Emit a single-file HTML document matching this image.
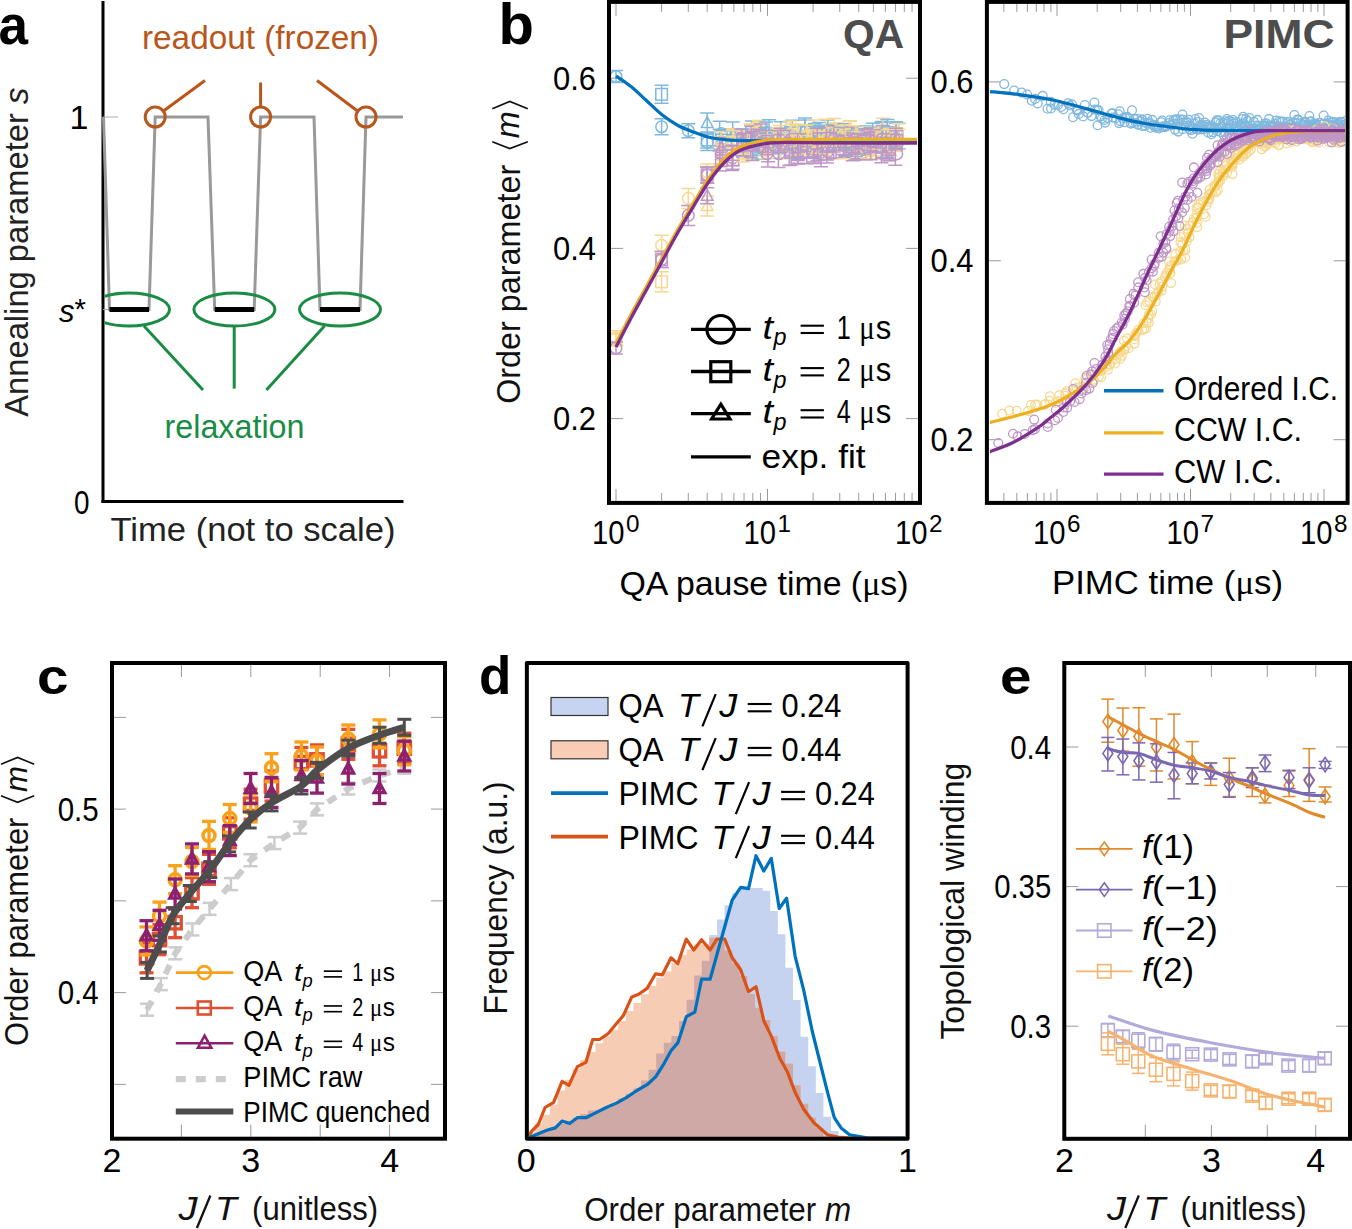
<!DOCTYPE html>
<html><head><meta charset="utf-8"><style>html,body{margin:0;padding:0;background:#fff;}svg{display:block;}</style></head>
<body><svg width="1352" height="1229" viewBox="0 0 1352 1229">
<rect width="1352" height="1229" fill="#fff"/>
<text x="-1.5" y="44.3" font-size="55" fill="#000" font-weight="bold" textLength="29.5" lengthAdjust="spacingAndGlyphs" font-family='"Liberation Sans", sans-serif' >a</text>
<line x1="103.00" y1="1.00" x2="103.00" y2="503.00" stroke="#000" stroke-width="3" />
<line x1="101.50" y1="501.60" x2="403.50" y2="501.60" stroke="#000" stroke-width="3" />
<line x1="103.00" y1="117.00" x2="118.00" y2="117.00" stroke="#aaa" stroke-width="1" />
<line x1="103.00" y1="309.50" x2="111.00" y2="309.50" stroke="#aaa" stroke-width="1" />
<path d="M103.5,117.0 L109.5,309.5 L149.0,309.5 L155.2,117.0 L208.0,117.0 L214.7,309.5 L254.2,309.5 L260.6,117.0 L314.0,117.0 L320.0,309.5 L360.0,309.5 L366.0,117.0 L403.0,117.0" stroke="#999" stroke-width="3" fill="none" stroke-linejoin="miter"/>
<line x1="109.50" y1="309.50" x2="149.00" y2="309.50" stroke="#000" stroke-width="5" />
<line x1="214.70" y1="309.50" x2="254.20" y2="309.50" stroke="#000" stroke-width="5" />
<line x1="320.00" y1="309.50" x2="360.00" y2="309.50" stroke="#000" stroke-width="5" />
<circle cx="155.2" cy="117" r="10" fill="none" stroke="#B8561B" stroke-width="3"/>
<circle cx="260.6" cy="117" r="10" fill="none" stroke="#B8561B" stroke-width="3"/>
<circle cx="366" cy="117" r="10" fill="none" stroke="#B8561B" stroke-width="3"/>
<line x1="163.50" y1="111.00" x2="205.00" y2="80.50" stroke="#B8561B" stroke-width="3" />
<line x1="260.60" y1="82.50" x2="260.60" y2="107.00" stroke="#B8561B" stroke-width="3" />
<line x1="317.00" y1="80.50" x2="357.50" y2="111.00" stroke="#B8561B" stroke-width="3" />
<clipPath id="clipA"><rect x="104.5" y="0" width="320" height="500"/></clipPath>
<ellipse cx="129" cy="309.5" rx="40.5" ry="16.5" fill="none" stroke="#1A8C44" stroke-width="3" clip-path="url(#clipA)"/>
<ellipse cx="234.4" cy="309.5" rx="40.5" ry="16.5" fill="none" stroke="#1A8C44" stroke-width="3" clip-path="url(#clipA)"/>
<ellipse cx="340" cy="309.5" rx="40.5" ry="16.5" fill="none" stroke="#1A8C44" stroke-width="3" clip-path="url(#clipA)"/>
<line x1="144.00" y1="326.00" x2="203.00" y2="390.00" stroke="#1A8C44" stroke-width="3" />
<line x1="234.20" y1="326.00" x2="234.20" y2="388.60" stroke="#1A8C44" stroke-width="3" />
<line x1="324.50" y1="326.00" x2="266.40" y2="390.00" stroke="#1A8C44" stroke-width="3" />
<text x="142.0" y="48.8" font-size="33" fill="#B8561B" textLength="237" lengthAdjust="spacingAndGlyphs" font-family='"Liberation Sans", sans-serif' >readout (frozen)</text>
<text x="164.5" y="437.9" font-size="33.5" fill="#1A8C44" textLength="140" lengthAdjust="spacingAndGlyphs" font-family='"Liberation Sans", sans-serif' >relaxation</text>
<text x="110.5" y="540.9" font-size="33.5" fill="#222" textLength="285" lengthAdjust="spacingAndGlyphs" font-family='"Liberation Sans", sans-serif' >Time (not to scale)</text>
<text x="88.5" y="128.6" font-size="34" fill="#000" text-anchor="end" font-family='"Liberation Sans", sans-serif' >1</text>
<text x="74.0" y="513.5" font-size="34" fill="#000" textLength="15.5" lengthAdjust="spacingAndGlyphs" font-family='"Liberation Sans", sans-serif' >0</text>
<text x="59.0" y="322.0" font-size="31" fill="#000" font-style="italic" font-family='"Liberation Sans", sans-serif' >s</text>
<text x="74.5" y="319.0" font-size="29" fill="#000" font-family='"Liberation Sans", sans-serif' >*</text>
<text transform="translate(27.7,416.7) rotate(-90)" x="0" y="0" font-size="33" fill="#222" font-family='"Liberation Sans", sans-serif' textLength="329" lengthAdjust="spacingAndGlyphs">Annealing parameter <tspan font-style="italic">s</tspan></text>
<text x="498.5" y="43.8" font-size="58" fill="#000" font-weight="bold" font-family='"Liberation Sans", sans-serif' >b</text>
<line x1="611.00" y1="78.20" x2="623.00" y2="78.20" stroke="#9a9a9a" stroke-width="1" />
<line x1="906.00" y1="78.20" x2="918.00" y2="78.20" stroke="#9a9a9a" stroke-width="1" />
<line x1="611.00" y1="248.40" x2="623.00" y2="248.40" stroke="#9a9a9a" stroke-width="1" />
<line x1="906.00" y1="248.40" x2="918.00" y2="248.40" stroke="#9a9a9a" stroke-width="1" />
<line x1="611.00" y1="418.60" x2="623.00" y2="418.60" stroke="#9a9a9a" stroke-width="1" />
<line x1="906.00" y1="418.60" x2="918.00" y2="418.60" stroke="#9a9a9a" stroke-width="1" />
<line x1="616.00" y1="3.90" x2="616.00" y2="15.90" stroke="#9a9a9a" stroke-width="1" />
<line x1="616.00" y1="488.90" x2="616.00" y2="500.90" stroke="#9a9a9a" stroke-width="1" />
<line x1="661.61" y1="3.90" x2="661.61" y2="11.90" stroke="#9a9a9a" stroke-width="1" />
<line x1="661.61" y1="492.90" x2="661.61" y2="500.90" stroke="#9a9a9a" stroke-width="1" />
<line x1="688.28" y1="3.90" x2="688.28" y2="11.90" stroke="#9a9a9a" stroke-width="1" />
<line x1="688.28" y1="492.90" x2="688.28" y2="500.90" stroke="#9a9a9a" stroke-width="1" />
<line x1="707.21" y1="3.90" x2="707.21" y2="11.90" stroke="#9a9a9a" stroke-width="1" />
<line x1="707.21" y1="492.90" x2="707.21" y2="500.90" stroke="#9a9a9a" stroke-width="1" />
<line x1="721.89" y1="3.90" x2="721.89" y2="11.90" stroke="#9a9a9a" stroke-width="1" />
<line x1="721.89" y1="492.90" x2="721.89" y2="500.90" stroke="#9a9a9a" stroke-width="1" />
<line x1="733.89" y1="3.90" x2="733.89" y2="11.90" stroke="#9a9a9a" stroke-width="1" />
<line x1="733.89" y1="492.90" x2="733.89" y2="500.90" stroke="#9a9a9a" stroke-width="1" />
<line x1="744.03" y1="3.90" x2="744.03" y2="11.90" stroke="#9a9a9a" stroke-width="1" />
<line x1="744.03" y1="492.90" x2="744.03" y2="500.90" stroke="#9a9a9a" stroke-width="1" />
<line x1="752.82" y1="3.90" x2="752.82" y2="11.90" stroke="#9a9a9a" stroke-width="1" />
<line x1="752.82" y1="492.90" x2="752.82" y2="500.90" stroke="#9a9a9a" stroke-width="1" />
<line x1="760.57" y1="3.90" x2="760.57" y2="11.90" stroke="#9a9a9a" stroke-width="1" />
<line x1="760.57" y1="492.90" x2="760.57" y2="500.90" stroke="#9a9a9a" stroke-width="1" />
<line x1="767.50" y1="3.90" x2="767.50" y2="15.90" stroke="#9a9a9a" stroke-width="1" />
<line x1="767.50" y1="488.90" x2="767.50" y2="500.90" stroke="#9a9a9a" stroke-width="1" />
<line x1="813.11" y1="3.90" x2="813.11" y2="11.90" stroke="#9a9a9a" stroke-width="1" />
<line x1="813.11" y1="492.90" x2="813.11" y2="500.90" stroke="#9a9a9a" stroke-width="1" />
<line x1="839.78" y1="3.90" x2="839.78" y2="11.90" stroke="#9a9a9a" stroke-width="1" />
<line x1="839.78" y1="492.90" x2="839.78" y2="500.90" stroke="#9a9a9a" stroke-width="1" />
<line x1="858.71" y1="3.90" x2="858.71" y2="11.90" stroke="#9a9a9a" stroke-width="1" />
<line x1="858.71" y1="492.90" x2="858.71" y2="500.90" stroke="#9a9a9a" stroke-width="1" />
<line x1="873.39" y1="3.90" x2="873.39" y2="11.90" stroke="#9a9a9a" stroke-width="1" />
<line x1="873.39" y1="492.90" x2="873.39" y2="500.90" stroke="#9a9a9a" stroke-width="1" />
<line x1="885.39" y1="3.90" x2="885.39" y2="11.90" stroke="#9a9a9a" stroke-width="1" />
<line x1="885.39" y1="492.90" x2="885.39" y2="500.90" stroke="#9a9a9a" stroke-width="1" />
<line x1="895.53" y1="3.90" x2="895.53" y2="11.90" stroke="#9a9a9a" stroke-width="1" />
<line x1="895.53" y1="492.90" x2="895.53" y2="500.90" stroke="#9a9a9a" stroke-width="1" />
<line x1="904.32" y1="3.90" x2="904.32" y2="11.90" stroke="#9a9a9a" stroke-width="1" />
<line x1="904.32" y1="492.90" x2="904.32" y2="500.90" stroke="#9a9a9a" stroke-width="1" />
<line x1="912.07" y1="3.90" x2="912.07" y2="11.90" stroke="#9a9a9a" stroke-width="1" />
<line x1="912.07" y1="492.90" x2="912.07" y2="500.90" stroke="#9a9a9a" stroke-width="1" />
<text x="596.0" y="89.7" font-size="34" fill="#000" text-anchor="end" textLength="43" lengthAdjust="spacingAndGlyphs" font-family='"Liberation Sans", sans-serif' >0.6</text>
<text x="596.0" y="259.9" font-size="34" fill="#000" text-anchor="end" textLength="43" lengthAdjust="spacingAndGlyphs" font-family='"Liberation Sans", sans-serif' >0.4</text>
<text x="596.0" y="430.1" font-size="34" fill="#000" text-anchor="end" textLength="43" lengthAdjust="spacingAndGlyphs" font-family='"Liberation Sans", sans-serif' >0.2</text>
<text x="592.0" y="543.6" font-size="34" fill="#000" textLength="32.5" lengthAdjust="spacingAndGlyphs" font-family='"Liberation Sans", sans-serif' >10</text>
<text x="626.0" y="532.3" font-size="24" fill="#000" textLength="13.5" lengthAdjust="spacingAndGlyphs" font-family='"Liberation Sans", sans-serif' >0</text>
<text x="743.5" y="543.6" font-size="34" fill="#000" textLength="32.5" lengthAdjust="spacingAndGlyphs" font-family='"Liberation Sans", sans-serif' >10</text>
<text x="777.5" y="532.3" font-size="24" fill="#000" textLength="13.5" lengthAdjust="spacingAndGlyphs" font-family='"Liberation Sans", sans-serif' >1</text>
<text x="895.0" y="543.6" font-size="34" fill="#000" textLength="32.5" lengthAdjust="spacingAndGlyphs" font-family='"Liberation Sans", sans-serif' >10</text>
<text x="929.0" y="532.3" font-size="24" fill="#000" textLength="13.5" lengthAdjust="spacingAndGlyphs" font-family='"Liberation Sans", sans-serif' >2</text>
<text x="619.5" y="594.5" font-size="33" fill="#000" textLength="289" lengthAdjust="spacingAndGlyphs" font-family='"Liberation Sans", sans-serif' >QA pause time (<tspan font-family='"Liberation Serif", serif'>μ</tspan>s)</text>
<text transform="translate(519.6,403.8) rotate(-90)" x="0" y="0" font-size="33" fill="#111" font-family='"Liberation Sans", sans-serif' textLength="239" lengthAdjust="spacingAndGlyphs">Order parameter</text>
<text transform="translate(518.8,138.3) rotate(-90)" x="0" y="0" font-size="33" fill="#111" font-style="italic" font-family='"Liberation Sans", sans-serif' textLength="27" lengthAdjust="spacingAndGlyphs">m</text>
<path d="M492.3,108.7 L509.8,101.4 L527.8,108.7" stroke="#111" stroke-width="1.7" fill="none" />
<path d="M492.3,141.7 L509.8,148.6 L527.8,141.7" stroke="#111" stroke-width="1.7" fill="none" />
<text x="843.0" y="48.3" font-size="40" fill="#4D4D4D" font-weight="bold" textLength="61" lengthAdjust="spacingAndGlyphs" font-family='"Liberation Sans", sans-serif' >QA</text>
<clipPath id="clipQA"><rect x="611" y="4.5" width="306" height="496"/></clipPath>
<g clip-path="url(#clipQA)">
<line x1="616.00" y1="70.50" x2="616.00" y2="82.50" stroke="#80B8DE" stroke-width="1.5" />
<line x1="609.00" y1="70.50" x2="623.00" y2="70.50" stroke="#80B8DE" stroke-width="1.5" />
<line x1="609.00" y1="82.50" x2="623.00" y2="82.50" stroke="#80B8DE" stroke-width="1.5" />
<circle cx="616.0" cy="76.5" r="5.8" fill="none" stroke="#80B8DE" stroke-width="1.5"/>
<line x1="661.61" y1="118.80" x2="661.61" y2="134.80" stroke="#80B8DE" stroke-width="1.5" />
<line x1="654.61" y1="118.80" x2="668.61" y2="118.80" stroke="#80B8DE" stroke-width="1.5" />
<line x1="654.61" y1="134.80" x2="668.61" y2="134.80" stroke="#80B8DE" stroke-width="1.5" />
<circle cx="661.6" cy="126.8" r="5.8" fill="none" stroke="#80B8DE" stroke-width="1.5"/>
<line x1="688.28" y1="123.70" x2="688.28" y2="137.70" stroke="#80B8DE" stroke-width="1.5" />
<line x1="681.28" y1="123.70" x2="695.28" y2="123.70" stroke="#80B8DE" stroke-width="1.5" />
<line x1="681.28" y1="137.70" x2="695.28" y2="137.70" stroke="#80B8DE" stroke-width="1.5" />
<circle cx="688.3" cy="130.7" r="5.8" fill="none" stroke="#80B8DE" stroke-width="1.5"/>
<line x1="707.21" y1="134.40" x2="707.21" y2="150.40" stroke="#80B8DE" stroke-width="1.5" />
<line x1="700.21" y1="134.40" x2="714.21" y2="134.40" stroke="#80B8DE" stroke-width="1.5" />
<line x1="700.21" y1="150.40" x2="714.21" y2="150.40" stroke="#80B8DE" stroke-width="1.5" />
<circle cx="707.2" cy="142.4" r="5.8" fill="none" stroke="#80B8DE" stroke-width="1.5"/>
<line x1="661.61" y1="85.30" x2="661.61" y2="103.30" stroke="#80B8DE" stroke-width="1.5" />
<line x1="654.61" y1="85.30" x2="668.61" y2="85.30" stroke="#80B8DE" stroke-width="1.5" />
<line x1="654.61" y1="103.30" x2="668.61" y2="103.30" stroke="#80B8DE" stroke-width="1.5" />
<rect x="655.8" y="88.5" width="11.6" height="11.6" fill="none" stroke="#80B8DE" stroke-width="1.5"/>
<line x1="707.21" y1="132.00" x2="707.21" y2="148.00" stroke="#80B8DE" stroke-width="1.5" />
<line x1="700.21" y1="132.00" x2="714.21" y2="132.00" stroke="#80B8DE" stroke-width="1.5" />
<line x1="700.21" y1="148.00" x2="714.21" y2="148.00" stroke="#80B8DE" stroke-width="1.5" />
<rect x="701.4" y="134.2" width="11.6" height="11.6" fill="none" stroke="#80B8DE" stroke-width="1.5"/>
<line x1="707.21" y1="113.00" x2="707.21" y2="133.00" stroke="#80B8DE" stroke-width="1.5" />
<line x1="700.21" y1="113.00" x2="714.21" y2="113.00" stroke="#80B8DE" stroke-width="1.5" />
<line x1="700.21" y1="133.00" x2="714.21" y2="133.00" stroke="#80B8DE" stroke-width="1.5" />
<path d="M707.2,116.6 L713.0,127.5 L701.4,127.5 Z" fill="none" stroke="#80B8DE" stroke-width="1.5"/>
<line x1="616.00" y1="330.80" x2="616.00" y2="344.80" stroke="#F6D890" stroke-width="1.5" />
<line x1="609.00" y1="330.80" x2="623.00" y2="330.80" stroke="#F6D890" stroke-width="1.5" />
<line x1="609.00" y1="344.80" x2="623.00" y2="344.80" stroke="#F6D890" stroke-width="1.5" />
<circle cx="616.0" cy="337.8" r="5.8" fill="none" stroke="#F6D890" stroke-width="1.5"/>
<line x1="661.61" y1="235.30" x2="661.61" y2="255.30" stroke="#F6D890" stroke-width="1.5" />
<line x1="654.61" y1="235.30" x2="668.61" y2="235.30" stroke="#F6D890" stroke-width="1.5" />
<line x1="654.61" y1="255.30" x2="668.61" y2="255.30" stroke="#F6D890" stroke-width="1.5" />
<circle cx="661.6" cy="245.3" r="5.8" fill="none" stroke="#F6D890" stroke-width="1.5"/>
<line x1="688.28" y1="188.40" x2="688.28" y2="208.40" stroke="#F6D890" stroke-width="1.5" />
<line x1="681.28" y1="188.40" x2="695.28" y2="188.40" stroke="#F6D890" stroke-width="1.5" />
<line x1="681.28" y1="208.40" x2="695.28" y2="208.40" stroke="#F6D890" stroke-width="1.5" />
<circle cx="688.3" cy="198.4" r="5.8" fill="none" stroke="#F6D890" stroke-width="1.5"/>
<line x1="707.21" y1="164.00" x2="707.21" y2="180.00" stroke="#F6D890" stroke-width="1.5" />
<line x1="700.21" y1="164.00" x2="714.21" y2="164.00" stroke="#F6D890" stroke-width="1.5" />
<line x1="700.21" y1="180.00" x2="714.21" y2="180.00" stroke="#F6D890" stroke-width="1.5" />
<circle cx="707.2" cy="172.0" r="5.8" fill="none" stroke="#F6D890" stroke-width="1.5"/>
<line x1="616.00" y1="334.00" x2="616.00" y2="346.00" stroke="#F6D890" stroke-width="1.5" />
<line x1="609.00" y1="334.00" x2="623.00" y2="334.00" stroke="#F6D890" stroke-width="1.5" />
<line x1="609.00" y1="346.00" x2="623.00" y2="346.00" stroke="#F6D890" stroke-width="1.5" />
<rect x="610.2" y="334.2" width="11.6" height="11.6" fill="none" stroke="#F6D890" stroke-width="1.5"/>
<line x1="661.61" y1="271.80" x2="661.61" y2="291.80" stroke="#F6D890" stroke-width="1.5" />
<line x1="654.61" y1="271.80" x2="668.61" y2="271.80" stroke="#F6D890" stroke-width="1.5" />
<line x1="654.61" y1="291.80" x2="668.61" y2="291.80" stroke="#F6D890" stroke-width="1.5" />
<rect x="655.8" y="276.0" width="11.6" height="11.6" fill="none" stroke="#F6D890" stroke-width="1.5"/>
<line x1="707.21" y1="167.00" x2="707.21" y2="183.00" stroke="#F6D890" stroke-width="1.5" />
<line x1="700.21" y1="167.00" x2="714.21" y2="167.00" stroke="#F6D890" stroke-width="1.5" />
<line x1="700.21" y1="183.00" x2="714.21" y2="183.00" stroke="#F6D890" stroke-width="1.5" />
<rect x="701.4" y="169.2" width="11.6" height="11.6" fill="none" stroke="#F6D890" stroke-width="1.5"/>
<line x1="707.21" y1="196.00" x2="707.21" y2="216.00" stroke="#F6D890" stroke-width="1.5" />
<line x1="700.21" y1="196.00" x2="714.21" y2="196.00" stroke="#F6D890" stroke-width="1.5" />
<line x1="700.21" y1="216.00" x2="714.21" y2="216.00" stroke="#F6D890" stroke-width="1.5" />
<path d="M707.2,199.6 L713.0,210.5 L701.4,210.5 Z" fill="none" stroke="#F6D890" stroke-width="1.5"/>
<line x1="616.00" y1="342.00" x2="616.00" y2="354.00" stroke="#BF97C7" stroke-width="1.5" />
<line x1="609.00" y1="342.00" x2="623.00" y2="342.00" stroke="#BF97C7" stroke-width="1.5" />
<line x1="609.00" y1="354.00" x2="623.00" y2="354.00" stroke="#BF97C7" stroke-width="1.5" />
<circle cx="616.0" cy="348.0" r="5.8" fill="none" stroke="#BF97C7" stroke-width="1.5"/>
<line x1="661.61" y1="251.60" x2="661.61" y2="267.60" stroke="#BF97C7" stroke-width="1.5" />
<line x1="654.61" y1="251.60" x2="668.61" y2="251.60" stroke="#BF97C7" stroke-width="1.5" />
<line x1="654.61" y1="267.60" x2="668.61" y2="267.60" stroke="#BF97C7" stroke-width="1.5" />
<circle cx="661.6" cy="259.6" r="5.8" fill="none" stroke="#BF97C7" stroke-width="1.5"/>
<line x1="688.28" y1="205.40" x2="688.28" y2="225.40" stroke="#BF97C7" stroke-width="1.5" />
<line x1="681.28" y1="205.40" x2="695.28" y2="205.40" stroke="#BF97C7" stroke-width="1.5" />
<line x1="681.28" y1="225.40" x2="695.28" y2="225.40" stroke="#BF97C7" stroke-width="1.5" />
<circle cx="688.3" cy="215.4" r="5.8" fill="none" stroke="#BF97C7" stroke-width="1.5"/>
<line x1="707.21" y1="167.00" x2="707.21" y2="183.00" stroke="#BF97C7" stroke-width="1.5" />
<line x1="700.21" y1="167.00" x2="714.21" y2="167.00" stroke="#BF97C7" stroke-width="1.5" />
<line x1="700.21" y1="183.00" x2="714.21" y2="183.00" stroke="#BF97C7" stroke-width="1.5" />
<circle cx="707.2" cy="175.0" r="5.8" fill="none" stroke="#BF97C7" stroke-width="1.5"/>
<line x1="661.61" y1="251.60" x2="661.61" y2="267.60" stroke="#BF97C7" stroke-width="1.5" />
<line x1="654.61" y1="251.60" x2="668.61" y2="251.60" stroke="#BF97C7" stroke-width="1.5" />
<line x1="654.61" y1="267.60" x2="668.61" y2="267.60" stroke="#BF97C7" stroke-width="1.5" />
<rect x="655.8" y="253.8" width="11.6" height="11.6" fill="none" stroke="#BF97C7" stroke-width="1.5"/>
<line x1="707.21" y1="167.00" x2="707.21" y2="183.00" stroke="#BF97C7" stroke-width="1.5" />
<line x1="700.21" y1="167.00" x2="714.21" y2="167.00" stroke="#BF97C7" stroke-width="1.5" />
<line x1="700.21" y1="183.00" x2="714.21" y2="183.00" stroke="#BF97C7" stroke-width="1.5" />
<rect x="701.4" y="169.2" width="11.6" height="11.6" fill="none" stroke="#BF97C7" stroke-width="1.5"/>
<line x1="707.21" y1="187.80" x2="707.21" y2="203.80" stroke="#BF97C7" stroke-width="1.5" />
<line x1="700.21" y1="187.80" x2="714.21" y2="187.80" stroke="#BF97C7" stroke-width="1.5" />
<line x1="700.21" y1="203.80" x2="714.21" y2="203.80" stroke="#BF97C7" stroke-width="1.5" />
<path d="M707.2,189.4 L713.0,200.3 L701.4,200.3 Z" fill="none" stroke="#BF97C7" stroke-width="1.5"/>
<line x1="719.66" y1="121.31" x2="719.66" y2="145.82" stroke="#80B8DE" stroke-width="1.5" />
<line x1="712.66" y1="121.31" x2="726.66" y2="121.31" stroke="#80B8DE" stroke-width="1.5" />
<line x1="712.66" y1="145.82" x2="726.66" y2="145.82" stroke="#80B8DE" stroke-width="1.5" />
<circle cx="721.4" cy="133.6" r="5.8" fill="none" stroke="#80B8DE" stroke-width="1.5"/>
<line x1="719.60" y1="129.28" x2="719.60" y2="150.94" stroke="#80B8DE" stroke-width="1.5" />
<line x1="712.60" y1="129.28" x2="726.60" y2="129.28" stroke="#80B8DE" stroke-width="1.5" />
<line x1="712.60" y1="150.94" x2="726.60" y2="150.94" stroke="#80B8DE" stroke-width="1.5" />
<rect x="715.6" y="134.3" width="11.6" height="11.6" fill="none" stroke="#80B8DE" stroke-width="1.5"/>
<line x1="721.10" y1="130.44" x2="721.10" y2="148.81" stroke="#80B8DE" stroke-width="1.5" />
<line x1="714.10" y1="130.44" x2="728.10" y2="130.44" stroke="#80B8DE" stroke-width="1.5" />
<line x1="714.10" y1="148.81" x2="728.10" y2="148.81" stroke="#80B8DE" stroke-width="1.5" />
<path d="M721.4,133.2 L727.2,144.1 L715.6,144.1 Z" fill="none" stroke="#80B8DE" stroke-width="1.5"/>
<line x1="721.06" y1="131.73" x2="721.06" y2="150.64" stroke="#F6D890" stroke-width="1.5" />
<line x1="714.06" y1="131.73" x2="728.06" y2="131.73" stroke="#F6D890" stroke-width="1.5" />
<line x1="714.06" y1="150.64" x2="728.06" y2="150.64" stroke="#F6D890" stroke-width="1.5" />
<circle cx="721.4" cy="141.2" r="5.8" fill="none" stroke="#F6D890" stroke-width="1.5"/>
<line x1="720.26" y1="144.44" x2="720.26" y2="163.68" stroke="#F6D890" stroke-width="1.5" />
<line x1="713.26" y1="144.44" x2="727.26" y2="144.44" stroke="#F6D890" stroke-width="1.5" />
<line x1="713.26" y1="163.68" x2="727.26" y2="163.68" stroke="#F6D890" stroke-width="1.5" />
<rect x="715.6" y="148.3" width="11.6" height="11.6" fill="none" stroke="#F6D890" stroke-width="1.5"/>
<line x1="721.67" y1="136.93" x2="721.67" y2="164.40" stroke="#F6D890" stroke-width="1.5" />
<line x1="714.67" y1="136.93" x2="728.67" y2="136.93" stroke="#F6D890" stroke-width="1.5" />
<line x1="714.67" y1="164.40" x2="728.67" y2="164.40" stroke="#F6D890" stroke-width="1.5" />
<path d="M721.4,144.3 L727.2,155.1 L715.6,155.1 Z" fill="none" stroke="#F6D890" stroke-width="1.5"/>
<line x1="719.55" y1="138.86" x2="719.55" y2="166.62" stroke="#BF97C7" stroke-width="1.5" />
<line x1="712.55" y1="138.86" x2="726.55" y2="138.86" stroke="#BF97C7" stroke-width="1.5" />
<line x1="712.55" y1="166.62" x2="726.55" y2="166.62" stroke="#BF97C7" stroke-width="1.5" />
<circle cx="721.4" cy="152.7" r="5.8" fill="none" stroke="#BF97C7" stroke-width="1.5"/>
<line x1="719.94" y1="150.15" x2="719.94" y2="171.04" stroke="#BF97C7" stroke-width="1.5" />
<line x1="712.94" y1="150.15" x2="726.94" y2="150.15" stroke="#BF97C7" stroke-width="1.5" />
<line x1="712.94" y1="171.04" x2="726.94" y2="171.04" stroke="#BF97C7" stroke-width="1.5" />
<rect x="715.6" y="154.8" width="11.6" height="11.6" fill="none" stroke="#BF97C7" stroke-width="1.5"/>
<line x1="722.63" y1="137.46" x2="722.63" y2="158.54" stroke="#BF97C7" stroke-width="1.5" />
<line x1="715.63" y1="137.46" x2="729.63" y2="137.46" stroke="#BF97C7" stroke-width="1.5" />
<line x1="715.63" y1="158.54" x2="729.63" y2="158.54" stroke="#BF97C7" stroke-width="1.5" />
<path d="M721.4,141.6 L727.2,152.5 L715.6,152.5 Z" fill="none" stroke="#BF97C7" stroke-width="1.5"/>
<line x1="732.42" y1="128.69" x2="732.42" y2="153.08" stroke="#80B8DE" stroke-width="1.5" />
<line x1="725.42" y1="128.69" x2="739.42" y2="128.69" stroke="#80B8DE" stroke-width="1.5" />
<line x1="725.42" y1="153.08" x2="739.42" y2="153.08" stroke="#80B8DE" stroke-width="1.5" />
<circle cx="732.9" cy="140.9" r="5.8" fill="none" stroke="#80B8DE" stroke-width="1.5"/>
<line x1="731.17" y1="131.00" x2="731.17" y2="149.63" stroke="#80B8DE" stroke-width="1.5" />
<line x1="724.17" y1="131.00" x2="738.17" y2="131.00" stroke="#80B8DE" stroke-width="1.5" />
<line x1="724.17" y1="149.63" x2="738.17" y2="149.63" stroke="#80B8DE" stroke-width="1.5" />
<rect x="727.1" y="134.5" width="11.6" height="11.6" fill="none" stroke="#80B8DE" stroke-width="1.5"/>
<line x1="732.64" y1="122.10" x2="732.64" y2="146.90" stroke="#80B8DE" stroke-width="1.5" />
<line x1="725.64" y1="122.10" x2="739.64" y2="122.10" stroke="#80B8DE" stroke-width="1.5" />
<line x1="725.64" y1="146.90" x2="739.64" y2="146.90" stroke="#80B8DE" stroke-width="1.5" />
<path d="M732.9,128.1 L738.7,139.0 L727.1,139.0 Z" fill="none" stroke="#80B8DE" stroke-width="1.5"/>
<line x1="732.74" y1="130.41" x2="732.74" y2="154.27" stroke="#F6D890" stroke-width="1.5" />
<line x1="725.74" y1="130.41" x2="739.74" y2="130.41" stroke="#F6D890" stroke-width="1.5" />
<line x1="725.74" y1="154.27" x2="739.74" y2="154.27" stroke="#F6D890" stroke-width="1.5" />
<circle cx="732.9" cy="142.3" r="5.8" fill="none" stroke="#F6D890" stroke-width="1.5"/>
<line x1="733.73" y1="129.12" x2="733.73" y2="155.07" stroke="#F6D890" stroke-width="1.5" />
<line x1="726.73" y1="129.12" x2="740.73" y2="129.12" stroke="#F6D890" stroke-width="1.5" />
<line x1="726.73" y1="155.07" x2="740.73" y2="155.07" stroke="#F6D890" stroke-width="1.5" />
<rect x="727.1" y="136.3" width="11.6" height="11.6" fill="none" stroke="#F6D890" stroke-width="1.5"/>
<line x1="733.03" y1="129.28" x2="733.03" y2="153.02" stroke="#F6D890" stroke-width="1.5" />
<line x1="726.03" y1="129.28" x2="740.03" y2="129.28" stroke="#F6D890" stroke-width="1.5" />
<line x1="726.03" y1="153.02" x2="740.03" y2="153.02" stroke="#F6D890" stroke-width="1.5" />
<path d="M732.9,134.8 L738.7,145.6 L727.1,145.6 Z" fill="none" stroke="#F6D890" stroke-width="1.5"/>
<line x1="732.08" y1="145.23" x2="732.08" y2="170.52" stroke="#BF97C7" stroke-width="1.5" />
<line x1="725.08" y1="145.23" x2="739.08" y2="145.23" stroke="#BF97C7" stroke-width="1.5" />
<line x1="725.08" y1="170.52" x2="739.08" y2="170.52" stroke="#BF97C7" stroke-width="1.5" />
<circle cx="732.9" cy="157.9" r="5.8" fill="none" stroke="#BF97C7" stroke-width="1.5"/>
<line x1="732.60" y1="150.07" x2="732.60" y2="169.25" stroke="#BF97C7" stroke-width="1.5" />
<line x1="725.60" y1="150.07" x2="739.60" y2="150.07" stroke="#BF97C7" stroke-width="1.5" />
<line x1="725.60" y1="169.25" x2="739.60" y2="169.25" stroke="#BF97C7" stroke-width="1.5" />
<rect x="727.1" y="153.9" width="11.6" height="11.6" fill="none" stroke="#BF97C7" stroke-width="1.5"/>
<line x1="732.89" y1="146.11" x2="732.89" y2="165.63" stroke="#BF97C7" stroke-width="1.5" />
<line x1="725.89" y1="146.11" x2="739.89" y2="146.11" stroke="#BF97C7" stroke-width="1.5" />
<line x1="725.89" y1="165.63" x2="739.89" y2="165.63" stroke="#BF97C7" stroke-width="1.5" />
<path d="M732.9,149.5 L738.7,160.3 L727.1,160.3 Z" fill="none" stroke="#BF97C7" stroke-width="1.5"/>
<line x1="742.94" y1="129.54" x2="742.94" y2="155.18" stroke="#80B8DE" stroke-width="1.5" />
<line x1="735.94" y1="129.54" x2="749.94" y2="129.54" stroke="#80B8DE" stroke-width="1.5" />
<line x1="735.94" y1="155.18" x2="749.94" y2="155.18" stroke="#80B8DE" stroke-width="1.5" />
<circle cx="742.6" cy="142.4" r="5.8" fill="none" stroke="#80B8DE" stroke-width="1.5"/>
<line x1="743.43" y1="135.31" x2="743.43" y2="156.45" stroke="#80B8DE" stroke-width="1.5" />
<line x1="736.43" y1="135.31" x2="750.43" y2="135.31" stroke="#80B8DE" stroke-width="1.5" />
<line x1="736.43" y1="156.45" x2="750.43" y2="156.45" stroke="#80B8DE" stroke-width="1.5" />
<rect x="736.8" y="140.1" width="11.6" height="11.6" fill="none" stroke="#80B8DE" stroke-width="1.5"/>
<line x1="742.47" y1="129.20" x2="742.47" y2="153.00" stroke="#80B8DE" stroke-width="1.5" />
<line x1="735.47" y1="129.20" x2="749.47" y2="129.20" stroke="#80B8DE" stroke-width="1.5" />
<line x1="735.47" y1="153.00" x2="749.47" y2="153.00" stroke="#80B8DE" stroke-width="1.5" />
<path d="M742.6,134.7 L748.4,145.6 L736.8,145.6 Z" fill="none" stroke="#80B8DE" stroke-width="1.5"/>
<line x1="742.55" y1="134.56" x2="742.55" y2="162.00" stroke="#F6D890" stroke-width="1.5" />
<line x1="735.55" y1="134.56" x2="749.55" y2="134.56" stroke="#F6D890" stroke-width="1.5" />
<line x1="735.55" y1="162.00" x2="749.55" y2="162.00" stroke="#F6D890" stroke-width="1.5" />
<circle cx="742.6" cy="148.3" r="5.8" fill="none" stroke="#F6D890" stroke-width="1.5"/>
<line x1="743.46" y1="135.99" x2="743.46" y2="154.59" stroke="#F6D890" stroke-width="1.5" />
<line x1="736.46" y1="135.99" x2="750.46" y2="135.99" stroke="#F6D890" stroke-width="1.5" />
<line x1="736.46" y1="154.59" x2="750.46" y2="154.59" stroke="#F6D890" stroke-width="1.5" />
<rect x="736.8" y="139.5" width="11.6" height="11.6" fill="none" stroke="#F6D890" stroke-width="1.5"/>
<line x1="743.94" y1="131.04" x2="743.94" y2="158.97" stroke="#F6D890" stroke-width="1.5" />
<line x1="736.94" y1="131.04" x2="750.94" y2="131.04" stroke="#F6D890" stroke-width="1.5" />
<line x1="736.94" y1="158.97" x2="750.94" y2="158.97" stroke="#F6D890" stroke-width="1.5" />
<path d="M742.6,138.6 L748.4,149.5 L736.8,149.5 Z" fill="none" stroke="#F6D890" stroke-width="1.5"/>
<line x1="743.32" y1="133.91" x2="743.32" y2="155.77" stroke="#BF97C7" stroke-width="1.5" />
<line x1="736.32" y1="133.91" x2="750.32" y2="133.91" stroke="#BF97C7" stroke-width="1.5" />
<line x1="736.32" y1="155.77" x2="750.32" y2="155.77" stroke="#BF97C7" stroke-width="1.5" />
<circle cx="742.6" cy="144.8" r="5.8" fill="none" stroke="#BF97C7" stroke-width="1.5"/>
<line x1="741.32" y1="129.08" x2="741.32" y2="151.69" stroke="#BF97C7" stroke-width="1.5" />
<line x1="734.32" y1="129.08" x2="748.32" y2="129.08" stroke="#BF97C7" stroke-width="1.5" />
<line x1="734.32" y1="151.69" x2="748.32" y2="151.69" stroke="#BF97C7" stroke-width="1.5" />
<rect x="736.8" y="134.6" width="11.6" height="11.6" fill="none" stroke="#BF97C7" stroke-width="1.5"/>
<line x1="743.72" y1="132.70" x2="743.72" y2="151.29" stroke="#BF97C7" stroke-width="1.5" />
<line x1="736.72" y1="132.70" x2="750.72" y2="132.70" stroke="#BF97C7" stroke-width="1.5" />
<line x1="736.72" y1="151.29" x2="750.72" y2="151.29" stroke="#BF97C7" stroke-width="1.5" />
<path d="M742.6,135.6 L748.4,146.5 L736.8,146.5 Z" fill="none" stroke="#BF97C7" stroke-width="1.5"/>
<line x1="753.19" y1="124.25" x2="753.19" y2="146.16" stroke="#80B8DE" stroke-width="1.5" />
<line x1="746.19" y1="124.25" x2="760.19" y2="124.25" stroke="#80B8DE" stroke-width="1.5" />
<line x1="746.19" y1="146.16" x2="760.19" y2="146.16" stroke="#80B8DE" stroke-width="1.5" />
<circle cx="751.7" cy="135.2" r="5.8" fill="none" stroke="#80B8DE" stroke-width="1.5"/>
<line x1="751.90" y1="121.12" x2="751.90" y2="143.62" stroke="#80B8DE" stroke-width="1.5" />
<line x1="744.90" y1="121.12" x2="758.90" y2="121.12" stroke="#80B8DE" stroke-width="1.5" />
<line x1="744.90" y1="143.62" x2="758.90" y2="143.62" stroke="#80B8DE" stroke-width="1.5" />
<rect x="745.9" y="126.6" width="11.6" height="11.6" fill="none" stroke="#80B8DE" stroke-width="1.5"/>
<line x1="753.16" y1="132.92" x2="753.16" y2="159.11" stroke="#80B8DE" stroke-width="1.5" />
<line x1="746.16" y1="132.92" x2="760.16" y2="132.92" stroke="#80B8DE" stroke-width="1.5" />
<line x1="746.16" y1="159.11" x2="760.16" y2="159.11" stroke="#80B8DE" stroke-width="1.5" />
<path d="M751.7,139.6 L757.5,150.5 L745.9,150.5 Z" fill="none" stroke="#80B8DE" stroke-width="1.5"/>
<line x1="751.14" y1="124.66" x2="751.14" y2="146.81" stroke="#F6D890" stroke-width="1.5" />
<line x1="744.14" y1="124.66" x2="758.14" y2="124.66" stroke="#F6D890" stroke-width="1.5" />
<line x1="744.14" y1="146.81" x2="758.14" y2="146.81" stroke="#F6D890" stroke-width="1.5" />
<circle cx="751.7" cy="135.7" r="5.8" fill="none" stroke="#F6D890" stroke-width="1.5"/>
<line x1="750.31" y1="132.24" x2="750.31" y2="159.82" stroke="#F6D890" stroke-width="1.5" />
<line x1="743.31" y1="132.24" x2="757.31" y2="132.24" stroke="#F6D890" stroke-width="1.5" />
<line x1="743.31" y1="159.82" x2="757.31" y2="159.82" stroke="#F6D890" stroke-width="1.5" />
<rect x="745.9" y="140.2" width="11.6" height="11.6" fill="none" stroke="#F6D890" stroke-width="1.5"/>
<line x1="750.64" y1="123.84" x2="750.64" y2="144.16" stroke="#F6D890" stroke-width="1.5" />
<line x1="743.64" y1="123.84" x2="757.64" y2="123.84" stroke="#F6D890" stroke-width="1.5" />
<line x1="743.64" y1="144.16" x2="757.64" y2="144.16" stroke="#F6D890" stroke-width="1.5" />
<path d="M751.7,127.6 L757.5,138.5 L745.9,138.5 Z" fill="none" stroke="#F6D890" stroke-width="1.5"/>
<line x1="750.76" y1="133.30" x2="750.76" y2="157.19" stroke="#BF97C7" stroke-width="1.5" />
<line x1="743.76" y1="133.30" x2="757.76" y2="133.30" stroke="#BF97C7" stroke-width="1.5" />
<line x1="743.76" y1="157.19" x2="757.76" y2="157.19" stroke="#BF97C7" stroke-width="1.5" />
<circle cx="751.7" cy="145.2" r="5.8" fill="none" stroke="#BF97C7" stroke-width="1.5"/>
<line x1="751.18" y1="125.97" x2="751.18" y2="148.16" stroke="#BF97C7" stroke-width="1.5" />
<line x1="744.18" y1="125.97" x2="758.18" y2="125.97" stroke="#BF97C7" stroke-width="1.5" />
<line x1="744.18" y1="148.16" x2="758.18" y2="148.16" stroke="#BF97C7" stroke-width="1.5" />
<rect x="745.9" y="131.3" width="11.6" height="11.6" fill="none" stroke="#BF97C7" stroke-width="1.5"/>
<line x1="752.47" y1="132.86" x2="752.47" y2="160.39" stroke="#BF97C7" stroke-width="1.5" />
<line x1="745.47" y1="132.86" x2="759.47" y2="132.86" stroke="#BF97C7" stroke-width="1.5" />
<line x1="745.47" y1="160.39" x2="759.47" y2="160.39" stroke="#BF97C7" stroke-width="1.5" />
<path d="M751.7,140.2 L757.5,151.1 L745.9,151.1 Z" fill="none" stroke="#BF97C7" stroke-width="1.5"/>
<line x1="758.83" y1="129.12" x2="758.83" y2="153.88" stroke="#80B8DE" stroke-width="1.5" />
<line x1="751.83" y1="129.12" x2="765.83" y2="129.12" stroke="#80B8DE" stroke-width="1.5" />
<line x1="751.83" y1="153.88" x2="765.83" y2="153.88" stroke="#80B8DE" stroke-width="1.5" />
<circle cx="760.6" cy="141.5" r="5.8" fill="none" stroke="#80B8DE" stroke-width="1.5"/>
<line x1="762.11" y1="133.39" x2="762.11" y2="159.19" stroke="#80B8DE" stroke-width="1.5" />
<line x1="755.11" y1="133.39" x2="769.11" y2="133.39" stroke="#80B8DE" stroke-width="1.5" />
<line x1="755.11" y1="159.19" x2="769.11" y2="159.19" stroke="#80B8DE" stroke-width="1.5" />
<rect x="754.8" y="140.5" width="11.6" height="11.6" fill="none" stroke="#80B8DE" stroke-width="1.5"/>
<line x1="760.21" y1="133.60" x2="760.21" y2="155.53" stroke="#80B8DE" stroke-width="1.5" />
<line x1="753.21" y1="133.60" x2="767.21" y2="133.60" stroke="#80B8DE" stroke-width="1.5" />
<line x1="753.21" y1="155.53" x2="767.21" y2="155.53" stroke="#80B8DE" stroke-width="1.5" />
<path d="M760.6,138.2 L766.4,149.0 L754.8,149.0 Z" fill="none" stroke="#80B8DE" stroke-width="1.5"/>
<line x1="758.86" y1="120.59" x2="758.86" y2="144.93" stroke="#F6D890" stroke-width="1.5" />
<line x1="751.86" y1="120.59" x2="765.86" y2="120.59" stroke="#F6D890" stroke-width="1.5" />
<line x1="751.86" y1="144.93" x2="765.86" y2="144.93" stroke="#F6D890" stroke-width="1.5" />
<circle cx="760.6" cy="132.8" r="5.8" fill="none" stroke="#F6D890" stroke-width="1.5"/>
<line x1="759.26" y1="122.10" x2="759.26" y2="142.19" stroke="#F6D890" stroke-width="1.5" />
<line x1="752.26" y1="122.10" x2="766.26" y2="122.10" stroke="#F6D890" stroke-width="1.5" />
<line x1="752.26" y1="142.19" x2="766.26" y2="142.19" stroke="#F6D890" stroke-width="1.5" />
<rect x="754.8" y="126.3" width="11.6" height="11.6" fill="none" stroke="#F6D890" stroke-width="1.5"/>
<line x1="758.62" y1="127.52" x2="758.62" y2="146.04" stroke="#F6D890" stroke-width="1.5" />
<line x1="751.62" y1="127.52" x2="765.62" y2="127.52" stroke="#F6D890" stroke-width="1.5" />
<line x1="751.62" y1="146.04" x2="765.62" y2="146.04" stroke="#F6D890" stroke-width="1.5" />
<path d="M760.6,130.4 L766.4,141.2 L754.8,141.2 Z" fill="none" stroke="#F6D890" stroke-width="1.5"/>
<line x1="760.07" y1="130.06" x2="760.07" y2="149.08" stroke="#BF97C7" stroke-width="1.5" />
<line x1="753.07" y1="130.06" x2="767.07" y2="130.06" stroke="#BF97C7" stroke-width="1.5" />
<line x1="753.07" y1="149.08" x2="767.07" y2="149.08" stroke="#BF97C7" stroke-width="1.5" />
<circle cx="760.6" cy="139.6" r="5.8" fill="none" stroke="#BF97C7" stroke-width="1.5"/>
<line x1="761.07" y1="124.06" x2="761.07" y2="150.81" stroke="#BF97C7" stroke-width="1.5" />
<line x1="754.07" y1="124.06" x2="768.07" y2="124.06" stroke="#BF97C7" stroke-width="1.5" />
<line x1="754.07" y1="150.81" x2="768.07" y2="150.81" stroke="#BF97C7" stroke-width="1.5" />
<rect x="754.8" y="131.6" width="11.6" height="11.6" fill="none" stroke="#BF97C7" stroke-width="1.5"/>
<line x1="760.00" y1="129.26" x2="760.00" y2="149.79" stroke="#BF97C7" stroke-width="1.5" />
<line x1="753.00" y1="129.26" x2="767.00" y2="129.26" stroke="#BF97C7" stroke-width="1.5" />
<line x1="753.00" y1="149.79" x2="767.00" y2="149.79" stroke="#BF97C7" stroke-width="1.5" />
<path d="M760.6,133.1 L766.4,144.0 L754.8,144.0 Z" fill="none" stroke="#BF97C7" stroke-width="1.5"/>
<line x1="769.06" y1="119.84" x2="769.06" y2="146.33" stroke="#80B8DE" stroke-width="1.5" />
<line x1="762.06" y1="119.84" x2="776.06" y2="119.84" stroke="#80B8DE" stroke-width="1.5" />
<line x1="762.06" y1="146.33" x2="776.06" y2="146.33" stroke="#80B8DE" stroke-width="1.5" />
<circle cx="767.1" cy="133.1" r="5.8" fill="none" stroke="#80B8DE" stroke-width="1.5"/>
<line x1="765.44" y1="127.50" x2="765.44" y2="150.34" stroke="#80B8DE" stroke-width="1.5" />
<line x1="758.44" y1="127.50" x2="772.44" y2="127.50" stroke="#80B8DE" stroke-width="1.5" />
<line x1="758.44" y1="150.34" x2="772.44" y2="150.34" stroke="#80B8DE" stroke-width="1.5" />
<rect x="761.3" y="133.1" width="11.6" height="11.6" fill="none" stroke="#80B8DE" stroke-width="1.5"/>
<line x1="766.15" y1="122.02" x2="766.15" y2="143.45" stroke="#80B8DE" stroke-width="1.5" />
<line x1="759.15" y1="122.02" x2="773.15" y2="122.02" stroke="#80B8DE" stroke-width="1.5" />
<line x1="759.15" y1="143.45" x2="773.15" y2="143.45" stroke="#80B8DE" stroke-width="1.5" />
<path d="M767.1,126.4 L772.9,137.2 L761.3,137.2 Z" fill="none" stroke="#80B8DE" stroke-width="1.5"/>
<line x1="765.18" y1="135.28" x2="765.18" y2="154.90" stroke="#F6D890" stroke-width="1.5" />
<line x1="758.18" y1="135.28" x2="772.18" y2="135.28" stroke="#F6D890" stroke-width="1.5" />
<line x1="758.18" y1="154.90" x2="772.18" y2="154.90" stroke="#F6D890" stroke-width="1.5" />
<circle cx="767.1" cy="145.1" r="5.8" fill="none" stroke="#F6D890" stroke-width="1.5"/>
<line x1="765.68" y1="135.53" x2="765.68" y2="158.81" stroke="#F6D890" stroke-width="1.5" />
<line x1="758.68" y1="135.53" x2="772.68" y2="135.53" stroke="#F6D890" stroke-width="1.5" />
<line x1="758.68" y1="158.81" x2="772.68" y2="158.81" stroke="#F6D890" stroke-width="1.5" />
<rect x="761.3" y="141.4" width="11.6" height="11.6" fill="none" stroke="#F6D890" stroke-width="1.5"/>
<line x1="767.20" y1="131.10" x2="767.20" y2="149.37" stroke="#F6D890" stroke-width="1.5" />
<line x1="760.20" y1="131.10" x2="774.20" y2="131.10" stroke="#F6D890" stroke-width="1.5" />
<line x1="760.20" y1="149.37" x2="774.20" y2="149.37" stroke="#F6D890" stroke-width="1.5" />
<path d="M767.1,133.9 L772.9,144.7 L761.3,144.7 Z" fill="none" stroke="#F6D890" stroke-width="1.5"/>
<line x1="767.88" y1="140.32" x2="767.88" y2="166.95" stroke="#BF97C7" stroke-width="1.5" />
<line x1="760.88" y1="140.32" x2="774.88" y2="140.32" stroke="#BF97C7" stroke-width="1.5" />
<line x1="760.88" y1="166.95" x2="774.88" y2="166.95" stroke="#BF97C7" stroke-width="1.5" />
<circle cx="767.1" cy="153.6" r="5.8" fill="none" stroke="#BF97C7" stroke-width="1.5"/>
<line x1="765.76" y1="130.61" x2="765.76" y2="152.27" stroke="#BF97C7" stroke-width="1.5" />
<line x1="758.76" y1="130.61" x2="772.76" y2="130.61" stroke="#BF97C7" stroke-width="1.5" />
<line x1="758.76" y1="152.27" x2="772.76" y2="152.27" stroke="#BF97C7" stroke-width="1.5" />
<rect x="761.3" y="135.6" width="11.6" height="11.6" fill="none" stroke="#BF97C7" stroke-width="1.5"/>
<line x1="768.21" y1="138.46" x2="768.21" y2="161.79" stroke="#BF97C7" stroke-width="1.5" />
<line x1="761.21" y1="138.46" x2="775.21" y2="138.46" stroke="#BF97C7" stroke-width="1.5" />
<line x1="761.21" y1="161.79" x2="775.21" y2="161.79" stroke="#BF97C7" stroke-width="1.5" />
<path d="M767.1,143.7 L772.9,154.6 L761.3,154.6 Z" fill="none" stroke="#BF97C7" stroke-width="1.5"/>
<line x1="780.92" y1="121.73" x2="780.92" y2="147.85" stroke="#80B8DE" stroke-width="1.5" />
<line x1="773.92" y1="121.73" x2="787.92" y2="121.73" stroke="#80B8DE" stroke-width="1.5" />
<line x1="773.92" y1="147.85" x2="787.92" y2="147.85" stroke="#80B8DE" stroke-width="1.5" />
<circle cx="779.0" cy="134.8" r="5.8" fill="none" stroke="#80B8DE" stroke-width="1.5"/>
<line x1="780.26" y1="132.46" x2="780.26" y2="158.53" stroke="#80B8DE" stroke-width="1.5" />
<line x1="773.26" y1="132.46" x2="787.26" y2="132.46" stroke="#80B8DE" stroke-width="1.5" />
<line x1="773.26" y1="158.53" x2="787.26" y2="158.53" stroke="#80B8DE" stroke-width="1.5" />
<rect x="773.2" y="139.7" width="11.6" height="11.6" fill="none" stroke="#80B8DE" stroke-width="1.5"/>
<line x1="779.06" y1="133.44" x2="779.06" y2="153.71" stroke="#80B8DE" stroke-width="1.5" />
<line x1="772.06" y1="133.44" x2="786.06" y2="133.44" stroke="#80B8DE" stroke-width="1.5" />
<line x1="772.06" y1="153.71" x2="786.06" y2="153.71" stroke="#80B8DE" stroke-width="1.5" />
<path d="M779.0,137.2 L784.8,148.0 L773.2,148.0 Z" fill="none" stroke="#80B8DE" stroke-width="1.5"/>
<line x1="777.10" y1="127.90" x2="777.10" y2="146.19" stroke="#F6D890" stroke-width="1.5" />
<line x1="770.10" y1="127.90" x2="784.10" y2="127.90" stroke="#F6D890" stroke-width="1.5" />
<line x1="770.10" y1="146.19" x2="784.10" y2="146.19" stroke="#F6D890" stroke-width="1.5" />
<circle cx="779.0" cy="137.0" r="5.8" fill="none" stroke="#F6D890" stroke-width="1.5"/>
<line x1="779.76" y1="125.45" x2="779.76" y2="146.05" stroke="#F6D890" stroke-width="1.5" />
<line x1="772.76" y1="125.45" x2="786.76" y2="125.45" stroke="#F6D890" stroke-width="1.5" />
<line x1="772.76" y1="146.05" x2="786.76" y2="146.05" stroke="#F6D890" stroke-width="1.5" />
<rect x="773.2" y="130.0" width="11.6" height="11.6" fill="none" stroke="#F6D890" stroke-width="1.5"/>
<line x1="780.73" y1="136.02" x2="780.73" y2="158.50" stroke="#F6D890" stroke-width="1.5" />
<line x1="773.73" y1="136.02" x2="787.73" y2="136.02" stroke="#F6D890" stroke-width="1.5" />
<line x1="773.73" y1="158.50" x2="787.73" y2="158.50" stroke="#F6D890" stroke-width="1.5" />
<path d="M779.0,140.9 L784.8,151.7 L773.2,151.7 Z" fill="none" stroke="#F6D890" stroke-width="1.5"/>
<line x1="778.44" y1="140.02" x2="778.44" y2="167.57" stroke="#BF97C7" stroke-width="1.5" />
<line x1="771.44" y1="140.02" x2="785.44" y2="140.02" stroke="#BF97C7" stroke-width="1.5" />
<line x1="771.44" y1="167.57" x2="785.44" y2="167.57" stroke="#BF97C7" stroke-width="1.5" />
<circle cx="779.0" cy="153.8" r="5.8" fill="none" stroke="#BF97C7" stroke-width="1.5"/>
<line x1="777.77" y1="130.61" x2="777.77" y2="150.88" stroke="#BF97C7" stroke-width="1.5" />
<line x1="770.77" y1="130.61" x2="784.77" y2="130.61" stroke="#BF97C7" stroke-width="1.5" />
<line x1="770.77" y1="150.88" x2="784.77" y2="150.88" stroke="#BF97C7" stroke-width="1.5" />
<rect x="773.2" y="134.9" width="11.6" height="11.6" fill="none" stroke="#BF97C7" stroke-width="1.5"/>
<line x1="780.59" y1="128.35" x2="780.59" y2="152.59" stroke="#BF97C7" stroke-width="1.5" />
<line x1="773.59" y1="128.35" x2="787.59" y2="128.35" stroke="#BF97C7" stroke-width="1.5" />
<line x1="773.59" y1="152.59" x2="787.59" y2="152.59" stroke="#BF97C7" stroke-width="1.5" />
<path d="M779.0,134.1 L784.8,144.9 L773.2,144.9 Z" fill="none" stroke="#BF97C7" stroke-width="1.5"/>
<line x1="791.86" y1="126.89" x2="791.86" y2="151.42" stroke="#80B8DE" stroke-width="1.5" />
<line x1="784.86" y1="126.89" x2="798.86" y2="126.89" stroke="#80B8DE" stroke-width="1.5" />
<line x1="784.86" y1="151.42" x2="798.86" y2="151.42" stroke="#80B8DE" stroke-width="1.5" />
<circle cx="790.7" cy="139.2" r="5.8" fill="none" stroke="#80B8DE" stroke-width="1.5"/>
<line x1="792.30" y1="120.14" x2="792.30" y2="144.74" stroke="#80B8DE" stroke-width="1.5" />
<line x1="785.30" y1="120.14" x2="799.30" y2="120.14" stroke="#80B8DE" stroke-width="1.5" />
<line x1="785.30" y1="144.74" x2="799.30" y2="144.74" stroke="#80B8DE" stroke-width="1.5" />
<rect x="784.9" y="126.6" width="11.6" height="11.6" fill="none" stroke="#80B8DE" stroke-width="1.5"/>
<line x1="790.57" y1="131.55" x2="790.57" y2="157.05" stroke="#80B8DE" stroke-width="1.5" />
<line x1="783.57" y1="131.55" x2="797.57" y2="131.55" stroke="#80B8DE" stroke-width="1.5" />
<line x1="783.57" y1="157.05" x2="797.57" y2="157.05" stroke="#80B8DE" stroke-width="1.5" />
<path d="M790.7,137.9 L796.5,148.8 L784.9,148.8 Z" fill="none" stroke="#80B8DE" stroke-width="1.5"/>
<line x1="789.99" y1="121.09" x2="789.99" y2="146.98" stroke="#F6D890" stroke-width="1.5" />
<line x1="782.99" y1="121.09" x2="796.99" y2="121.09" stroke="#F6D890" stroke-width="1.5" />
<line x1="782.99" y1="146.98" x2="796.99" y2="146.98" stroke="#F6D890" stroke-width="1.5" />
<circle cx="790.7" cy="134.0" r="5.8" fill="none" stroke="#F6D890" stroke-width="1.5"/>
<line x1="790.24" y1="130.76" x2="790.24" y2="158.47" stroke="#F6D890" stroke-width="1.5" />
<line x1="783.24" y1="130.76" x2="797.24" y2="130.76" stroke="#F6D890" stroke-width="1.5" />
<line x1="783.24" y1="158.47" x2="797.24" y2="158.47" stroke="#F6D890" stroke-width="1.5" />
<rect x="784.9" y="138.8" width="11.6" height="11.6" fill="none" stroke="#F6D890" stroke-width="1.5"/>
<line x1="791.56" y1="124.09" x2="791.56" y2="151.56" stroke="#F6D890" stroke-width="1.5" />
<line x1="784.56" y1="124.09" x2="798.56" y2="124.09" stroke="#F6D890" stroke-width="1.5" />
<line x1="784.56" y1="151.56" x2="798.56" y2="151.56" stroke="#F6D890" stroke-width="1.5" />
<path d="M790.7,131.4 L796.5,142.3 L784.9,142.3 Z" fill="none" stroke="#F6D890" stroke-width="1.5"/>
<line x1="789.26" y1="130.25" x2="789.26" y2="149.53" stroke="#BF97C7" stroke-width="1.5" />
<line x1="782.26" y1="130.25" x2="796.26" y2="130.25" stroke="#BF97C7" stroke-width="1.5" />
<line x1="782.26" y1="149.53" x2="796.26" y2="149.53" stroke="#BF97C7" stroke-width="1.5" />
<circle cx="790.7" cy="139.9" r="5.8" fill="none" stroke="#BF97C7" stroke-width="1.5"/>
<line x1="789.24" y1="139.35" x2="789.24" y2="165.41" stroke="#BF97C7" stroke-width="1.5" />
<line x1="782.24" y1="139.35" x2="796.24" y2="139.35" stroke="#BF97C7" stroke-width="1.5" />
<line x1="782.24" y1="165.41" x2="796.24" y2="165.41" stroke="#BF97C7" stroke-width="1.5" />
<rect x="784.9" y="146.6" width="11.6" height="11.6" fill="none" stroke="#BF97C7" stroke-width="1.5"/>
<line x1="791.29" y1="137.15" x2="791.29" y2="164.95" stroke="#BF97C7" stroke-width="1.5" />
<line x1="784.29" y1="137.15" x2="798.29" y2="137.15" stroke="#BF97C7" stroke-width="1.5" />
<line x1="784.29" y1="164.95" x2="798.29" y2="164.95" stroke="#BF97C7" stroke-width="1.5" />
<path d="M790.7,144.7 L796.5,155.5 L784.9,155.5 Z" fill="none" stroke="#BF97C7" stroke-width="1.5"/>
<line x1="796.03" y1="130.67" x2="796.03" y2="149.98" stroke="#80B8DE" stroke-width="1.5" />
<line x1="789.03" y1="130.67" x2="803.03" y2="130.67" stroke="#80B8DE" stroke-width="1.5" />
<line x1="789.03" y1="149.98" x2="803.03" y2="149.98" stroke="#80B8DE" stroke-width="1.5" />
<circle cx="798.0" cy="140.3" r="5.8" fill="none" stroke="#80B8DE" stroke-width="1.5"/>
<line x1="798.08" y1="135.26" x2="798.08" y2="159.75" stroke="#80B8DE" stroke-width="1.5" />
<line x1="791.08" y1="135.26" x2="805.08" y2="135.26" stroke="#80B8DE" stroke-width="1.5" />
<line x1="791.08" y1="159.75" x2="805.08" y2="159.75" stroke="#80B8DE" stroke-width="1.5" />
<rect x="792.2" y="141.7" width="11.6" height="11.6" fill="none" stroke="#80B8DE" stroke-width="1.5"/>
<line x1="799.46" y1="135.70" x2="799.46" y2="158.04" stroke="#80B8DE" stroke-width="1.5" />
<line x1="792.46" y1="135.70" x2="806.46" y2="135.70" stroke="#80B8DE" stroke-width="1.5" />
<line x1="792.46" y1="158.04" x2="806.46" y2="158.04" stroke="#80B8DE" stroke-width="1.5" />
<path d="M798.0,140.5 L803.8,151.3 L792.2,151.3 Z" fill="none" stroke="#80B8DE" stroke-width="1.5"/>
<line x1="796.98" y1="134.99" x2="796.98" y2="155.10" stroke="#F6D890" stroke-width="1.5" />
<line x1="789.98" y1="134.99" x2="803.98" y2="134.99" stroke="#F6D890" stroke-width="1.5" />
<line x1="789.98" y1="155.10" x2="803.98" y2="155.10" stroke="#F6D890" stroke-width="1.5" />
<circle cx="798.0" cy="145.0" r="5.8" fill="none" stroke="#F6D890" stroke-width="1.5"/>
<line x1="798.32" y1="125.78" x2="798.32" y2="146.18" stroke="#F6D890" stroke-width="1.5" />
<line x1="791.32" y1="125.78" x2="805.32" y2="125.78" stroke="#F6D890" stroke-width="1.5" />
<line x1="791.32" y1="146.18" x2="805.32" y2="146.18" stroke="#F6D890" stroke-width="1.5" />
<rect x="792.2" y="130.2" width="11.6" height="11.6" fill="none" stroke="#F6D890" stroke-width="1.5"/>
<line x1="796.50" y1="124.31" x2="796.50" y2="146.50" stroke="#F6D890" stroke-width="1.5" />
<line x1="789.50" y1="124.31" x2="803.50" y2="124.31" stroke="#F6D890" stroke-width="1.5" />
<line x1="789.50" y1="146.50" x2="803.50" y2="146.50" stroke="#F6D890" stroke-width="1.5" />
<path d="M798.0,129.0 L803.8,139.9 L792.2,139.9 Z" fill="none" stroke="#F6D890" stroke-width="1.5"/>
<line x1="797.81" y1="141.70" x2="797.81" y2="163.24" stroke="#BF97C7" stroke-width="1.5" />
<line x1="790.81" y1="141.70" x2="804.81" y2="141.70" stroke="#BF97C7" stroke-width="1.5" />
<line x1="790.81" y1="163.24" x2="804.81" y2="163.24" stroke="#BF97C7" stroke-width="1.5" />
<circle cx="798.0" cy="152.5" r="5.8" fill="none" stroke="#BF97C7" stroke-width="1.5"/>
<line x1="797.66" y1="133.40" x2="797.66" y2="160.44" stroke="#BF97C7" stroke-width="1.5" />
<line x1="790.66" y1="133.40" x2="804.66" y2="133.40" stroke="#BF97C7" stroke-width="1.5" />
<line x1="790.66" y1="160.44" x2="804.66" y2="160.44" stroke="#BF97C7" stroke-width="1.5" />
<rect x="792.2" y="141.1" width="11.6" height="11.6" fill="none" stroke="#BF97C7" stroke-width="1.5"/>
<line x1="798.10" y1="141.09" x2="798.10" y2="164.11" stroke="#BF97C7" stroke-width="1.5" />
<line x1="791.10" y1="141.09" x2="805.10" y2="141.09" stroke="#BF97C7" stroke-width="1.5" />
<line x1="791.10" y1="164.11" x2="805.10" y2="164.11" stroke="#BF97C7" stroke-width="1.5" />
<path d="M798.0,146.2 L803.8,157.1 L792.2,157.1 Z" fill="none" stroke="#BF97C7" stroke-width="1.5"/>
<line x1="804.98" y1="120.12" x2="804.98" y2="142.52" stroke="#80B8DE" stroke-width="1.5" />
<line x1="797.98" y1="120.12" x2="811.98" y2="120.12" stroke="#80B8DE" stroke-width="1.5" />
<line x1="797.98" y1="142.52" x2="811.98" y2="142.52" stroke="#80B8DE" stroke-width="1.5" />
<circle cx="806.2" cy="131.3" r="5.8" fill="none" stroke="#80B8DE" stroke-width="1.5"/>
<line x1="804.93" y1="118.07" x2="804.93" y2="144.06" stroke="#80B8DE" stroke-width="1.5" />
<line x1="797.93" y1="118.07" x2="811.93" y2="118.07" stroke="#80B8DE" stroke-width="1.5" />
<line x1="797.93" y1="144.06" x2="811.93" y2="144.06" stroke="#80B8DE" stroke-width="1.5" />
<rect x="800.4" y="125.3" width="11.6" height="11.6" fill="none" stroke="#80B8DE" stroke-width="1.5"/>
<line x1="806.47" y1="126.42" x2="806.47" y2="151.68" stroke="#80B8DE" stroke-width="1.5" />
<line x1="799.47" y1="126.42" x2="813.47" y2="126.42" stroke="#80B8DE" stroke-width="1.5" />
<line x1="799.47" y1="151.68" x2="813.47" y2="151.68" stroke="#80B8DE" stroke-width="1.5" />
<path d="M806.2,132.7 L812.0,143.5 L800.4,143.5 Z" fill="none" stroke="#80B8DE" stroke-width="1.5"/>
<line x1="806.47" y1="124.95" x2="806.47" y2="148.13" stroke="#F6D890" stroke-width="1.5" />
<line x1="799.47" y1="124.95" x2="813.47" y2="124.95" stroke="#F6D890" stroke-width="1.5" />
<line x1="799.47" y1="148.13" x2="813.47" y2="148.13" stroke="#F6D890" stroke-width="1.5" />
<circle cx="806.2" cy="136.5" r="5.8" fill="none" stroke="#F6D890" stroke-width="1.5"/>
<line x1="806.49" y1="134.80" x2="806.49" y2="153.86" stroke="#F6D890" stroke-width="1.5" />
<line x1="799.49" y1="134.80" x2="813.49" y2="134.80" stroke="#F6D890" stroke-width="1.5" />
<line x1="799.49" y1="153.86" x2="813.49" y2="153.86" stroke="#F6D890" stroke-width="1.5" />
<rect x="800.4" y="138.5" width="11.6" height="11.6" fill="none" stroke="#F6D890" stroke-width="1.5"/>
<line x1="807.33" y1="124.84" x2="807.33" y2="145.61" stroke="#F6D890" stroke-width="1.5" />
<line x1="800.33" y1="124.84" x2="814.33" y2="124.84" stroke="#F6D890" stroke-width="1.5" />
<line x1="800.33" y1="145.61" x2="814.33" y2="145.61" stroke="#F6D890" stroke-width="1.5" />
<path d="M806.2,128.8 L812.0,139.7 L800.4,139.7 Z" fill="none" stroke="#F6D890" stroke-width="1.5"/>
<line x1="807.28" y1="133.82" x2="807.28" y2="157.44" stroke="#BF97C7" stroke-width="1.5" />
<line x1="800.28" y1="133.82" x2="814.28" y2="133.82" stroke="#BF97C7" stroke-width="1.5" />
<line x1="800.28" y1="157.44" x2="814.28" y2="157.44" stroke="#BF97C7" stroke-width="1.5" />
<circle cx="806.2" cy="145.6" r="5.8" fill="none" stroke="#BF97C7" stroke-width="1.5"/>
<line x1="806.69" y1="141.30" x2="806.69" y2="163.73" stroke="#BF97C7" stroke-width="1.5" />
<line x1="799.69" y1="141.30" x2="813.69" y2="141.30" stroke="#BF97C7" stroke-width="1.5" />
<line x1="799.69" y1="163.73" x2="813.69" y2="163.73" stroke="#BF97C7" stroke-width="1.5" />
<rect x="800.4" y="146.7" width="11.6" height="11.6" fill="none" stroke="#BF97C7" stroke-width="1.5"/>
<line x1="807.02" y1="134.03" x2="807.02" y2="157.16" stroke="#BF97C7" stroke-width="1.5" />
<line x1="800.02" y1="134.03" x2="814.02" y2="134.03" stroke="#BF97C7" stroke-width="1.5" />
<line x1="800.02" y1="157.16" x2="814.02" y2="157.16" stroke="#BF97C7" stroke-width="1.5" />
<path d="M806.2,139.2 L812.0,150.1 L800.4,150.1 Z" fill="none" stroke="#BF97C7" stroke-width="1.5"/>
<line x1="814.73" y1="128.68" x2="814.73" y2="151.46" stroke="#80B8DE" stroke-width="1.5" />
<line x1="807.73" y1="128.68" x2="821.73" y2="128.68" stroke="#80B8DE" stroke-width="1.5" />
<line x1="807.73" y1="151.46" x2="821.73" y2="151.46" stroke="#80B8DE" stroke-width="1.5" />
<circle cx="813.0" cy="140.1" r="5.8" fill="none" stroke="#80B8DE" stroke-width="1.5"/>
<line x1="814.73" y1="129.50" x2="814.73" y2="156.27" stroke="#80B8DE" stroke-width="1.5" />
<line x1="807.73" y1="129.50" x2="821.73" y2="129.50" stroke="#80B8DE" stroke-width="1.5" />
<line x1="807.73" y1="156.27" x2="821.73" y2="156.27" stroke="#80B8DE" stroke-width="1.5" />
<rect x="807.2" y="137.1" width="11.6" height="11.6" fill="none" stroke="#80B8DE" stroke-width="1.5"/>
<line x1="814.74" y1="123.62" x2="814.74" y2="147.21" stroke="#80B8DE" stroke-width="1.5" />
<line x1="807.74" y1="123.62" x2="821.74" y2="123.62" stroke="#80B8DE" stroke-width="1.5" />
<line x1="807.74" y1="147.21" x2="821.74" y2="147.21" stroke="#80B8DE" stroke-width="1.5" />
<path d="M813.0,129.0 L818.8,139.9 L807.2,139.9 Z" fill="none" stroke="#80B8DE" stroke-width="1.5"/>
<line x1="811.45" y1="135.59" x2="811.45" y2="154.97" stroke="#F6D890" stroke-width="1.5" />
<line x1="804.45" y1="135.59" x2="818.45" y2="135.59" stroke="#F6D890" stroke-width="1.5" />
<line x1="804.45" y1="154.97" x2="818.45" y2="154.97" stroke="#F6D890" stroke-width="1.5" />
<circle cx="813.0" cy="145.3" r="5.8" fill="none" stroke="#F6D890" stroke-width="1.5"/>
<line x1="811.93" y1="129.15" x2="811.93" y2="147.88" stroke="#F6D890" stroke-width="1.5" />
<line x1="804.93" y1="129.15" x2="818.93" y2="129.15" stroke="#F6D890" stroke-width="1.5" />
<line x1="804.93" y1="147.88" x2="818.93" y2="147.88" stroke="#F6D890" stroke-width="1.5" />
<rect x="807.2" y="132.7" width="11.6" height="11.6" fill="none" stroke="#F6D890" stroke-width="1.5"/>
<line x1="814.10" y1="119.90" x2="814.10" y2="144.59" stroke="#F6D890" stroke-width="1.5" />
<line x1="807.10" y1="119.90" x2="821.10" y2="119.90" stroke="#F6D890" stroke-width="1.5" />
<line x1="807.10" y1="144.59" x2="821.10" y2="144.59" stroke="#F6D890" stroke-width="1.5" />
<path d="M813.0,125.9 L818.8,136.7 L807.2,136.7 Z" fill="none" stroke="#F6D890" stroke-width="1.5"/>
<line x1="813.83" y1="142.48" x2="813.83" y2="162.02" stroke="#BF97C7" stroke-width="1.5" />
<line x1="806.83" y1="142.48" x2="820.83" y2="142.48" stroke="#BF97C7" stroke-width="1.5" />
<line x1="806.83" y1="162.02" x2="820.83" y2="162.02" stroke="#BF97C7" stroke-width="1.5" />
<circle cx="813.0" cy="152.2" r="5.8" fill="none" stroke="#BF97C7" stroke-width="1.5"/>
<line x1="814.49" y1="138.51" x2="814.49" y2="157.94" stroke="#BF97C7" stroke-width="1.5" />
<line x1="807.49" y1="138.51" x2="821.49" y2="138.51" stroke="#BF97C7" stroke-width="1.5" />
<line x1="807.49" y1="157.94" x2="821.49" y2="157.94" stroke="#BF97C7" stroke-width="1.5" />
<rect x="807.2" y="142.4" width="11.6" height="11.6" fill="none" stroke="#BF97C7" stroke-width="1.5"/>
<line x1="814.77" y1="143.35" x2="814.77" y2="163.55" stroke="#BF97C7" stroke-width="1.5" />
<line x1="807.77" y1="143.35" x2="821.77" y2="143.35" stroke="#BF97C7" stroke-width="1.5" />
<line x1="807.77" y1="163.55" x2="821.77" y2="163.55" stroke="#BF97C7" stroke-width="1.5" />
<path d="M813.0,147.1 L818.8,157.9 L807.2,157.9 Z" fill="none" stroke="#BF97C7" stroke-width="1.5"/>
<line x1="820.40" y1="125.33" x2="820.40" y2="153.23" stroke="#80B8DE" stroke-width="1.5" />
<line x1="813.40" y1="125.33" x2="827.40" y2="125.33" stroke="#80B8DE" stroke-width="1.5" />
<line x1="813.40" y1="153.23" x2="827.40" y2="153.23" stroke="#80B8DE" stroke-width="1.5" />
<circle cx="819.1" cy="139.3" r="5.8" fill="none" stroke="#80B8DE" stroke-width="1.5"/>
<line x1="819.13" y1="122.59" x2="819.13" y2="144.90" stroke="#80B8DE" stroke-width="1.5" />
<line x1="812.13" y1="122.59" x2="826.13" y2="122.59" stroke="#80B8DE" stroke-width="1.5" />
<line x1="812.13" y1="144.90" x2="826.13" y2="144.90" stroke="#80B8DE" stroke-width="1.5" />
<rect x="813.3" y="127.9" width="11.6" height="11.6" fill="none" stroke="#80B8DE" stroke-width="1.5"/>
<line x1="818.35" y1="126.79" x2="818.35" y2="146.74" stroke="#80B8DE" stroke-width="1.5" />
<line x1="811.35" y1="126.79" x2="825.35" y2="126.79" stroke="#80B8DE" stroke-width="1.5" />
<line x1="811.35" y1="146.74" x2="825.35" y2="146.74" stroke="#80B8DE" stroke-width="1.5" />
<path d="M819.1,130.4 L824.9,141.2 L813.3,141.2 Z" fill="none" stroke="#80B8DE" stroke-width="1.5"/>
<line x1="819.29" y1="134.18" x2="819.29" y2="152.37" stroke="#F6D890" stroke-width="1.5" />
<line x1="812.29" y1="134.18" x2="826.29" y2="134.18" stroke="#F6D890" stroke-width="1.5" />
<line x1="812.29" y1="152.37" x2="826.29" y2="152.37" stroke="#F6D890" stroke-width="1.5" />
<circle cx="819.1" cy="143.3" r="5.8" fill="none" stroke="#F6D890" stroke-width="1.5"/>
<line x1="818.40" y1="129.40" x2="818.40" y2="147.58" stroke="#F6D890" stroke-width="1.5" />
<line x1="811.40" y1="129.40" x2="825.40" y2="129.40" stroke="#F6D890" stroke-width="1.5" />
<line x1="811.40" y1="147.58" x2="825.40" y2="147.58" stroke="#F6D890" stroke-width="1.5" />
<rect x="813.3" y="132.7" width="11.6" height="11.6" fill="none" stroke="#F6D890" stroke-width="1.5"/>
<line x1="817.33" y1="130.05" x2="817.33" y2="153.17" stroke="#F6D890" stroke-width="1.5" />
<line x1="810.33" y1="130.05" x2="824.33" y2="130.05" stroke="#F6D890" stroke-width="1.5" />
<line x1="810.33" y1="153.17" x2="824.33" y2="153.17" stroke="#F6D890" stroke-width="1.5" />
<path d="M819.1,135.2 L824.9,146.1 L813.3,146.1 Z" fill="none" stroke="#F6D890" stroke-width="1.5"/>
<line x1="820.96" y1="140.80" x2="820.96" y2="166.69" stroke="#BF97C7" stroke-width="1.5" />
<line x1="813.96" y1="140.80" x2="827.96" y2="140.80" stroke="#BF97C7" stroke-width="1.5" />
<line x1="813.96" y1="166.69" x2="827.96" y2="166.69" stroke="#BF97C7" stroke-width="1.5" />
<circle cx="819.1" cy="153.7" r="5.8" fill="none" stroke="#BF97C7" stroke-width="1.5"/>
<line x1="817.23" y1="128.45" x2="817.23" y2="149.11" stroke="#BF97C7" stroke-width="1.5" />
<line x1="810.23" y1="128.45" x2="824.23" y2="128.45" stroke="#BF97C7" stroke-width="1.5" />
<line x1="810.23" y1="149.11" x2="824.23" y2="149.11" stroke="#BF97C7" stroke-width="1.5" />
<rect x="813.3" y="133.0" width="11.6" height="11.6" fill="none" stroke="#BF97C7" stroke-width="1.5"/>
<line x1="817.59" y1="139.89" x2="817.59" y2="160.60" stroke="#BF97C7" stroke-width="1.5" />
<line x1="810.59" y1="139.89" x2="824.59" y2="139.89" stroke="#BF97C7" stroke-width="1.5" />
<line x1="810.59" y1="160.60" x2="824.59" y2="160.60" stroke="#BF97C7" stroke-width="1.5" />
<path d="M819.1,143.9 L824.9,154.7 L813.3,154.7 Z" fill="none" stroke="#BF97C7" stroke-width="1.5"/>
<line x1="826.59" y1="133.40" x2="826.59" y2="159.59" stroke="#80B8DE" stroke-width="1.5" />
<line x1="819.59" y1="133.40" x2="833.59" y2="133.40" stroke="#80B8DE" stroke-width="1.5" />
<line x1="819.59" y1="159.59" x2="833.59" y2="159.59" stroke="#80B8DE" stroke-width="1.5" />
<circle cx="827.6" cy="146.5" r="5.8" fill="none" stroke="#80B8DE" stroke-width="1.5"/>
<line x1="827.84" y1="119.94" x2="827.84" y2="147.14" stroke="#80B8DE" stroke-width="1.5" />
<line x1="820.84" y1="119.94" x2="834.84" y2="119.94" stroke="#80B8DE" stroke-width="1.5" />
<line x1="820.84" y1="147.14" x2="834.84" y2="147.14" stroke="#80B8DE" stroke-width="1.5" />
<rect x="821.8" y="127.7" width="11.6" height="11.6" fill="none" stroke="#80B8DE" stroke-width="1.5"/>
<line x1="825.78" y1="133.46" x2="825.78" y2="152.35" stroke="#80B8DE" stroke-width="1.5" />
<line x1="818.78" y1="133.46" x2="832.78" y2="133.46" stroke="#80B8DE" stroke-width="1.5" />
<line x1="818.78" y1="152.35" x2="832.78" y2="152.35" stroke="#80B8DE" stroke-width="1.5" />
<path d="M827.6,136.5 L833.4,147.4 L821.8,147.4 Z" fill="none" stroke="#80B8DE" stroke-width="1.5"/>
<line x1="825.84" y1="131.57" x2="825.84" y2="153.83" stroke="#F6D890" stroke-width="1.5" />
<line x1="818.84" y1="131.57" x2="832.84" y2="131.57" stroke="#F6D890" stroke-width="1.5" />
<line x1="818.84" y1="153.83" x2="832.84" y2="153.83" stroke="#F6D890" stroke-width="1.5" />
<circle cx="827.6" cy="142.7" r="5.8" fill="none" stroke="#F6D890" stroke-width="1.5"/>
<line x1="828.76" y1="134.78" x2="828.76" y2="159.12" stroke="#F6D890" stroke-width="1.5" />
<line x1="821.76" y1="134.78" x2="835.76" y2="134.78" stroke="#F6D890" stroke-width="1.5" />
<line x1="821.76" y1="159.12" x2="835.76" y2="159.12" stroke="#F6D890" stroke-width="1.5" />
<rect x="821.8" y="141.2" width="11.6" height="11.6" fill="none" stroke="#F6D890" stroke-width="1.5"/>
<line x1="825.82" y1="119.14" x2="825.82" y2="145.70" stroke="#F6D890" stroke-width="1.5" />
<line x1="818.82" y1="119.14" x2="832.82" y2="119.14" stroke="#F6D890" stroke-width="1.5" />
<line x1="818.82" y1="145.70" x2="832.82" y2="145.70" stroke="#F6D890" stroke-width="1.5" />
<path d="M827.6,126.0 L833.4,136.9 L821.8,136.9 Z" fill="none" stroke="#F6D890" stroke-width="1.5"/>
<line x1="826.91" y1="140.40" x2="826.91" y2="162.94" stroke="#BF97C7" stroke-width="1.5" />
<line x1="819.91" y1="140.40" x2="833.91" y2="140.40" stroke="#BF97C7" stroke-width="1.5" />
<line x1="819.91" y1="162.94" x2="833.91" y2="162.94" stroke="#BF97C7" stroke-width="1.5" />
<circle cx="827.6" cy="151.7" r="5.8" fill="none" stroke="#BF97C7" stroke-width="1.5"/>
<line x1="826.63" y1="132.77" x2="826.63" y2="160.04" stroke="#BF97C7" stroke-width="1.5" />
<line x1="819.63" y1="132.77" x2="833.63" y2="132.77" stroke="#BF97C7" stroke-width="1.5" />
<line x1="819.63" y1="160.04" x2="833.63" y2="160.04" stroke="#BF97C7" stroke-width="1.5" />
<rect x="821.8" y="140.6" width="11.6" height="11.6" fill="none" stroke="#BF97C7" stroke-width="1.5"/>
<line x1="826.51" y1="127.56" x2="826.51" y2="150.83" stroke="#BF97C7" stroke-width="1.5" />
<line x1="819.51" y1="127.56" x2="833.51" y2="127.56" stroke="#BF97C7" stroke-width="1.5" />
<line x1="819.51" y1="150.83" x2="833.51" y2="150.83" stroke="#BF97C7" stroke-width="1.5" />
<path d="M827.6,132.8 L833.4,143.7 L821.8,143.7 Z" fill="none" stroke="#BF97C7" stroke-width="1.5"/>
<line x1="832.88" y1="124.49" x2="832.88" y2="143.00" stroke="#80B8DE" stroke-width="1.5" />
<line x1="825.88" y1="124.49" x2="839.88" y2="124.49" stroke="#80B8DE" stroke-width="1.5" />
<line x1="825.88" y1="143.00" x2="839.88" y2="143.00" stroke="#80B8DE" stroke-width="1.5" />
<circle cx="834.1" cy="133.7" r="5.8" fill="none" stroke="#80B8DE" stroke-width="1.5"/>
<line x1="835.11" y1="125.78" x2="835.11" y2="146.83" stroke="#80B8DE" stroke-width="1.5" />
<line x1="828.11" y1="125.78" x2="842.11" y2="125.78" stroke="#80B8DE" stroke-width="1.5" />
<line x1="828.11" y1="146.83" x2="842.11" y2="146.83" stroke="#80B8DE" stroke-width="1.5" />
<rect x="828.3" y="130.5" width="11.6" height="11.6" fill="none" stroke="#80B8DE" stroke-width="1.5"/>
<line x1="832.78" y1="124.43" x2="832.78" y2="147.43" stroke="#80B8DE" stroke-width="1.5" />
<line x1="825.78" y1="124.43" x2="839.78" y2="124.43" stroke="#80B8DE" stroke-width="1.5" />
<line x1="825.78" y1="147.43" x2="839.78" y2="147.43" stroke="#80B8DE" stroke-width="1.5" />
<path d="M834.1,129.5 L839.9,140.4 L828.3,140.4 Z" fill="none" stroke="#80B8DE" stroke-width="1.5"/>
<line x1="833.07" y1="127.81" x2="833.07" y2="145.99" stroke="#F6D890" stroke-width="1.5" />
<line x1="826.07" y1="127.81" x2="840.07" y2="127.81" stroke="#F6D890" stroke-width="1.5" />
<line x1="826.07" y1="145.99" x2="840.07" y2="145.99" stroke="#F6D890" stroke-width="1.5" />
<circle cx="834.1" cy="136.9" r="5.8" fill="none" stroke="#F6D890" stroke-width="1.5"/>
<line x1="834.28" y1="118.60" x2="834.28" y2="143.93" stroke="#F6D890" stroke-width="1.5" />
<line x1="827.28" y1="118.60" x2="841.28" y2="118.60" stroke="#F6D890" stroke-width="1.5" />
<line x1="827.28" y1="143.93" x2="841.28" y2="143.93" stroke="#F6D890" stroke-width="1.5" />
<rect x="828.3" y="125.5" width="11.6" height="11.6" fill="none" stroke="#F6D890" stroke-width="1.5"/>
<line x1="835.81" y1="122.85" x2="835.81" y2="145.59" stroke="#F6D890" stroke-width="1.5" />
<line x1="828.81" y1="122.85" x2="842.81" y2="122.85" stroke="#F6D890" stroke-width="1.5" />
<line x1="828.81" y1="145.59" x2="842.81" y2="145.59" stroke="#F6D890" stroke-width="1.5" />
<path d="M834.1,127.8 L839.9,138.7 L828.3,138.7 Z" fill="none" stroke="#F6D890" stroke-width="1.5"/>
<line x1="833.80" y1="125.71" x2="833.80" y2="151.90" stroke="#BF97C7" stroke-width="1.5" />
<line x1="826.80" y1="125.71" x2="840.80" y2="125.71" stroke="#BF97C7" stroke-width="1.5" />
<line x1="826.80" y1="151.90" x2="840.80" y2="151.90" stroke="#BF97C7" stroke-width="1.5" />
<circle cx="834.1" cy="138.8" r="5.8" fill="none" stroke="#BF97C7" stroke-width="1.5"/>
<line x1="833.65" y1="132.24" x2="833.65" y2="158.59" stroke="#BF97C7" stroke-width="1.5" />
<line x1="826.65" y1="132.24" x2="840.65" y2="132.24" stroke="#BF97C7" stroke-width="1.5" />
<line x1="826.65" y1="158.59" x2="840.65" y2="158.59" stroke="#BF97C7" stroke-width="1.5" />
<rect x="828.3" y="139.6" width="11.6" height="11.6" fill="none" stroke="#BF97C7" stroke-width="1.5"/>
<line x1="836.00" y1="133.17" x2="836.00" y2="158.05" stroke="#BF97C7" stroke-width="1.5" />
<line x1="829.00" y1="133.17" x2="843.00" y2="133.17" stroke="#BF97C7" stroke-width="1.5" />
<line x1="829.00" y1="158.05" x2="843.00" y2="158.05" stroke="#BF97C7" stroke-width="1.5" />
<path d="M834.1,139.2 L839.9,150.1 L828.3,150.1 Z" fill="none" stroke="#BF97C7" stroke-width="1.5"/>
<line x1="844.10" y1="132.62" x2="844.10" y2="157.68" stroke="#80B8DE" stroke-width="1.5" />
<line x1="837.10" y1="132.62" x2="851.10" y2="132.62" stroke="#80B8DE" stroke-width="1.5" />
<line x1="837.10" y1="157.68" x2="851.10" y2="157.68" stroke="#80B8DE" stroke-width="1.5" />
<circle cx="843.6" cy="145.1" r="5.8" fill="none" stroke="#80B8DE" stroke-width="1.5"/>
<line x1="841.78" y1="127.14" x2="841.78" y2="148.62" stroke="#80B8DE" stroke-width="1.5" />
<line x1="834.78" y1="127.14" x2="848.78" y2="127.14" stroke="#80B8DE" stroke-width="1.5" />
<line x1="834.78" y1="148.62" x2="848.78" y2="148.62" stroke="#80B8DE" stroke-width="1.5" />
<rect x="837.8" y="132.1" width="11.6" height="11.6" fill="none" stroke="#80B8DE" stroke-width="1.5"/>
<line x1="844.52" y1="123.85" x2="844.52" y2="142.56" stroke="#80B8DE" stroke-width="1.5" />
<line x1="837.52" y1="123.85" x2="851.52" y2="123.85" stroke="#80B8DE" stroke-width="1.5" />
<line x1="837.52" y1="142.56" x2="851.52" y2="142.56" stroke="#80B8DE" stroke-width="1.5" />
<path d="M843.6,126.8 L849.4,137.7 L837.8,137.7 Z" fill="none" stroke="#80B8DE" stroke-width="1.5"/>
<line x1="841.90" y1="125.53" x2="841.90" y2="145.16" stroke="#F6D890" stroke-width="1.5" />
<line x1="834.90" y1="125.53" x2="848.90" y2="125.53" stroke="#F6D890" stroke-width="1.5" />
<line x1="834.90" y1="145.16" x2="848.90" y2="145.16" stroke="#F6D890" stroke-width="1.5" />
<circle cx="843.6" cy="135.3" r="5.8" fill="none" stroke="#F6D890" stroke-width="1.5"/>
<line x1="844.24" y1="131.95" x2="844.24" y2="158.65" stroke="#F6D890" stroke-width="1.5" />
<line x1="837.24" y1="131.95" x2="851.24" y2="131.95" stroke="#F6D890" stroke-width="1.5" />
<line x1="837.24" y1="158.65" x2="851.24" y2="158.65" stroke="#F6D890" stroke-width="1.5" />
<rect x="837.8" y="139.5" width="11.6" height="11.6" fill="none" stroke="#F6D890" stroke-width="1.5"/>
<line x1="842.73" y1="125.58" x2="842.73" y2="146.00" stroke="#F6D890" stroke-width="1.5" />
<line x1="835.73" y1="125.58" x2="849.73" y2="125.58" stroke="#F6D890" stroke-width="1.5" />
<line x1="835.73" y1="146.00" x2="849.73" y2="146.00" stroke="#F6D890" stroke-width="1.5" />
<path d="M843.6,129.4 L849.4,140.3 L837.8,140.3 Z" fill="none" stroke="#F6D890" stroke-width="1.5"/>
<line x1="843.34" y1="135.02" x2="843.34" y2="154.60" stroke="#BF97C7" stroke-width="1.5" />
<line x1="836.34" y1="135.02" x2="850.34" y2="135.02" stroke="#BF97C7" stroke-width="1.5" />
<line x1="836.34" y1="154.60" x2="850.34" y2="154.60" stroke="#BF97C7" stroke-width="1.5" />
<circle cx="843.6" cy="144.8" r="5.8" fill="none" stroke="#BF97C7" stroke-width="1.5"/>
<line x1="845.45" y1="127.67" x2="845.45" y2="155.28" stroke="#BF97C7" stroke-width="1.5" />
<line x1="838.45" y1="127.67" x2="852.45" y2="127.67" stroke="#BF97C7" stroke-width="1.5" />
<line x1="838.45" y1="155.28" x2="852.45" y2="155.28" stroke="#BF97C7" stroke-width="1.5" />
<rect x="837.8" y="135.7" width="11.6" height="11.6" fill="none" stroke="#BF97C7" stroke-width="1.5"/>
<line x1="845.42" y1="136.08" x2="845.42" y2="156.52" stroke="#BF97C7" stroke-width="1.5" />
<line x1="838.42" y1="136.08" x2="852.42" y2="136.08" stroke="#BF97C7" stroke-width="1.5" />
<line x1="838.42" y1="156.52" x2="852.42" y2="156.52" stroke="#BF97C7" stroke-width="1.5" />
<path d="M843.6,139.9 L849.4,150.8 L837.8,150.8 Z" fill="none" stroke="#BF97C7" stroke-width="1.5"/>
<line x1="850.73" y1="128.06" x2="850.73" y2="146.07" stroke="#80B8DE" stroke-width="1.5" />
<line x1="843.73" y1="128.06" x2="857.73" y2="128.06" stroke="#80B8DE" stroke-width="1.5" />
<line x1="843.73" y1="146.07" x2="857.73" y2="146.07" stroke="#80B8DE" stroke-width="1.5" />
<circle cx="851.2" cy="137.1" r="5.8" fill="none" stroke="#80B8DE" stroke-width="1.5"/>
<line x1="850.01" y1="127.56" x2="850.01" y2="150.58" stroke="#80B8DE" stroke-width="1.5" />
<line x1="843.01" y1="127.56" x2="857.01" y2="127.56" stroke="#80B8DE" stroke-width="1.5" />
<line x1="843.01" y1="150.58" x2="857.01" y2="150.58" stroke="#80B8DE" stroke-width="1.5" />
<rect x="845.4" y="133.3" width="11.6" height="11.6" fill="none" stroke="#80B8DE" stroke-width="1.5"/>
<line x1="850.27" y1="130.56" x2="850.27" y2="148.61" stroke="#80B8DE" stroke-width="1.5" />
<line x1="843.27" y1="130.56" x2="857.27" y2="130.56" stroke="#80B8DE" stroke-width="1.5" />
<line x1="843.27" y1="148.61" x2="857.27" y2="148.61" stroke="#80B8DE" stroke-width="1.5" />
<path d="M851.2,133.2 L857.0,144.0 L845.4,144.0 Z" fill="none" stroke="#80B8DE" stroke-width="1.5"/>
<line x1="849.38" y1="121.53" x2="849.38" y2="143.52" stroke="#F6D890" stroke-width="1.5" />
<line x1="842.38" y1="121.53" x2="856.38" y2="121.53" stroke="#F6D890" stroke-width="1.5" />
<line x1="842.38" y1="143.52" x2="856.38" y2="143.52" stroke="#F6D890" stroke-width="1.5" />
<circle cx="851.2" cy="132.5" r="5.8" fill="none" stroke="#F6D890" stroke-width="1.5"/>
<line x1="850.14" y1="120.86" x2="850.14" y2="141.90" stroke="#F6D890" stroke-width="1.5" />
<line x1="843.14" y1="120.86" x2="857.14" y2="120.86" stroke="#F6D890" stroke-width="1.5" />
<line x1="843.14" y1="141.90" x2="857.14" y2="141.90" stroke="#F6D890" stroke-width="1.5" />
<rect x="845.4" y="125.6" width="11.6" height="11.6" fill="none" stroke="#F6D890" stroke-width="1.5"/>
<line x1="852.21" y1="129.31" x2="852.21" y2="152.60" stroke="#F6D890" stroke-width="1.5" />
<line x1="845.21" y1="129.31" x2="859.21" y2="129.31" stroke="#F6D890" stroke-width="1.5" />
<line x1="845.21" y1="152.60" x2="859.21" y2="152.60" stroke="#F6D890" stroke-width="1.5" />
<path d="M851.2,134.6 L857.0,145.4 L845.4,145.4 Z" fill="none" stroke="#F6D890" stroke-width="1.5"/>
<line x1="852.72" y1="135.60" x2="852.72" y2="160.76" stroke="#BF97C7" stroke-width="1.5" />
<line x1="845.72" y1="135.60" x2="859.72" y2="135.60" stroke="#BF97C7" stroke-width="1.5" />
<line x1="845.72" y1="160.76" x2="859.72" y2="160.76" stroke="#BF97C7" stroke-width="1.5" />
<circle cx="851.2" cy="148.2" r="5.8" fill="none" stroke="#BF97C7" stroke-width="1.5"/>
<line x1="853.15" y1="132.99" x2="853.15" y2="154.25" stroke="#BF97C7" stroke-width="1.5" />
<line x1="846.15" y1="132.99" x2="860.15" y2="132.99" stroke="#BF97C7" stroke-width="1.5" />
<line x1="846.15" y1="154.25" x2="860.15" y2="154.25" stroke="#BF97C7" stroke-width="1.5" />
<rect x="845.4" y="137.8" width="11.6" height="11.6" fill="none" stroke="#BF97C7" stroke-width="1.5"/>
<line x1="851.78" y1="126.92" x2="851.78" y2="152.16" stroke="#BF97C7" stroke-width="1.5" />
<line x1="844.78" y1="126.92" x2="858.78" y2="126.92" stroke="#BF97C7" stroke-width="1.5" />
<line x1="844.78" y1="152.16" x2="858.78" y2="152.16" stroke="#BF97C7" stroke-width="1.5" />
<path d="M851.2,133.2 L857.0,144.0 L845.4,144.0 Z" fill="none" stroke="#BF97C7" stroke-width="1.5"/>
<line x1="857.85" y1="131.74" x2="857.85" y2="158.66" stroke="#80B8DE" stroke-width="1.5" />
<line x1="850.85" y1="131.74" x2="864.85" y2="131.74" stroke="#80B8DE" stroke-width="1.5" />
<line x1="850.85" y1="158.66" x2="864.85" y2="158.66" stroke="#80B8DE" stroke-width="1.5" />
<circle cx="857.3" cy="145.2" r="5.8" fill="none" stroke="#80B8DE" stroke-width="1.5"/>
<line x1="855.90" y1="130.41" x2="855.90" y2="156.54" stroke="#80B8DE" stroke-width="1.5" />
<line x1="848.90" y1="130.41" x2="862.90" y2="130.41" stroke="#80B8DE" stroke-width="1.5" />
<line x1="848.90" y1="156.54" x2="862.90" y2="156.54" stroke="#80B8DE" stroke-width="1.5" />
<rect x="851.5" y="137.7" width="11.6" height="11.6" fill="none" stroke="#80B8DE" stroke-width="1.5"/>
<line x1="858.68" y1="128.38" x2="858.68" y2="151.43" stroke="#80B8DE" stroke-width="1.5" />
<line x1="851.68" y1="128.38" x2="865.68" y2="128.38" stroke="#80B8DE" stroke-width="1.5" />
<line x1="851.68" y1="151.43" x2="865.68" y2="151.43" stroke="#80B8DE" stroke-width="1.5" />
<path d="M857.3,133.5 L863.1,144.4 L851.5,144.4 Z" fill="none" stroke="#80B8DE" stroke-width="1.5"/>
<line x1="857.68" y1="131.55" x2="857.68" y2="157.81" stroke="#F6D890" stroke-width="1.5" />
<line x1="850.68" y1="131.55" x2="864.68" y2="131.55" stroke="#F6D890" stroke-width="1.5" />
<line x1="850.68" y1="157.81" x2="864.68" y2="157.81" stroke="#F6D890" stroke-width="1.5" />
<circle cx="857.3" cy="144.7" r="5.8" fill="none" stroke="#F6D890" stroke-width="1.5"/>
<line x1="858.12" y1="133.76" x2="858.12" y2="158.59" stroke="#F6D890" stroke-width="1.5" />
<line x1="851.12" y1="133.76" x2="865.12" y2="133.76" stroke="#F6D890" stroke-width="1.5" />
<line x1="851.12" y1="158.59" x2="865.12" y2="158.59" stroke="#F6D890" stroke-width="1.5" />
<rect x="851.5" y="140.4" width="11.6" height="11.6" fill="none" stroke="#F6D890" stroke-width="1.5"/>
<line x1="855.88" y1="125.75" x2="855.88" y2="144.06" stroke="#F6D890" stroke-width="1.5" />
<line x1="848.88" y1="125.75" x2="862.88" y2="125.75" stroke="#F6D890" stroke-width="1.5" />
<line x1="848.88" y1="144.06" x2="862.88" y2="144.06" stroke="#F6D890" stroke-width="1.5" />
<path d="M857.3,128.5 L863.1,139.4 L851.5,139.4 Z" fill="none" stroke="#F6D890" stroke-width="1.5"/>
<line x1="858.69" y1="133.61" x2="858.69" y2="152.66" stroke="#BF97C7" stroke-width="1.5" />
<line x1="851.69" y1="133.61" x2="865.69" y2="133.61" stroke="#BF97C7" stroke-width="1.5" />
<line x1="851.69" y1="152.66" x2="865.69" y2="152.66" stroke="#BF97C7" stroke-width="1.5" />
<circle cx="857.3" cy="143.1" r="5.8" fill="none" stroke="#BF97C7" stroke-width="1.5"/>
<line x1="857.85" y1="134.36" x2="857.85" y2="158.63" stroke="#BF97C7" stroke-width="1.5" />
<line x1="850.85" y1="134.36" x2="864.85" y2="134.36" stroke="#BF97C7" stroke-width="1.5" />
<line x1="850.85" y1="158.63" x2="864.85" y2="158.63" stroke="#BF97C7" stroke-width="1.5" />
<rect x="851.5" y="140.7" width="11.6" height="11.6" fill="none" stroke="#BF97C7" stroke-width="1.5"/>
<line x1="855.36" y1="137.12" x2="855.36" y2="160.02" stroke="#BF97C7" stroke-width="1.5" />
<line x1="848.36" y1="137.12" x2="862.36" y2="137.12" stroke="#BF97C7" stroke-width="1.5" />
<line x1="848.36" y1="160.02" x2="862.36" y2="160.02" stroke="#BF97C7" stroke-width="1.5" />
<path d="M857.3,142.2 L863.1,153.0 L851.5,153.0 Z" fill="none" stroke="#BF97C7" stroke-width="1.5"/>
<line x1="867.50" y1="132.21" x2="867.50" y2="155.24" stroke="#80B8DE" stroke-width="1.5" />
<line x1="860.50" y1="132.21" x2="874.50" y2="132.21" stroke="#80B8DE" stroke-width="1.5" />
<line x1="860.50" y1="155.24" x2="874.50" y2="155.24" stroke="#80B8DE" stroke-width="1.5" />
<circle cx="867.4" cy="143.7" r="5.8" fill="none" stroke="#80B8DE" stroke-width="1.5"/>
<line x1="868.30" y1="132.88" x2="868.30" y2="151.54" stroke="#80B8DE" stroke-width="1.5" />
<line x1="861.30" y1="132.88" x2="875.30" y2="132.88" stroke="#80B8DE" stroke-width="1.5" />
<line x1="861.30" y1="151.54" x2="875.30" y2="151.54" stroke="#80B8DE" stroke-width="1.5" />
<rect x="861.6" y="136.4" width="11.6" height="11.6" fill="none" stroke="#80B8DE" stroke-width="1.5"/>
<line x1="866.42" y1="125.92" x2="866.42" y2="144.66" stroke="#80B8DE" stroke-width="1.5" />
<line x1="859.42" y1="125.92" x2="873.42" y2="125.92" stroke="#80B8DE" stroke-width="1.5" />
<line x1="859.42" y1="144.66" x2="873.42" y2="144.66" stroke="#80B8DE" stroke-width="1.5" />
<path d="M867.4,128.9 L873.2,139.8 L861.6,139.8 Z" fill="none" stroke="#80B8DE" stroke-width="1.5"/>
<line x1="868.31" y1="133.37" x2="868.31" y2="153.42" stroke="#F6D890" stroke-width="1.5" />
<line x1="861.31" y1="133.37" x2="875.31" y2="133.37" stroke="#F6D890" stroke-width="1.5" />
<line x1="861.31" y1="153.42" x2="875.31" y2="153.42" stroke="#F6D890" stroke-width="1.5" />
<circle cx="867.4" cy="143.4" r="5.8" fill="none" stroke="#F6D890" stroke-width="1.5"/>
<line x1="866.89" y1="136.12" x2="866.89" y2="159.06" stroke="#F6D890" stroke-width="1.5" />
<line x1="859.89" y1="136.12" x2="873.89" y2="136.12" stroke="#F6D890" stroke-width="1.5" />
<line x1="859.89" y1="159.06" x2="873.89" y2="159.06" stroke="#F6D890" stroke-width="1.5" />
<rect x="861.6" y="141.8" width="11.6" height="11.6" fill="none" stroke="#F6D890" stroke-width="1.5"/>
<line x1="868.42" y1="126.72" x2="868.42" y2="151.56" stroke="#F6D890" stroke-width="1.5" />
<line x1="861.42" y1="126.72" x2="875.42" y2="126.72" stroke="#F6D890" stroke-width="1.5" />
<line x1="861.42" y1="151.56" x2="875.42" y2="151.56" stroke="#F6D890" stroke-width="1.5" />
<path d="M867.4,132.8 L873.2,143.6 L861.6,143.6 Z" fill="none" stroke="#F6D890" stroke-width="1.5"/>
<line x1="865.66" y1="135.27" x2="865.66" y2="159.70" stroke="#BF97C7" stroke-width="1.5" />
<line x1="858.66" y1="135.27" x2="872.66" y2="135.27" stroke="#BF97C7" stroke-width="1.5" />
<line x1="858.66" y1="159.70" x2="872.66" y2="159.70" stroke="#BF97C7" stroke-width="1.5" />
<circle cx="867.4" cy="147.5" r="5.8" fill="none" stroke="#BF97C7" stroke-width="1.5"/>
<line x1="868.33" y1="129.24" x2="868.33" y2="149.78" stroke="#BF97C7" stroke-width="1.5" />
<line x1="861.33" y1="129.24" x2="875.33" y2="129.24" stroke="#BF97C7" stroke-width="1.5" />
<line x1="861.33" y1="149.78" x2="875.33" y2="149.78" stroke="#BF97C7" stroke-width="1.5" />
<rect x="861.6" y="133.7" width="11.6" height="11.6" fill="none" stroke="#BF97C7" stroke-width="1.5"/>
<line x1="865.40" y1="130.34" x2="865.40" y2="154.01" stroke="#BF97C7" stroke-width="1.5" />
<line x1="858.40" y1="130.34" x2="872.40" y2="130.34" stroke="#BF97C7" stroke-width="1.5" />
<line x1="858.40" y1="154.01" x2="872.40" y2="154.01" stroke="#BF97C7" stroke-width="1.5" />
<path d="M867.4,135.8 L873.2,146.6 L861.6,146.6 Z" fill="none" stroke="#BF97C7" stroke-width="1.5"/>
<line x1="872.84" y1="123.21" x2="872.84" y2="147.93" stroke="#80B8DE" stroke-width="1.5" />
<line x1="865.84" y1="123.21" x2="879.84" y2="123.21" stroke="#80B8DE" stroke-width="1.5" />
<line x1="865.84" y1="147.93" x2="879.84" y2="147.93" stroke="#80B8DE" stroke-width="1.5" />
<circle cx="872.1" cy="135.6" r="5.8" fill="none" stroke="#80B8DE" stroke-width="1.5"/>
<line x1="872.14" y1="132.03" x2="872.14" y2="152.94" stroke="#80B8DE" stroke-width="1.5" />
<line x1="865.14" y1="132.03" x2="879.14" y2="132.03" stroke="#80B8DE" stroke-width="1.5" />
<line x1="865.14" y1="152.94" x2="879.14" y2="152.94" stroke="#80B8DE" stroke-width="1.5" />
<rect x="866.3" y="136.7" width="11.6" height="11.6" fill="none" stroke="#80B8DE" stroke-width="1.5"/>
<line x1="870.55" y1="127.57" x2="870.55" y2="150.23" stroke="#80B8DE" stroke-width="1.5" />
<line x1="863.55" y1="127.57" x2="877.55" y2="127.57" stroke="#80B8DE" stroke-width="1.5" />
<line x1="863.55" y1="150.23" x2="877.55" y2="150.23" stroke="#80B8DE" stroke-width="1.5" />
<path d="M872.1,132.5 L877.9,143.4 L866.3,143.4 Z" fill="none" stroke="#80B8DE" stroke-width="1.5"/>
<line x1="873.99" y1="136.20" x2="873.99" y2="156.19" stroke="#F6D890" stroke-width="1.5" />
<line x1="866.99" y1="136.20" x2="880.99" y2="136.20" stroke="#F6D890" stroke-width="1.5" />
<line x1="866.99" y1="156.19" x2="880.99" y2="156.19" stroke="#F6D890" stroke-width="1.5" />
<circle cx="872.1" cy="146.2" r="5.8" fill="none" stroke="#F6D890" stroke-width="1.5"/>
<line x1="871.91" y1="137.83" x2="871.91" y2="156.00" stroke="#F6D890" stroke-width="1.5" />
<line x1="864.91" y1="137.83" x2="878.91" y2="137.83" stroke="#F6D890" stroke-width="1.5" />
<line x1="864.91" y1="156.00" x2="878.91" y2="156.00" stroke="#F6D890" stroke-width="1.5" />
<rect x="866.3" y="141.1" width="11.6" height="11.6" fill="none" stroke="#F6D890" stroke-width="1.5"/>
<line x1="871.87" y1="131.10" x2="871.87" y2="158.78" stroke="#F6D890" stroke-width="1.5" />
<line x1="864.87" y1="131.10" x2="878.87" y2="131.10" stroke="#F6D890" stroke-width="1.5" />
<line x1="864.87" y1="158.78" x2="878.87" y2="158.78" stroke="#F6D890" stroke-width="1.5" />
<path d="M872.1,138.6 L877.9,149.4 L866.3,149.4 Z" fill="none" stroke="#F6D890" stroke-width="1.5"/>
<line x1="873.86" y1="131.52" x2="873.86" y2="151.62" stroke="#BF97C7" stroke-width="1.5" />
<line x1="866.86" y1="131.52" x2="880.86" y2="131.52" stroke="#BF97C7" stroke-width="1.5" />
<line x1="866.86" y1="151.62" x2="880.86" y2="151.62" stroke="#BF97C7" stroke-width="1.5" />
<circle cx="872.1" cy="141.6" r="5.8" fill="none" stroke="#BF97C7" stroke-width="1.5"/>
<line x1="870.64" y1="128.67" x2="870.64" y2="152.49" stroke="#BF97C7" stroke-width="1.5" />
<line x1="863.64" y1="128.67" x2="877.64" y2="128.67" stroke="#BF97C7" stroke-width="1.5" />
<line x1="863.64" y1="152.49" x2="877.64" y2="152.49" stroke="#BF97C7" stroke-width="1.5" />
<rect x="866.3" y="134.8" width="11.6" height="11.6" fill="none" stroke="#BF97C7" stroke-width="1.5"/>
<line x1="870.61" y1="132.15" x2="870.61" y2="159.67" stroke="#BF97C7" stroke-width="1.5" />
<line x1="863.61" y1="132.15" x2="877.61" y2="132.15" stroke="#BF97C7" stroke-width="1.5" />
<line x1="863.61" y1="159.67" x2="877.61" y2="159.67" stroke="#BF97C7" stroke-width="1.5" />
<path d="M872.1,139.5 L877.9,150.4 L866.3,150.4 Z" fill="none" stroke="#BF97C7" stroke-width="1.5"/>
<line x1="882.62" y1="126.21" x2="882.62" y2="153.08" stroke="#80B8DE" stroke-width="1.5" />
<line x1="875.62" y1="126.21" x2="889.62" y2="126.21" stroke="#80B8DE" stroke-width="1.5" />
<line x1="875.62" y1="153.08" x2="889.62" y2="153.08" stroke="#80B8DE" stroke-width="1.5" />
<circle cx="881.8" cy="139.6" r="5.8" fill="none" stroke="#80B8DE" stroke-width="1.5"/>
<line x1="881.76" y1="121.44" x2="881.76" y2="148.42" stroke="#80B8DE" stroke-width="1.5" />
<line x1="874.76" y1="121.44" x2="888.76" y2="121.44" stroke="#80B8DE" stroke-width="1.5" />
<line x1="874.76" y1="148.42" x2="888.76" y2="148.42" stroke="#80B8DE" stroke-width="1.5" />
<rect x="876.0" y="129.1" width="11.6" height="11.6" fill="none" stroke="#80B8DE" stroke-width="1.5"/>
<line x1="881.78" y1="122.40" x2="881.78" y2="140.44" stroke="#80B8DE" stroke-width="1.5" />
<line x1="874.78" y1="122.40" x2="888.78" y2="122.40" stroke="#80B8DE" stroke-width="1.5" />
<line x1="874.78" y1="140.44" x2="888.78" y2="140.44" stroke="#80B8DE" stroke-width="1.5" />
<path d="M881.8,125.0 L887.6,135.9 L876.0,135.9 Z" fill="none" stroke="#80B8DE" stroke-width="1.5"/>
<line x1="880.37" y1="128.15" x2="880.37" y2="149.17" stroke="#F6D890" stroke-width="1.5" />
<line x1="873.37" y1="128.15" x2="887.37" y2="128.15" stroke="#F6D890" stroke-width="1.5" />
<line x1="873.37" y1="149.17" x2="887.37" y2="149.17" stroke="#F6D890" stroke-width="1.5" />
<circle cx="881.8" cy="138.7" r="5.8" fill="none" stroke="#F6D890" stroke-width="1.5"/>
<line x1="883.17" y1="126.27" x2="883.17" y2="147.43" stroke="#F6D890" stroke-width="1.5" />
<line x1="876.17" y1="126.27" x2="890.17" y2="126.27" stroke="#F6D890" stroke-width="1.5" />
<line x1="876.17" y1="147.43" x2="890.17" y2="147.43" stroke="#F6D890" stroke-width="1.5" />
<rect x="876.0" y="131.0" width="11.6" height="11.6" fill="none" stroke="#F6D890" stroke-width="1.5"/>
<line x1="883.17" y1="118.28" x2="883.17" y2="143.78" stroke="#F6D890" stroke-width="1.5" />
<line x1="876.17" y1="118.28" x2="890.17" y2="118.28" stroke="#F6D890" stroke-width="1.5" />
<line x1="876.17" y1="143.78" x2="890.17" y2="143.78" stroke="#F6D890" stroke-width="1.5" />
<path d="M881.8,124.6 L887.6,135.5 L876.0,135.5 Z" fill="none" stroke="#F6D890" stroke-width="1.5"/>
<line x1="882.66" y1="125.41" x2="882.66" y2="152.67" stroke="#BF97C7" stroke-width="1.5" />
<line x1="875.66" y1="125.41" x2="889.66" y2="125.41" stroke="#BF97C7" stroke-width="1.5" />
<line x1="875.66" y1="152.67" x2="889.66" y2="152.67" stroke="#BF97C7" stroke-width="1.5" />
<circle cx="881.8" cy="139.0" r="5.8" fill="none" stroke="#BF97C7" stroke-width="1.5"/>
<line x1="881.30" y1="141.88" x2="881.30" y2="162.78" stroke="#BF97C7" stroke-width="1.5" />
<line x1="874.30" y1="141.88" x2="888.30" y2="141.88" stroke="#BF97C7" stroke-width="1.5" />
<line x1="874.30" y1="162.78" x2="888.30" y2="162.78" stroke="#BF97C7" stroke-width="1.5" />
<rect x="876.0" y="146.5" width="11.6" height="11.6" fill="none" stroke="#BF97C7" stroke-width="1.5"/>
<line x1="882.17" y1="129.69" x2="882.17" y2="157.67" stroke="#BF97C7" stroke-width="1.5" />
<line x1="875.17" y1="129.69" x2="889.17" y2="129.69" stroke="#BF97C7" stroke-width="1.5" />
<line x1="875.17" y1="157.67" x2="889.17" y2="157.67" stroke="#BF97C7" stroke-width="1.5" />
<path d="M881.8,137.3 L887.6,148.1 L876.0,148.1 Z" fill="none" stroke="#BF97C7" stroke-width="1.5"/>
<line x1="886.38" y1="127.90" x2="886.38" y2="148.65" stroke="#80B8DE" stroke-width="1.5" />
<line x1="879.38" y1="127.90" x2="893.38" y2="127.90" stroke="#80B8DE" stroke-width="1.5" />
<line x1="879.38" y1="148.65" x2="893.38" y2="148.65" stroke="#80B8DE" stroke-width="1.5" />
<circle cx="888.2" cy="138.3" r="5.8" fill="none" stroke="#80B8DE" stroke-width="1.5"/>
<line x1="887.32" y1="119.56" x2="887.32" y2="145.90" stroke="#80B8DE" stroke-width="1.5" />
<line x1="880.32" y1="119.56" x2="894.32" y2="119.56" stroke="#80B8DE" stroke-width="1.5" />
<line x1="880.32" y1="145.90" x2="894.32" y2="145.90" stroke="#80B8DE" stroke-width="1.5" />
<rect x="882.4" y="126.9" width="11.6" height="11.6" fill="none" stroke="#80B8DE" stroke-width="1.5"/>
<line x1="887.25" y1="136.66" x2="887.25" y2="157.15" stroke="#80B8DE" stroke-width="1.5" />
<line x1="880.25" y1="136.66" x2="894.25" y2="136.66" stroke="#80B8DE" stroke-width="1.5" />
<line x1="880.25" y1="157.15" x2="894.25" y2="157.15" stroke="#80B8DE" stroke-width="1.5" />
<path d="M888.2,140.5 L894.0,151.4 L882.4,151.4 Z" fill="none" stroke="#80B8DE" stroke-width="1.5"/>
<line x1="887.68" y1="129.74" x2="887.68" y2="149.64" stroke="#F6D890" stroke-width="1.5" />
<line x1="880.68" y1="129.74" x2="894.68" y2="129.74" stroke="#F6D890" stroke-width="1.5" />
<line x1="880.68" y1="149.64" x2="894.68" y2="149.64" stroke="#F6D890" stroke-width="1.5" />
<circle cx="888.2" cy="139.7" r="5.8" fill="none" stroke="#F6D890" stroke-width="1.5"/>
<line x1="889.43" y1="133.83" x2="889.43" y2="160.68" stroke="#F6D890" stroke-width="1.5" />
<line x1="882.43" y1="133.83" x2="896.43" y2="133.83" stroke="#F6D890" stroke-width="1.5" />
<line x1="882.43" y1="160.68" x2="896.43" y2="160.68" stroke="#F6D890" stroke-width="1.5" />
<rect x="882.4" y="141.5" width="11.6" height="11.6" fill="none" stroke="#F6D890" stroke-width="1.5"/>
<line x1="889.95" y1="128.16" x2="889.95" y2="155.29" stroke="#F6D890" stroke-width="1.5" />
<line x1="882.95" y1="128.16" x2="896.95" y2="128.16" stroke="#F6D890" stroke-width="1.5" />
<line x1="882.95" y1="155.29" x2="896.95" y2="155.29" stroke="#F6D890" stroke-width="1.5" />
<path d="M888.2,135.3 L894.0,146.2 L882.4,146.2 Z" fill="none" stroke="#F6D890" stroke-width="1.5"/>
<line x1="886.38" y1="133.74" x2="886.38" y2="158.93" stroke="#BF97C7" stroke-width="1.5" />
<line x1="879.38" y1="133.74" x2="893.38" y2="133.74" stroke="#BF97C7" stroke-width="1.5" />
<line x1="879.38" y1="158.93" x2="893.38" y2="158.93" stroke="#BF97C7" stroke-width="1.5" />
<circle cx="888.2" cy="146.3" r="5.8" fill="none" stroke="#BF97C7" stroke-width="1.5"/>
<line x1="889.19" y1="138.20" x2="889.19" y2="160.70" stroke="#BF97C7" stroke-width="1.5" />
<line x1="882.19" y1="138.20" x2="896.19" y2="138.20" stroke="#BF97C7" stroke-width="1.5" />
<line x1="882.19" y1="160.70" x2="896.19" y2="160.70" stroke="#BF97C7" stroke-width="1.5" />
<rect x="882.4" y="143.6" width="11.6" height="11.6" fill="none" stroke="#BF97C7" stroke-width="1.5"/>
<line x1="886.38" y1="137.53" x2="886.38" y2="158.39" stroke="#BF97C7" stroke-width="1.5" />
<line x1="879.38" y1="137.53" x2="893.38" y2="137.53" stroke="#BF97C7" stroke-width="1.5" />
<line x1="879.38" y1="158.39" x2="893.38" y2="158.39" stroke="#BF97C7" stroke-width="1.5" />
<path d="M888.2,141.6 L894.0,152.4 L882.4,152.4 Z" fill="none" stroke="#BF97C7" stroke-width="1.5"/>
<line x1="896.19" y1="121.80" x2="896.19" y2="144.53" stroke="#80B8DE" stroke-width="1.5" />
<line x1="889.19" y1="121.80" x2="903.19" y2="121.80" stroke="#80B8DE" stroke-width="1.5" />
<line x1="889.19" y1="144.53" x2="903.19" y2="144.53" stroke="#80B8DE" stroke-width="1.5" />
<circle cx="896.8" cy="133.2" r="5.8" fill="none" stroke="#80B8DE" stroke-width="1.5"/>
<line x1="898.72" y1="123.37" x2="898.72" y2="148.76" stroke="#80B8DE" stroke-width="1.5" />
<line x1="891.72" y1="123.37" x2="905.72" y2="123.37" stroke="#80B8DE" stroke-width="1.5" />
<line x1="891.72" y1="148.76" x2="905.72" y2="148.76" stroke="#80B8DE" stroke-width="1.5" />
<rect x="891.0" y="130.3" width="11.6" height="11.6" fill="none" stroke="#80B8DE" stroke-width="1.5"/>
<line x1="896.02" y1="123.14" x2="896.02" y2="147.70" stroke="#80B8DE" stroke-width="1.5" />
<line x1="889.02" y1="123.14" x2="903.02" y2="123.14" stroke="#80B8DE" stroke-width="1.5" />
<line x1="889.02" y1="147.70" x2="903.02" y2="147.70" stroke="#80B8DE" stroke-width="1.5" />
<path d="M896.8,129.0 L902.6,139.9 L891.0,139.9 Z" fill="none" stroke="#80B8DE" stroke-width="1.5"/>
<line x1="895.48" y1="129.50" x2="895.48" y2="151.45" stroke="#F6D890" stroke-width="1.5" />
<line x1="888.48" y1="129.50" x2="902.48" y2="129.50" stroke="#F6D890" stroke-width="1.5" />
<line x1="888.48" y1="151.45" x2="902.48" y2="151.45" stroke="#F6D890" stroke-width="1.5" />
<circle cx="896.8" cy="140.5" r="5.8" fill="none" stroke="#F6D890" stroke-width="1.5"/>
<line x1="898.44" y1="123.71" x2="898.44" y2="143.79" stroke="#F6D890" stroke-width="1.5" />
<line x1="891.44" y1="123.71" x2="905.44" y2="123.71" stroke="#F6D890" stroke-width="1.5" />
<line x1="891.44" y1="143.79" x2="905.44" y2="143.79" stroke="#F6D890" stroke-width="1.5" />
<rect x="891.0" y="127.9" width="11.6" height="11.6" fill="none" stroke="#F6D890" stroke-width="1.5"/>
<line x1="898.44" y1="129.35" x2="898.44" y2="149.55" stroke="#F6D890" stroke-width="1.5" />
<line x1="891.44" y1="129.35" x2="905.44" y2="129.35" stroke="#F6D890" stroke-width="1.5" />
<line x1="891.44" y1="149.55" x2="905.44" y2="149.55" stroke="#F6D890" stroke-width="1.5" />
<path d="M896.8,133.1 L902.6,143.9 L891.0,143.9 Z" fill="none" stroke="#F6D890" stroke-width="1.5"/>
<line x1="895.37" y1="142.69" x2="895.37" y2="165.19" stroke="#BF97C7" stroke-width="1.5" />
<line x1="888.37" y1="142.69" x2="902.37" y2="142.69" stroke="#BF97C7" stroke-width="1.5" />
<line x1="888.37" y1="165.19" x2="902.37" y2="165.19" stroke="#BF97C7" stroke-width="1.5" />
<circle cx="896.8" cy="153.9" r="5.8" fill="none" stroke="#BF97C7" stroke-width="1.5"/>
<line x1="896.18" y1="130.82" x2="896.18" y2="149.72" stroke="#BF97C7" stroke-width="1.5" />
<line x1="889.18" y1="130.82" x2="903.18" y2="130.82" stroke="#BF97C7" stroke-width="1.5" />
<line x1="889.18" y1="149.72" x2="903.18" y2="149.72" stroke="#BF97C7" stroke-width="1.5" />
<rect x="891.0" y="134.5" width="11.6" height="11.6" fill="none" stroke="#BF97C7" stroke-width="1.5"/>
<line x1="895.85" y1="128.35" x2="895.85" y2="148.74" stroke="#BF97C7" stroke-width="1.5" />
<line x1="888.85" y1="128.35" x2="902.85" y2="128.35" stroke="#BF97C7" stroke-width="1.5" />
<line x1="888.85" y1="148.74" x2="902.85" y2="148.74" stroke="#BF97C7" stroke-width="1.5" />
<path d="M896.8,132.2 L902.6,143.0 L891.0,143.0 Z" fill="none" stroke="#BF97C7" stroke-width="1.5"/>
<path d="M616.0,76.0 C618.5,77.8 625.9,82.4 631.0,86.5 C636.1,90.6 641.5,96.0 646.7,100.8 C651.9,105.6 657.1,111.0 662.3,115.1 C667.5,119.2 672.8,122.7 678.0,125.5 C683.2,128.3 688.3,130.1 693.5,132.0 C698.7,133.9 703.4,135.9 709.0,137.2 C714.6,138.5 720.4,139.2 727.4,139.8 C734.4,140.4 738.7,140.4 750.8,140.6 C762.9,140.8 771.0,140.9 800.0,141.0 C829.0,141.1 904.2,141.1 925.0,141.1" stroke="#0072BD" stroke-width="3.2" fill="none" stroke-linejoin="round" />
<path d="M616.0,343.0 C618.5,338.2 625.9,324.0 631.0,314.5 C636.1,305.0 641.5,295.5 646.7,286.0 C651.9,276.5 657.1,267.0 662.3,257.5 C667.5,248.0 672.8,238.1 678.0,229.0 C683.2,219.9 688.3,211.5 693.5,203.0 C698.7,194.5 703.8,185.4 709.0,178.0 C714.2,170.6 719.6,163.7 724.8,158.5 C730.0,153.3 734.3,149.9 740.4,147.0 C746.5,144.1 753.5,142.2 761.3,141.0 C769.1,139.8 760.0,139.8 787.3,139.5 C814.6,139.2 902.0,139.3 925.0,139.3" stroke="#EDB120" stroke-width="3.2" fill="none" stroke-linejoin="round" />
<path d="M616.0,346.9 C618.5,342.1 625.9,327.8 631.0,318.2 C636.1,308.6 641.5,299.1 646.7,289.6 C651.9,280.1 657.1,270.6 662.3,261.0 C667.5,251.4 672.8,241.4 678.0,232.3 C683.2,223.2 688.3,214.8 693.5,206.3 C698.7,197.8 703.8,188.9 709.0,181.5 C714.2,174.1 719.6,167.2 724.8,162.0 C730.0,156.8 734.3,153.2 740.4,150.3 C746.5,147.4 753.5,145.6 761.3,144.3 C769.1,143.0 775.8,142.6 787.3,142.4 C798.8,142.2 807.0,142.9 830.0,143.0 C853.0,143.1 909.2,143.2 925.0,143.2" stroke="#7E2F8E" stroke-width="3.2" fill="none" stroke-linejoin="round" />
</g>
<rect x="609" y="1.9" width="311" height="501.0" fill="none" stroke="#000" stroke-width="4"/>
<line x1="691.00" y1="329.30" x2="750.80" y2="329.30" stroke="#000" stroke-width="3.3" />
<circle cx="720.7" cy="329.3" r="13.8" fill="none" stroke="#000" stroke-width="3.2"/>
<line x1="691.00" y1="371.50" x2="750.80" y2="371.50" stroke="#000" stroke-width="3.3" />
<rect x="710.8" y="361.7" width="20" height="20" fill="none" stroke="#000" stroke-width="3.2"/>
<line x1="691.00" y1="413.70" x2="750.80" y2="413.70" stroke="#000" stroke-width="3.3" />
<path d="M720.8,404.2 L730,419.0 L711.6,419.0 Z" fill="none" stroke="#000" stroke-width="3.2" stroke-linejoin="miter"/>
<line x1="691.00" y1="456.90" x2="750.80" y2="456.90" stroke="#000" stroke-width="3.3" />
<text x="762.5" y="338.5" font-size="33.0" fill="#000" font-style="italic" font-family='"Liberation Sans", sans-serif' textLength="10.5" lengthAdjust="spacingAndGlyphs">t</text>
<text x="773.5" y="345.3" font-size="23.0" fill="#000" font-style="italic" font-family='"Liberation Sans", sans-serif' textLength="13.0" lengthAdjust="spacingAndGlyphs">p</text>
<line x1="800.60" y1="325.70" x2="823.90" y2="325.70" stroke="#000" stroke-width="2.1" />
<line x1="800.60" y1="333.00" x2="823.90" y2="333.00" stroke="#000" stroke-width="2.1" />
<text x="836.8" y="338.5" font-size="34.0" fill="#000" font-family='"Liberation Sans", sans-serif' textLength="14.0" lengthAdjust="spacingAndGlyphs">1</text>
<text x="859.3" y="338.5" font-size="33.0" fill="#000" font-family='"Liberation Serif", serif' textLength="15.5" lengthAdjust="spacingAndGlyphs">μ</text>
<text x="875.8" y="338.5" font-size="33.0" fill="#000" font-family='"Liberation Sans", sans-serif' textLength="15.5" lengthAdjust="spacingAndGlyphs">s</text>
<text x="762.5" y="380.9" font-size="33.0" fill="#000" font-style="italic" font-family='"Liberation Sans", sans-serif' textLength="10.5" lengthAdjust="spacingAndGlyphs">t</text>
<text x="773.5" y="387.7" font-size="23.0" fill="#000" font-style="italic" font-family='"Liberation Sans", sans-serif' textLength="13.0" lengthAdjust="spacingAndGlyphs">p</text>
<line x1="800.60" y1="368.10" x2="823.90" y2="368.10" stroke="#000" stroke-width="2.1" />
<line x1="800.60" y1="375.40" x2="823.90" y2="375.40" stroke="#000" stroke-width="2.1" />
<text x="836.8" y="380.9" font-size="34.0" fill="#000" font-family='"Liberation Sans", sans-serif' textLength="14.0" lengthAdjust="spacingAndGlyphs">2</text>
<text x="859.3" y="380.9" font-size="33.0" fill="#000" font-family='"Liberation Serif", serif' textLength="15.5" lengthAdjust="spacingAndGlyphs">μ</text>
<text x="875.8" y="380.9" font-size="33.0" fill="#000" font-family='"Liberation Sans", sans-serif' textLength="15.5" lengthAdjust="spacingAndGlyphs">s</text>
<text x="762.5" y="423.0" font-size="33.0" fill="#000" font-style="italic" font-family='"Liberation Sans", sans-serif' textLength="10.5" lengthAdjust="spacingAndGlyphs">t</text>
<text x="773.5" y="429.8" font-size="23.0" fill="#000" font-style="italic" font-family='"Liberation Sans", sans-serif' textLength="13.0" lengthAdjust="spacingAndGlyphs">p</text>
<line x1="800.60" y1="410.20" x2="823.90" y2="410.20" stroke="#000" stroke-width="2.1" />
<line x1="800.60" y1="417.50" x2="823.90" y2="417.50" stroke="#000" stroke-width="2.1" />
<text x="836.8" y="423.0" font-size="34.0" fill="#000" font-family='"Liberation Sans", sans-serif' textLength="14.0" lengthAdjust="spacingAndGlyphs">4</text>
<text x="859.3" y="423.0" font-size="33.0" fill="#000" font-family='"Liberation Serif", serif' textLength="15.5" lengthAdjust="spacingAndGlyphs">μ</text>
<text x="875.8" y="423.0" font-size="33.0" fill="#000" font-family='"Liberation Sans", sans-serif' textLength="15.5" lengthAdjust="spacingAndGlyphs">s</text>
<text x="761.6" y="467.5" font-size="33" fill="#000" textLength="104" lengthAdjust="spacingAndGlyphs" font-family='"Liberation Sans", sans-serif' >exp. fit</text>
<line x1="988.90" y1="81.90" x2="1000.90" y2="81.90" stroke="#9a9a9a" stroke-width="1" />
<line x1="1333.60" y1="81.90" x2="1345.60" y2="81.90" stroke="#9a9a9a" stroke-width="1" />
<line x1="988.90" y1="260.80" x2="1000.90" y2="260.80" stroke="#9a9a9a" stroke-width="1" />
<line x1="1333.60" y1="260.80" x2="1345.60" y2="260.80" stroke="#9a9a9a" stroke-width="1" />
<line x1="988.90" y1="439.70" x2="1000.90" y2="439.70" stroke="#9a9a9a" stroke-width="1" />
<line x1="1333.60" y1="439.70" x2="1345.60" y2="439.70" stroke="#9a9a9a" stroke-width="1" />
<line x1="1003.88" y1="3.90" x2="1003.88" y2="11.90" stroke="#9a9a9a" stroke-width="1" />
<line x1="1003.88" y1="492.90" x2="1003.88" y2="500.90" stroke="#9a9a9a" stroke-width="1" />
<line x1="1016.81" y1="3.90" x2="1016.81" y2="11.90" stroke="#9a9a9a" stroke-width="1" />
<line x1="1016.81" y1="492.90" x2="1016.81" y2="500.90" stroke="#9a9a9a" stroke-width="1" />
<line x1="1027.38" y1="3.90" x2="1027.38" y2="11.90" stroke="#9a9a9a" stroke-width="1" />
<line x1="1027.38" y1="492.90" x2="1027.38" y2="500.90" stroke="#9a9a9a" stroke-width="1" />
<line x1="1036.32" y1="3.90" x2="1036.32" y2="11.90" stroke="#9a9a9a" stroke-width="1" />
<line x1="1036.32" y1="492.90" x2="1036.32" y2="500.90" stroke="#9a9a9a" stroke-width="1" />
<line x1="1044.06" y1="3.90" x2="1044.06" y2="11.90" stroke="#9a9a9a" stroke-width="1" />
<line x1="1044.06" y1="492.90" x2="1044.06" y2="500.90" stroke="#9a9a9a" stroke-width="1" />
<line x1="1050.89" y1="3.90" x2="1050.89" y2="11.90" stroke="#9a9a9a" stroke-width="1" />
<line x1="1050.89" y1="492.90" x2="1050.89" y2="500.90" stroke="#9a9a9a" stroke-width="1" />
<line x1="1057.00" y1="3.90" x2="1057.00" y2="15.90" stroke="#9a9a9a" stroke-width="1" />
<line x1="1057.00" y1="488.90" x2="1057.00" y2="500.90" stroke="#9a9a9a" stroke-width="1" />
<line x1="1097.19" y1="3.90" x2="1097.19" y2="11.90" stroke="#9a9a9a" stroke-width="1" />
<line x1="1097.19" y1="492.90" x2="1097.19" y2="500.90" stroke="#9a9a9a" stroke-width="1" />
<line x1="1120.70" y1="3.90" x2="1120.70" y2="11.90" stroke="#9a9a9a" stroke-width="1" />
<line x1="1120.70" y1="492.90" x2="1120.70" y2="500.90" stroke="#9a9a9a" stroke-width="1" />
<line x1="1137.38" y1="3.90" x2="1137.38" y2="11.90" stroke="#9a9a9a" stroke-width="1" />
<line x1="1137.38" y1="492.90" x2="1137.38" y2="500.90" stroke="#9a9a9a" stroke-width="1" />
<line x1="1150.31" y1="3.90" x2="1150.31" y2="11.90" stroke="#9a9a9a" stroke-width="1" />
<line x1="1150.31" y1="492.90" x2="1150.31" y2="500.90" stroke="#9a9a9a" stroke-width="1" />
<line x1="1160.88" y1="3.90" x2="1160.88" y2="11.90" stroke="#9a9a9a" stroke-width="1" />
<line x1="1160.88" y1="492.90" x2="1160.88" y2="500.90" stroke="#9a9a9a" stroke-width="1" />
<line x1="1169.82" y1="3.90" x2="1169.82" y2="11.90" stroke="#9a9a9a" stroke-width="1" />
<line x1="1169.82" y1="492.90" x2="1169.82" y2="500.90" stroke="#9a9a9a" stroke-width="1" />
<line x1="1177.56" y1="3.90" x2="1177.56" y2="11.90" stroke="#9a9a9a" stroke-width="1" />
<line x1="1177.56" y1="492.90" x2="1177.56" y2="500.90" stroke="#9a9a9a" stroke-width="1" />
<line x1="1184.39" y1="3.90" x2="1184.39" y2="11.90" stroke="#9a9a9a" stroke-width="1" />
<line x1="1184.39" y1="492.90" x2="1184.39" y2="500.90" stroke="#9a9a9a" stroke-width="1" />
<line x1="1190.50" y1="3.90" x2="1190.50" y2="15.90" stroke="#9a9a9a" stroke-width="1" />
<line x1="1190.50" y1="488.90" x2="1190.50" y2="500.90" stroke="#9a9a9a" stroke-width="1" />
<line x1="1230.69" y1="3.90" x2="1230.69" y2="11.90" stroke="#9a9a9a" stroke-width="1" />
<line x1="1230.69" y1="492.90" x2="1230.69" y2="500.90" stroke="#9a9a9a" stroke-width="1" />
<line x1="1254.20" y1="3.90" x2="1254.20" y2="11.90" stroke="#9a9a9a" stroke-width="1" />
<line x1="1254.20" y1="492.90" x2="1254.20" y2="500.90" stroke="#9a9a9a" stroke-width="1" />
<line x1="1270.88" y1="3.90" x2="1270.88" y2="11.90" stroke="#9a9a9a" stroke-width="1" />
<line x1="1270.88" y1="492.90" x2="1270.88" y2="500.90" stroke="#9a9a9a" stroke-width="1" />
<line x1="1283.81" y1="3.90" x2="1283.81" y2="11.90" stroke="#9a9a9a" stroke-width="1" />
<line x1="1283.81" y1="492.90" x2="1283.81" y2="500.90" stroke="#9a9a9a" stroke-width="1" />
<line x1="1294.38" y1="3.90" x2="1294.38" y2="11.90" stroke="#9a9a9a" stroke-width="1" />
<line x1="1294.38" y1="492.90" x2="1294.38" y2="500.90" stroke="#9a9a9a" stroke-width="1" />
<line x1="1303.32" y1="3.90" x2="1303.32" y2="11.90" stroke="#9a9a9a" stroke-width="1" />
<line x1="1303.32" y1="492.90" x2="1303.32" y2="500.90" stroke="#9a9a9a" stroke-width="1" />
<line x1="1311.06" y1="3.90" x2="1311.06" y2="11.90" stroke="#9a9a9a" stroke-width="1" />
<line x1="1311.06" y1="492.90" x2="1311.06" y2="500.90" stroke="#9a9a9a" stroke-width="1" />
<line x1="1317.89" y1="3.90" x2="1317.89" y2="11.90" stroke="#9a9a9a" stroke-width="1" />
<line x1="1317.89" y1="492.90" x2="1317.89" y2="500.90" stroke="#9a9a9a" stroke-width="1" />
<line x1="1324.00" y1="3.90" x2="1324.00" y2="15.90" stroke="#9a9a9a" stroke-width="1" />
<line x1="1324.00" y1="488.90" x2="1324.00" y2="500.90" stroke="#9a9a9a" stroke-width="1" />
<text x="973.5" y="93.4" font-size="34" fill="#000" text-anchor="end" textLength="43" lengthAdjust="spacingAndGlyphs" font-family='"Liberation Sans", sans-serif' >0.6</text>
<text x="973.5" y="272.3" font-size="34" fill="#000" text-anchor="end" textLength="43" lengthAdjust="spacingAndGlyphs" font-family='"Liberation Sans", sans-serif' >0.4</text>
<text x="973.5" y="451.2" font-size="34" fill="#000" text-anchor="end" textLength="43" lengthAdjust="spacingAndGlyphs" font-family='"Liberation Sans", sans-serif' >0.2</text>
<text x="1033.0" y="544.0" font-size="34" fill="#000" textLength="32.5" lengthAdjust="spacingAndGlyphs" font-family='"Liberation Sans", sans-serif' >10</text>
<text x="1067.0" y="532.3" font-size="24" fill="#000" textLength="13.5" lengthAdjust="spacingAndGlyphs" font-family='"Liberation Sans", sans-serif' >6</text>
<text x="1166.5" y="544.0" font-size="34" fill="#000" textLength="32.5" lengthAdjust="spacingAndGlyphs" font-family='"Liberation Sans", sans-serif' >10</text>
<text x="1200.5" y="532.3" font-size="24" fill="#000" textLength="13.5" lengthAdjust="spacingAndGlyphs" font-family='"Liberation Sans", sans-serif' >7</text>
<text x="1300.0" y="544.0" font-size="34" fill="#000" textLength="32.5" lengthAdjust="spacingAndGlyphs" font-family='"Liberation Sans", sans-serif' >10</text>
<text x="1334.0" y="532.3" font-size="24" fill="#000" textLength="13.5" lengthAdjust="spacingAndGlyphs" font-family='"Liberation Sans", sans-serif' >8</text>
<text x="1052.0" y="594.3" font-size="33" fill="#000" textLength="231" lengthAdjust="spacingAndGlyphs" font-family='"Liberation Sans", sans-serif' >PIMC time (<tspan font-family='"Liberation Serif", serif'>μ</tspan>s)</text>
<text x="1223.5" y="48.3" font-size="40" fill="#4D4D4D" font-weight="bold" textLength="111" lengthAdjust="spacingAndGlyphs" font-family='"Liberation Sans", sans-serif' >PIMC</text>
<clipPath id="clipPI"><rect x="990" y="4.5" width="355" height="495"/></clipPath>
<g clip-path="url(#clipPI)">
<g fill="none" stroke="#80B8DE" stroke-width="1.3"><circle cx="1004.2" cy="84.1" r="4.4"/><circle cx="1014.2" cy="90.6" r="4.4"/><circle cx="1021.6" cy="92.6" r="4.4"/><circle cx="1027.2" cy="94.5" r="4.4"/><circle cx="1031.8" cy="100.7" r="4.4"/><circle cx="1035.1" cy="98.9" r="4.4"/><circle cx="1037.7" cy="103.5" r="4.4"/><circle cx="1042.7" cy="95.9" r="4.4"/><circle cx="1047.5" cy="108.8" r="4.4"/><circle cx="1050.8" cy="101.9" r="4.4"/><circle cx="1051.0" cy="108.5" r="4.4"/><circle cx="1054.5" cy="104.6" r="4.4"/><circle cx="1057.9" cy="105.0" r="4.4"/><circle cx="1061.2" cy="106.9" r="4.4"/><circle cx="1063.3" cy="109.3" r="4.4"/><circle cx="1068.1" cy="103.2" r="4.4"/><circle cx="1069.8" cy="105.5" r="4.4"/><circle cx="1072.0" cy="104.5" r="4.4"/><circle cx="1073.0" cy="117.2" r="4.4"/><circle cx="1076.7" cy="109.6" r="4.4"/><circle cx="1077.8" cy="110.6" r="4.4"/><circle cx="1078.7" cy="113.9" r="4.4"/><circle cx="1084.8" cy="105.1" r="4.4"/><circle cx="1083.2" cy="116.4" r="4.4"/><circle cx="1087.5" cy="112.8" r="4.4"/><circle cx="1088.0" cy="112.7" r="4.4"/><circle cx="1094.4" cy="102.6" r="4.4"/><circle cx="1091.6" cy="116.1" r="4.4"/><circle cx="1094.8" cy="109.5" r="4.4"/><circle cx="1097.1" cy="109.9" r="4.4"/><circle cx="1098.6" cy="110.2" r="4.4"/><circle cx="1097.6" cy="125.3" r="4.4"/><circle cx="1100.7" cy="116.4" r="4.4"/><circle cx="1101.8" cy="118.7" r="4.4"/><circle cx="1104.7" cy="119.9" r="4.4"/><circle cx="1105.1" cy="122.6" r="4.4"/><circle cx="1107.7" cy="118.1" r="4.4"/><circle cx="1111.5" cy="113.5" r="4.4"/><circle cx="1112.4" cy="113.3" r="4.4"/><circle cx="1113.1" cy="117.6" r="4.4"/><circle cx="1115.8" cy="118.2" r="4.4"/><circle cx="1118.5" cy="114.2" r="4.4"/><circle cx="1119.7" cy="111.3" r="4.4"/><circle cx="1119.1" cy="123.1" r="4.4"/><circle cx="1120.3" cy="121.1" r="4.4"/><circle cx="1122.6" cy="118.4" r="4.4"/><circle cx="1125.1" cy="117.5" r="4.4"/><circle cx="1124.6" cy="122.2" r="4.4"/><circle cx="1127.2" cy="116.9" r="4.4"/><circle cx="1129.1" cy="118.5" r="4.4"/><circle cx="1132.0" cy="110.3" r="4.4"/><circle cx="1130.8" cy="123.6" r="4.4"/><circle cx="1132.5" cy="122.6" r="4.4"/><circle cx="1134.1" cy="119.1" r="4.4"/><circle cx="1135.8" cy="122.8" r="4.4"/><circle cx="1137.0" cy="118.8" r="4.4"/><circle cx="1137.9" cy="124.6" r="4.4"/><circle cx="1140.2" cy="121.4" r="4.4"/><circle cx="1142.0" cy="119.3" r="4.4"/><circle cx="1142.1" cy="120.1" r="4.4"/><circle cx="1142.1" cy="125.9" r="4.4"/><circle cx="1144.9" cy="122.7" r="4.4"/><circle cx="1145.1" cy="126.1" r="4.4"/><circle cx="1147.5" cy="118.7" r="4.4"/><circle cx="1147.9" cy="123.6" r="4.4"/><circle cx="1149.4" cy="122.6" r="4.4"/><circle cx="1150.3" cy="127.8" r="4.4"/><circle cx="1152.3" cy="119.9" r="4.4"/><circle cx="1153.6" cy="124.9" r="4.4"/><circle cx="1153.9" cy="125.5" r="4.4"/><circle cx="1155.1" cy="127.4" r="4.4"/><circle cx="1156.3" cy="126.1" r="4.4"/><circle cx="1157.5" cy="128.0" r="4.4"/><circle cx="1159.0" cy="128.5" r="4.4"/><circle cx="1161.2" cy="122.2" r="4.4"/><circle cx="1162.1" cy="120.5" r="4.4"/><circle cx="1161.9" cy="126.7" r="4.4"/><circle cx="1163.9" cy="126.4" r="4.4"/><circle cx="1164.7" cy="127.2" r="4.4"/><circle cx="1165.9" cy="126.3" r="4.4"/><circle cx="1166.9" cy="126.1" r="4.4"/><circle cx="1168.9" cy="123.1" r="4.4"/><circle cx="1169.3" cy="120.2" r="4.4"/><circle cx="1170.7" cy="125.1" r="4.4"/><circle cx="1171.6" cy="125.0" r="4.4"/><circle cx="1173.5" cy="120.1" r="4.4"/><circle cx="1173.5" cy="123.7" r="4.4"/><circle cx="1175.7" cy="119.2" r="4.4"/><circle cx="1175.1" cy="129.6" r="4.4"/><circle cx="1177.4" cy="119.6" r="4.4"/><circle cx="1178.1" cy="123.7" r="4.4"/><circle cx="1178.2" cy="131.6" r="4.4"/><circle cx="1180.1" cy="119.5" r="4.4"/><circle cx="1182.5" cy="114.5" r="4.4"/><circle cx="1182.8" cy="119.6" r="4.4"/><circle cx="1182.6" cy="129.3" r="4.4"/><circle cx="1183.8" cy="125.9" r="4.4"/><circle cx="1185.4" cy="123.6" r="4.4"/><circle cx="1185.9" cy="121.3" r="4.4"/><circle cx="1187.0" cy="122.5" r="4.4"/><circle cx="1188.8" cy="119.7" r="4.4"/><circle cx="1189.3" cy="125.7" r="4.4"/><circle cx="1189.3" cy="129.2" r="4.4"/><circle cx="1190.9" cy="126.0" r="4.4"/><circle cx="1191.1" cy="130.2" r="4.4"/><circle cx="1192.4" cy="133.8" r="4.4"/><circle cx="1193.3" cy="128.8" r="4.4"/><circle cx="1194.7" cy="123.6" r="4.4"/><circle cx="1195.4" cy="119.0" r="4.4"/><circle cx="1196.6" cy="129.2" r="4.4"/><circle cx="1197.8" cy="121.9" r="4.4"/><circle cx="1197.9" cy="129.7" r="4.4"/><circle cx="1199.1" cy="118.1" r="4.4"/><circle cx="1200.4" cy="126.3" r="4.4"/><circle cx="1201.1" cy="129.4" r="4.4"/><circle cx="1201.7" cy="125.1" r="4.4"/><circle cx="1202.8" cy="125.8" r="4.4"/><circle cx="1203.6" cy="129.1" r="4.4"/><circle cx="1204.9" cy="122.6" r="4.4"/><circle cx="1205.9" cy="126.5" r="4.4"/><circle cx="1206.9" cy="124.8" r="4.4"/><circle cx="1206.9" cy="126.8" r="4.4"/><circle cx="1208.3" cy="132.8" r="4.4"/><circle cx="1209.1" cy="128.1" r="4.4"/><circle cx="1209.8" cy="126.7" r="4.4"/><circle cx="1210.6" cy="125.7" r="4.4"/><circle cx="1211.5" cy="134.3" r="4.4"/><circle cx="1212.4" cy="127.8" r="4.4"/><circle cx="1213.0" cy="132.2" r="4.4"/><circle cx="1214.3" cy="128.3" r="4.4"/><circle cx="1215.5" cy="122.4" r="4.4"/><circle cx="1216.7" cy="120.4" r="4.4"/><circle cx="1217.1" cy="128.2" r="4.4"/><circle cx="1217.4" cy="131.3" r="4.4"/><circle cx="1218.5" cy="120.2" r="4.4"/><circle cx="1219.2" cy="128.0" r="4.4"/><circle cx="1220.3" cy="123.2" r="4.4"/><circle cx="1221.1" cy="132.2" r="4.4"/><circle cx="1222.1" cy="127.1" r="4.4"/><circle cx="1223.1" cy="122.7" r="4.4"/><circle cx="1223.9" cy="135.2" r="4.4"/><circle cx="1224.6" cy="132.0" r="4.4"/><circle cx="1225.0" cy="121.3" r="4.4"/><circle cx="1226.4" cy="128.6" r="4.4"/><circle cx="1226.8" cy="119.1" r="4.4"/><circle cx="1228.0" cy="123.3" r="4.4"/><circle cx="1228.9" cy="121.0" r="4.4"/><circle cx="1229.1" cy="128.3" r="4.4"/><circle cx="1230.3" cy="129.4" r="4.4"/><circle cx="1231.2" cy="121.5" r="4.4"/><circle cx="1231.5" cy="136.5" r="4.4"/><circle cx="1233.0" cy="120.0" r="4.4"/><circle cx="1233.4" cy="127.9" r="4.4"/><circle cx="1234.5" cy="123.4" r="4.4"/><circle cx="1235.3" cy="125.9" r="4.4"/><circle cx="1235.7" cy="128.4" r="4.4"/><circle cx="1236.6" cy="127.5" r="4.4"/><circle cx="1237.0" cy="122.1" r="4.4"/><circle cx="1238.3" cy="133.9" r="4.4"/><circle cx="1238.6" cy="129.9" r="4.4"/><circle cx="1239.5" cy="127.5" r="4.4"/><circle cx="1240.2" cy="124.7" r="4.4"/><circle cx="1241.2" cy="125.6" r="4.4"/><circle cx="1242.2" cy="119.0" r="4.4"/><circle cx="1243.1" cy="116.7" r="4.4"/><circle cx="1243.2" cy="127.4" r="4.4"/><circle cx="1244.1" cy="123.5" r="4.4"/><circle cx="1245.2" cy="126.4" r="4.4"/><circle cx="1246.0" cy="119.0" r="4.4"/><circle cx="1246.6" cy="125.8" r="4.4"/><circle cx="1247.2" cy="121.0" r="4.4"/><circle cx="1248.4" cy="132.5" r="4.4"/><circle cx="1248.6" cy="133.5" r="4.4"/><circle cx="1249.6" cy="118.1" r="4.4"/><circle cx="1250.4" cy="128.6" r="4.4"/><circle cx="1251.1" cy="131.9" r="4.4"/><circle cx="1251.9" cy="137.9" r="4.4"/><circle cx="1252.6" cy="128.9" r="4.4"/><circle cx="1253.2" cy="128.7" r="4.4"/><circle cx="1254.0" cy="121.9" r="4.4"/><circle cx="1254.9" cy="131.8" r="4.4"/><circle cx="1255.4" cy="129.1" r="4.4"/><circle cx="1256.6" cy="129.9" r="4.4"/><circle cx="1257.0" cy="125.5" r="4.4"/><circle cx="1257.4" cy="119.9" r="4.4"/><circle cx="1258.7" cy="130.1" r="4.4"/><circle cx="1259.1" cy="125.9" r="4.4"/><circle cx="1259.9" cy="129.5" r="4.4"/><circle cx="1260.9" cy="132.0" r="4.4"/><circle cx="1260.9" cy="132.3" r="4.4"/><circle cx="1261.8" cy="127.9" r="4.4"/><circle cx="1262.6" cy="133.3" r="4.4"/><circle cx="1263.3" cy="125.6" r="4.4"/><circle cx="1264.3" cy="125.6" r="4.4"/><circle cx="1264.6" cy="123.8" r="4.4"/><circle cx="1265.3" cy="126.8" r="4.4"/><circle cx="1266.3" cy="123.2" r="4.4"/><circle cx="1266.9" cy="128.6" r="4.4"/><circle cx="1267.7" cy="128.5" r="4.4"/><circle cx="1268.4" cy="129.4" r="4.4"/><circle cx="1269.1" cy="118.9" r="4.4"/><circle cx="1269.8" cy="125.5" r="4.4"/><circle cx="1270.7" cy="127.8" r="4.4"/><circle cx="1271.3" cy="133.9" r="4.4"/><circle cx="1272.1" cy="125.5" r="4.4"/><circle cx="1272.8" cy="130.3" r="4.4"/><circle cx="1273.0" cy="135.8" r="4.4"/><circle cx="1273.6" cy="126.9" r="4.4"/><circle cx="1274.4" cy="126.5" r="4.4"/><circle cx="1275.0" cy="123.8" r="4.4"/><circle cx="1276.2" cy="120.5" r="4.4"/><circle cx="1276.3" cy="130.5" r="4.4"/><circle cx="1277.2" cy="126.7" r="4.4"/><circle cx="1277.8" cy="126.3" r="4.4"/><circle cx="1278.8" cy="136.4" r="4.4"/><circle cx="1279.0" cy="121.2" r="4.4"/><circle cx="1280.0" cy="127.3" r="4.4"/><circle cx="1280.8" cy="122.0" r="4.4"/><circle cx="1281.1" cy="128.8" r="4.4"/><circle cx="1281.7" cy="127.9" r="4.4"/><circle cx="1282.7" cy="121.6" r="4.4"/><circle cx="1283.1" cy="126.5" r="4.4"/><circle cx="1283.8" cy="129.3" r="4.4"/><circle cx="1284.9" cy="134.7" r="4.4"/><circle cx="1285.6" cy="128.2" r="4.4"/><circle cx="1286.2" cy="127.8" r="4.4"/><circle cx="1286.6" cy="127.3" r="4.4"/><circle cx="1287.2" cy="123.3" r="4.4"/><circle cx="1287.9" cy="121.8" r="4.4"/><circle cx="1288.2" cy="129.4" r="4.4"/><circle cx="1289.3" cy="128.5" r="4.4"/><circle cx="1289.8" cy="124.8" r="4.4"/><circle cx="1290.6" cy="124.7" r="4.4"/><circle cx="1290.9" cy="128.6" r="4.4"/><circle cx="1291.8" cy="135.8" r="4.4"/><circle cx="1292.6" cy="127.9" r="4.4"/><circle cx="1293.2" cy="130.8" r="4.4"/><circle cx="1293.6" cy="122.5" r="4.4"/><circle cx="1294.4" cy="115.0" r="4.4"/><circle cx="1295.2" cy="126.7" r="4.4"/><circle cx="1295.5" cy="132.9" r="4.4"/><circle cx="1296.4" cy="123.3" r="4.4"/><circle cx="1297.1" cy="119.6" r="4.4"/><circle cx="1297.8" cy="132.0" r="4.4"/><circle cx="1298.3" cy="127.8" r="4.4"/><circle cx="1298.7" cy="119.9" r="4.4"/><circle cx="1299.5" cy="130.5" r="4.4"/><circle cx="1300.0" cy="128.6" r="4.4"/><circle cx="1300.4" cy="123.3" r="4.4"/><circle cx="1301.4" cy="131.7" r="4.4"/><circle cx="1301.7" cy="132.8" r="4.4"/><circle cx="1302.4" cy="124.9" r="4.4"/><circle cx="1303.3" cy="122.3" r="4.4"/><circle cx="1303.7" cy="124.8" r="4.4"/><circle cx="1304.7" cy="122.9" r="4.4"/><circle cx="1305.2" cy="121.9" r="4.4"/><circle cx="1305.9" cy="132.7" r="4.4"/><circle cx="1306.4" cy="127.8" r="4.4"/><circle cx="1306.7" cy="125.9" r="4.4"/><circle cx="1307.3" cy="127.8" r="4.4"/><circle cx="1308.0" cy="129.6" r="4.4"/><circle cx="1308.9" cy="128.9" r="4.4"/><circle cx="1309.3" cy="116.0" r="4.4"/><circle cx="1309.9" cy="126.5" r="4.4"/><circle cx="1310.8" cy="122.1" r="4.4"/><circle cx="1310.9" cy="121.2" r="4.4"/><circle cx="1311.8" cy="127.1" r="4.4"/><circle cx="1312.6" cy="125.7" r="4.4"/><circle cx="1312.7" cy="124.5" r="4.4"/><circle cx="1313.5" cy="127.5" r="4.4"/><circle cx="1314.2" cy="136.4" r="4.4"/><circle cx="1314.7" cy="130.6" r="4.4"/><circle cx="1315.3" cy="123.7" r="4.4"/><circle cx="1315.8" cy="124.7" r="4.4"/><circle cx="1316.6" cy="123.8" r="4.4"/><circle cx="1317.2" cy="125.7" r="4.4"/><circle cx="1317.6" cy="130.1" r="4.4"/><circle cx="1318.0" cy="127.3" r="4.4"/><circle cx="1318.7" cy="127.1" r="4.4"/><circle cx="1319.7" cy="122.8" r="4.4"/><circle cx="1320.2" cy="139.0" r="4.4"/><circle cx="1320.9" cy="130.9" r="4.4"/><circle cx="1321.0" cy="130.7" r="4.4"/><circle cx="1321.8" cy="124.5" r="4.4"/><circle cx="1322.7" cy="127.2" r="4.4"/><circle cx="1323.2" cy="132.1" r="4.4"/><circle cx="1323.7" cy="115.6" r="4.4"/><circle cx="1324.3" cy="129.3" r="4.4"/><circle cx="1324.8" cy="131.4" r="4.4"/><circle cx="1325.3" cy="130.9" r="4.4"/><circle cx="1325.7" cy="131.9" r="4.4"/><circle cx="1326.3" cy="128.7" r="4.4"/><circle cx="1327.0" cy="124.7" r="4.4"/><circle cx="1327.5" cy="123.0" r="4.4"/><circle cx="1328.2" cy="120.6" r="4.4"/><circle cx="1328.8" cy="130.5" r="4.4"/><circle cx="1329.6" cy="133.5" r="4.4"/><circle cx="1329.8" cy="125.0" r="4.4"/><circle cx="1330.3" cy="132.7" r="4.4"/><circle cx="1331.1" cy="122.4" r="4.4"/><circle cx="1331.5" cy="126.1" r="4.4"/><circle cx="1332.2" cy="133.3" r="4.4"/><circle cx="1332.8" cy="122.3" r="4.4"/><circle cx="1333.1" cy="121.8" r="4.4"/><circle cx="1333.7" cy="136.3" r="4.4"/><circle cx="1334.7" cy="125.8" r="4.4"/><circle cx="1334.8" cy="130.1" r="4.4"/><circle cx="1335.5" cy="128.2" r="4.4"/><circle cx="1336.2" cy="131.2" r="4.4"/><circle cx="1336.5" cy="130.1" r="4.4"/><circle cx="1337.0" cy="124.6" r="4.4"/><circle cx="1337.9" cy="122.2" r="4.4"/><circle cx="1338.3" cy="124.1" r="4.4"/><circle cx="1338.8" cy="127.4" r="4.4"/><circle cx="1339.6" cy="127.9" r="4.4"/><circle cx="1339.8" cy="125.6" r="4.4"/><circle cx="1340.8" cy="121.9" r="4.4"/><circle cx="1341.0" cy="122.0" r="4.4"/><circle cx="1341.7" cy="126.6" r="4.4"/><circle cx="1342.2" cy="134.6" r="4.4"/><circle cx="1342.9" cy="130.7" r="4.4"/><circle cx="1343.4" cy="126.7" r="4.4"/><circle cx="1344.0" cy="130.9" r="4.4"/><circle cx="1344.4" cy="124.9" r="4.4"/><circle cx="1344.8" cy="128.2" r="4.4"/><circle cx="1345.3" cy="125.8" r="4.4"/><circle cx="1346.1" cy="120.6" r="4.4"/><circle cx="1346.5" cy="127.6" r="4.4"/><circle cx="1347.3" cy="129.6" r="4.4"/><circle cx="1347.8" cy="128.3" r="4.4"/></g>
<g fill="none" stroke="#F6D890" stroke-width="1.3"><circle cx="1002.2" cy="413.7" r="4.4"/><circle cx="1009.3" cy="410.5" r="4.4"/><circle cx="1016.6" cy="410.7" r="4.4"/><circle cx="1028.1" cy="411.1" r="4.4"/><circle cx="1030.9" cy="405.0" r="4.4"/><circle cx="1035.3" cy="404.6" r="4.4"/><circle cx="1037.3" cy="404.7" r="4.4"/><circle cx="1044.6" cy="404.6" r="4.4"/><circle cx="1045.1" cy="404.3" r="4.4"/><circle cx="1049.6" cy="400.7" r="4.4"/><circle cx="1049.9" cy="396.2" r="4.4"/><circle cx="1055.6" cy="403.0" r="4.4"/><circle cx="1058.6" cy="401.4" r="4.4"/><circle cx="1059.2" cy="395.3" r="4.4"/><circle cx="1065.5" cy="395.8" r="4.4"/><circle cx="1065.5" cy="393.4" r="4.4"/><circle cx="1066.6" cy="391.3" r="4.4"/><circle cx="1072.2" cy="394.6" r="4.4"/><circle cx="1074.6" cy="390.5" r="4.4"/><circle cx="1076.5" cy="387.8" r="4.4"/><circle cx="1075.4" cy="383.3" r="4.4"/><circle cx="1080.9" cy="386.8" r="4.4"/><circle cx="1084.3" cy="388.1" r="4.4"/><circle cx="1085.2" cy="382.7" r="4.4"/><circle cx="1085.4" cy="379.1" r="4.4"/><circle cx="1085.5" cy="377.7" r="4.4"/><circle cx="1093.3" cy="381.1" r="4.4"/><circle cx="1093.9" cy="379.7" r="4.4"/><circle cx="1093.1" cy="374.5" r="4.4"/><circle cx="1098.8" cy="376.6" r="4.4"/><circle cx="1101.0" cy="377.2" r="4.4"/><circle cx="1100.6" cy="371.2" r="4.4"/><circle cx="1102.0" cy="370.0" r="4.4"/><circle cx="1107.8" cy="369.7" r="4.4"/><circle cx="1105.9" cy="366.9" r="4.4"/><circle cx="1109.5" cy="364.7" r="4.4"/><circle cx="1110.2" cy="364.2" r="4.4"/><circle cx="1115.3" cy="363.4" r="4.4"/><circle cx="1112.2" cy="359.4" r="4.4"/><circle cx="1116.2" cy="358.9" r="4.4"/><circle cx="1120.2" cy="358.8" r="4.4"/><circle cx="1119.1" cy="353.6" r="4.4"/><circle cx="1122.0" cy="355.8" r="4.4"/><circle cx="1120.6" cy="351.4" r="4.4"/><circle cx="1124.1" cy="350.4" r="4.4"/><circle cx="1124.6" cy="349.3" r="4.4"/><circle cx="1126.0" cy="346.3" r="4.4"/><circle cx="1128.6" cy="348.3" r="4.4"/><circle cx="1124.0" cy="340.7" r="4.4"/><circle cx="1126.9" cy="338.5" r="4.4"/><circle cx="1134.5" cy="343.6" r="4.4"/><circle cx="1134.6" cy="339.3" r="4.4"/><circle cx="1134.5" cy="336.2" r="4.4"/><circle cx="1135.2" cy="334.7" r="4.4"/><circle cx="1136.5" cy="332.9" r="4.4"/><circle cx="1138.4" cy="330.0" r="4.4"/><circle cx="1142.3" cy="330.1" r="4.4"/><circle cx="1144.2" cy="328.7" r="4.4"/><circle cx="1145.9" cy="328.8" r="4.4"/><circle cx="1143.6" cy="323.3" r="4.4"/><circle cx="1146.5" cy="322.6" r="4.4"/><circle cx="1148.8" cy="322.7" r="4.4"/><circle cx="1148.1" cy="318.2" r="4.4"/><circle cx="1148.8" cy="314.9" r="4.4"/><circle cx="1151.0" cy="314.5" r="4.4"/><circle cx="1152.2" cy="310.6" r="4.4"/><circle cx="1145.4" cy="305.3" r="4.4"/><circle cx="1147.1" cy="302.2" r="4.4"/><circle cx="1149.3" cy="301.1" r="4.4"/><circle cx="1155.7" cy="301.4" r="4.4"/><circle cx="1152.7" cy="297.2" r="4.4"/><circle cx="1154.4" cy="296.5" r="4.4"/><circle cx="1156.7" cy="294.0" r="4.4"/><circle cx="1158.1" cy="292.1" r="4.4"/><circle cx="1161.5" cy="290.6" r="4.4"/><circle cx="1155.1" cy="284.5" r="4.4"/><circle cx="1162.2" cy="286.6" r="4.4"/><circle cx="1159.5" cy="283.7" r="4.4"/><circle cx="1161.1" cy="281.2" r="4.4"/><circle cx="1171.1" cy="283.1" r="4.4"/><circle cx="1164.9" cy="277.5" r="4.4"/><circle cx="1166.1" cy="275.5" r="4.4"/><circle cx="1166.7" cy="272.8" r="4.4"/><circle cx="1170.4" cy="273.0" r="4.4"/><circle cx="1169.5" cy="270.2" r="4.4"/><circle cx="1169.5" cy="268.2" r="4.4"/><circle cx="1170.6" cy="265.8" r="4.4"/><circle cx="1169.2" cy="261.6" r="4.4"/><circle cx="1174.5" cy="261.5" r="4.4"/><circle cx="1176.1" cy="261.0" r="4.4"/><circle cx="1178.3" cy="259.9" r="4.4"/><circle cx="1181.2" cy="259.4" r="4.4"/><circle cx="1175.3" cy="253.9" r="4.4"/><circle cx="1185.1" cy="257.5" r="4.4"/><circle cx="1180.2" cy="251.6" r="4.4"/><circle cx="1183.5" cy="250.8" r="4.4"/><circle cx="1185.4" cy="249.7" r="4.4"/><circle cx="1182.2" cy="244.4" r="4.4"/><circle cx="1180.5" cy="242.4" r="4.4"/><circle cx="1186.9" cy="241.1" r="4.4"/><circle cx="1180.9" cy="237.2" r="4.4"/><circle cx="1189.4" cy="237.2" r="4.4"/><circle cx="1183.6" cy="233.5" r="4.4"/><circle cx="1188.3" cy="232.8" r="4.4"/><circle cx="1186.7" cy="228.8" r="4.4"/><circle cx="1184.9" cy="225.8" r="4.4"/><circle cx="1189.9" cy="225.4" r="4.4"/><circle cx="1197.0" cy="227.2" r="4.4"/><circle cx="1192.8" cy="222.3" r="4.4"/><circle cx="1196.9" cy="222.7" r="4.4"/><circle cx="1193.9" cy="218.6" r="4.4"/><circle cx="1196.2" cy="217.7" r="4.4"/><circle cx="1196.9" cy="213.8" r="4.4"/><circle cx="1205.6" cy="216.7" r="4.4"/><circle cx="1204.0" cy="214.3" r="4.4"/><circle cx="1196.5" cy="208.0" r="4.4"/><circle cx="1198.1" cy="207.2" r="4.4"/><circle cx="1198.7" cy="204.4" r="4.4"/><circle cx="1200.6" cy="203.0" r="4.4"/><circle cx="1206.4" cy="205.3" r="4.4"/><circle cx="1203.4" cy="201.2" r="4.4"/><circle cx="1208.1" cy="201.8" r="4.4"/><circle cx="1208.4" cy="199.1" r="4.4"/><circle cx="1209.6" cy="198.8" r="4.4"/><circle cx="1208.5" cy="194.7" r="4.4"/><circle cx="1210.1" cy="193.8" r="4.4"/><circle cx="1212.2" cy="192.9" r="4.4"/><circle cx="1209.5" cy="189.6" r="4.4"/><circle cx="1216.0" cy="192.1" r="4.4"/><circle cx="1217.9" cy="190.2" r="4.4"/><circle cx="1214.5" cy="187.4" r="4.4"/><circle cx="1214.5" cy="185.3" r="4.4"/><circle cx="1216.4" cy="184.9" r="4.4"/><circle cx="1218.5" cy="182.8" r="4.4"/><circle cx="1218.2" cy="181.4" r="4.4"/><circle cx="1220.0" cy="180.8" r="4.4"/><circle cx="1218.9" cy="177.3" r="4.4"/><circle cx="1219.8" cy="176.6" r="4.4"/><circle cx="1218.3" cy="174.0" r="4.4"/><circle cx="1223.1" cy="176.1" r="4.4"/><circle cx="1219.6" cy="171.2" r="4.4"/><circle cx="1223.5" cy="173.4" r="4.4"/><circle cx="1222.7" cy="170.7" r="4.4"/><circle cx="1227.0" cy="172.8" r="4.4"/><circle cx="1225.3" cy="169.4" r="4.4"/><circle cx="1232.4" cy="174.1" r="4.4"/><circle cx="1225.8" cy="166.3" r="4.4"/><circle cx="1223.0" cy="162.6" r="4.4"/><circle cx="1226.5" cy="164.3" r="4.4"/><circle cx="1232.3" cy="166.9" r="4.4"/><circle cx="1231.9" cy="164.8" r="4.4"/><circle cx="1232.1" cy="164.6" r="4.4"/><circle cx="1232.6" cy="163.3" r="4.4"/><circle cx="1233.3" cy="162.1" r="4.4"/><circle cx="1232.5" cy="160.0" r="4.4"/><circle cx="1232.2" cy="156.8" r="4.4"/><circle cx="1236.0" cy="158.4" r="4.4"/><circle cx="1230.2" cy="153.4" r="4.4"/><circle cx="1239.6" cy="159.4" r="4.4"/><circle cx="1236.8" cy="155.2" r="4.4"/><circle cx="1236.8" cy="152.6" r="4.4"/><circle cx="1240.9" cy="156.2" r="4.4"/><circle cx="1242.9" cy="156.9" r="4.4"/><circle cx="1243.2" cy="154.6" r="4.4"/><circle cx="1242.9" cy="152.7" r="4.4"/><circle cx="1237.7" cy="146.5" r="4.4"/><circle cx="1246.1" cy="154.1" r="4.4"/><circle cx="1243.1" cy="148.8" r="4.4"/><circle cx="1245.1" cy="150.4" r="4.4"/><circle cx="1248.5" cy="151.5" r="4.4"/><circle cx="1247.0" cy="148.2" r="4.4"/><circle cx="1245.3" cy="145.6" r="4.4"/><circle cx="1250.8" cy="149.5" r="4.4"/><circle cx="1248.6" cy="146.2" r="4.4"/><circle cx="1248.2" cy="143.1" r="4.4"/><circle cx="1250.0" cy="144.7" r="4.4"/><circle cx="1250.7" cy="143.7" r="4.4"/><circle cx="1251.6" cy="143.4" r="4.4"/><circle cx="1253.1" cy="143.8" r="4.4"/><circle cx="1252.4" cy="141.5" r="4.4"/><circle cx="1253.8" cy="143.1" r="4.4"/><circle cx="1252.7" cy="139.0" r="4.4"/><circle cx="1254.2" cy="139.4" r="4.4"/><circle cx="1255.3" cy="140.0" r="4.4"/><circle cx="1254.0" cy="135.8" r="4.4"/><circle cx="1261.9" cy="149.2" r="4.4"/><circle cx="1257.8" cy="139.3" r="4.4"/><circle cx="1259.5" cy="141.1" r="4.4"/><circle cx="1261.6" cy="143.6" r="4.4"/><circle cx="1264.3" cy="146.8" r="4.4"/><circle cx="1263.8" cy="143.0" r="4.4"/><circle cx="1265.9" cy="145.9" r="4.4"/><circle cx="1263.1" cy="139.1" r="4.4"/><circle cx="1265.5" cy="142.6" r="4.4"/><circle cx="1267.5" cy="144.2" r="4.4"/><circle cx="1267.9" cy="143.4" r="4.4"/><circle cx="1267.7" cy="141.0" r="4.4"/><circle cx="1267.7" cy="140.2" r="4.4"/><circle cx="1269.3" cy="142.8" r="4.4"/><circle cx="1268.8" cy="139.5" r="4.4"/><circle cx="1269.6" cy="138.4" r="4.4"/><circle cx="1270.0" cy="137.7" r="4.4"/><circle cx="1269.7" cy="133.6" r="4.4"/><circle cx="1273.0" cy="142.2" r="4.4"/><circle cx="1272.1" cy="137.0" r="4.4"/><circle cx="1275.3" cy="143.4" r="4.4"/><circle cx="1272.7" cy="134.8" r="4.4"/><circle cx="1274.9" cy="138.5" r="4.4"/><circle cx="1274.7" cy="135.5" r="4.4"/><circle cx="1275.3" cy="135.7" r="4.4"/><circle cx="1278.6" cy="145.1" r="4.4"/><circle cx="1277.9" cy="139.6" r="4.4"/><circle cx="1279.2" cy="145.2" r="4.4"/><circle cx="1278.2" cy="137.1" r="4.4"/><circle cx="1279.1" cy="135.8" r="4.4"/><circle cx="1280.0" cy="139.5" r="4.4"/><circle cx="1280.8" cy="139.0" r="4.4"/><circle cx="1281.1" cy="138.3" r="4.4"/><circle cx="1282.0" cy="138.7" r="4.4"/><circle cx="1283.1" cy="139.0" r="4.4"/><circle cx="1282.5" cy="133.3" r="4.4"/><circle cx="1284.3" cy="137.7" r="4.4"/><circle cx="1284.6" cy="138.3" r="4.4"/><circle cx="1286.6" cy="143.4" r="4.4"/><circle cx="1285.7" cy="134.1" r="4.4"/><circle cx="1286.3" cy="136.5" r="4.4"/><circle cx="1287.6" cy="137.3" r="4.4"/><circle cx="1287.4" cy="132.8" r="4.4"/><circle cx="1287.3" cy="130.0" r="4.4"/><circle cx="1288.7" cy="135.2" r="4.4"/><circle cx="1290.2" cy="138.9" r="4.4"/><circle cx="1291.1" cy="141.9" r="4.4"/><circle cx="1290.9" cy="135.7" r="4.4"/><circle cx="1291.4" cy="136.6" r="4.4"/><circle cx="1291.9" cy="135.3" r="4.4"/><circle cx="1293.0" cy="137.0" r="4.4"/><circle cx="1293.0" cy="130.5" r="4.4"/><circle cx="1294.1" cy="133.8" r="4.4"/><circle cx="1294.3" cy="130.2" r="4.4"/><circle cx="1295.0" cy="134.4" r="4.4"/><circle cx="1296.5" cy="141.7" r="4.4"/><circle cx="1296.6" cy="136.9" r="4.4"/><circle cx="1297.3" cy="138.2" r="4.4"/><circle cx="1297.7" cy="135.8" r="4.4"/><circle cx="1298.6" cy="135.8" r="4.4"/><circle cx="1299.0" cy="132.0" r="4.4"/><circle cx="1300.0" cy="139.0" r="4.4"/><circle cx="1300.0" cy="132.4" r="4.4"/><circle cx="1300.9" cy="137.2" r="4.4"/><circle cx="1301.3" cy="136.5" r="4.4"/><circle cx="1302.6" cy="138.4" r="4.4"/><circle cx="1302.7" cy="139.0" r="4.4"/><circle cx="1303.6" cy="133.6" r="4.4"/><circle cx="1304.2" cy="135.1" r="4.4"/><circle cx="1305.0" cy="137.8" r="4.4"/><circle cx="1305.2" cy="135.2" r="4.4"/><circle cx="1305.9" cy="134.6" r="4.4"/><circle cx="1306.8" cy="139.5" r="4.4"/><circle cx="1307.4" cy="137.8" r="4.4"/><circle cx="1307.3" cy="130.6" r="4.4"/><circle cx="1308.4" cy="133.5" r="4.4"/><circle cx="1308.7" cy="136.1" r="4.4"/><circle cx="1309.5" cy="134.3" r="4.4"/><circle cx="1310.1" cy="136.3" r="4.4"/><circle cx="1310.5" cy="133.3" r="4.4"/><circle cx="1311.2" cy="138.9" r="4.4"/><circle cx="1311.8" cy="142.1" r="4.4"/><circle cx="1312.2" cy="134.6" r="4.4"/><circle cx="1313.2" cy="132.2" r="4.4"/><circle cx="1313.3" cy="142.1" r="4.4"/><circle cx="1314.1" cy="139.5" r="4.4"/><circle cx="1314.9" cy="133.2" r="4.4"/><circle cx="1315.2" cy="141.0" r="4.4"/><circle cx="1315.7" cy="140.8" r="4.4"/><circle cx="1316.3" cy="129.8" r="4.4"/><circle cx="1317.2" cy="137.7" r="4.4"/><circle cx="1318.0" cy="135.8" r="4.4"/><circle cx="1318.5" cy="131.8" r="4.4"/><circle cx="1318.8" cy="142.8" r="4.4"/><circle cx="1319.7" cy="137.7" r="4.4"/><circle cx="1320.2" cy="133.0" r="4.4"/><circle cx="1320.5" cy="135.4" r="4.4"/><circle cx="1321.0" cy="138.2" r="4.4"/><circle cx="1322.1" cy="137.2" r="4.4"/><circle cx="1322.7" cy="130.4" r="4.4"/><circle cx="1323.0" cy="134.7" r="4.4"/><circle cx="1323.7" cy="132.6" r="4.4"/><circle cx="1324.3" cy="126.2" r="4.4"/><circle cx="1324.8" cy="133.5" r="4.4"/><circle cx="1325.3" cy="134.1" r="4.4"/><circle cx="1325.9" cy="136.3" r="4.4"/><circle cx="1326.4" cy="136.9" r="4.4"/><circle cx="1326.9" cy="133.1" r="4.4"/><circle cx="1327.9" cy="133.1" r="4.4"/><circle cx="1328.3" cy="131.7" r="4.4"/><circle cx="1328.7" cy="134.8" r="4.4"/><circle cx="1329.2" cy="142.0" r="4.4"/><circle cx="1330.0" cy="133.5" r="4.4"/><circle cx="1330.6" cy="137.6" r="4.4"/><circle cx="1330.9" cy="138.2" r="4.4"/><circle cx="1331.5" cy="133.4" r="4.4"/><circle cx="1332.1" cy="134.1" r="4.4"/><circle cx="1332.9" cy="128.4" r="4.4"/><circle cx="1333.2" cy="135.7" r="4.4"/><circle cx="1333.7" cy="139.1" r="4.4"/><circle cx="1334.6" cy="133.4" r="4.4"/><circle cx="1335.1" cy="140.3" r="4.4"/><circle cx="1335.6" cy="142.2" r="4.4"/><circle cx="1336.4" cy="136.6" r="4.4"/><circle cx="1336.8" cy="137.1" r="4.4"/><circle cx="1337.1" cy="136.6" r="4.4"/><circle cx="1337.6" cy="133.1" r="4.4"/><circle cx="1338.2" cy="134.0" r="4.4"/><circle cx="1339.2" cy="142.8" r="4.4"/><circle cx="1339.6" cy="134.2" r="4.4"/><circle cx="1340.3" cy="135.5" r="4.4"/><circle cx="1340.4" cy="136.1" r="4.4"/><circle cx="1341.4" cy="138.3" r="4.4"/><circle cx="1341.6" cy="141.5" r="4.4"/><circle cx="1342.0" cy="137.7" r="4.4"/><circle cx="1343.0" cy="136.7" r="4.4"/><circle cx="1343.2" cy="137.1" r="4.4"/><circle cx="1343.9" cy="140.4" r="4.4"/><circle cx="1344.5" cy="132.1" r="4.4"/><circle cx="1344.8" cy="136.2" r="4.4"/><circle cx="1345.7" cy="137.4" r="4.4"/><circle cx="1346.4" cy="137.9" r="4.4"/><circle cx="1346.9" cy="135.5" r="4.4"/><circle cx="1347.0" cy="137.2" r="4.4"/><circle cx="1348.0" cy="136.2" r="4.4"/></g>
<g fill="none" stroke="#BF97C7" stroke-width="1.3"><circle cx="998.3" cy="443.0" r="4.4"/><circle cx="1013.0" cy="433.7" r="4.4"/><circle cx="1017.7" cy="436.4" r="4.4"/><circle cx="1024.8" cy="434.0" r="4.4"/><circle cx="1032.7" cy="430.3" r="4.4"/><circle cx="1034.9" cy="429.2" r="4.4"/><circle cx="1034.2" cy="419.6" r="4.4"/><circle cx="1047.8" cy="426.9" r="4.4"/><circle cx="1047.5" cy="423.5" r="4.4"/><circle cx="1055.0" cy="420.2" r="4.4"/><circle cx="1058.0" cy="418.0" r="4.4"/><circle cx="1055.9" cy="409.8" r="4.4"/><circle cx="1063.3" cy="411.9" r="4.4"/><circle cx="1063.8" cy="407.5" r="4.4"/><circle cx="1067.2" cy="407.8" r="4.4"/><circle cx="1066.6" cy="402.3" r="4.4"/><circle cx="1070.1" cy="401.2" r="4.4"/><circle cx="1074.5" cy="402.0" r="4.4"/><circle cx="1079.6" cy="399.3" r="4.4"/><circle cx="1073.3" cy="389.0" r="4.4"/><circle cx="1081.4" cy="393.5" r="4.4"/><circle cx="1082.7" cy="389.9" r="4.4"/><circle cx="1086.1" cy="390.2" r="4.4"/><circle cx="1089.2" cy="388.6" r="4.4"/><circle cx="1086.1" cy="382.8" r="4.4"/><circle cx="1092.6" cy="383.0" r="4.4"/><circle cx="1086.9" cy="375.8" r="4.4"/><circle cx="1091.0" cy="374.4" r="4.4"/><circle cx="1092.0" cy="371.5" r="4.4"/><circle cx="1096.1" cy="369.0" r="4.4"/><circle cx="1094.5" cy="363.0" r="4.4"/><circle cx="1102.0" cy="365.0" r="4.4"/><circle cx="1102.5" cy="365.0" r="4.4"/><circle cx="1106.4" cy="360.4" r="4.4"/><circle cx="1105.3" cy="356.6" r="4.4"/><circle cx="1108.3" cy="353.3" r="4.4"/><circle cx="1108.1" cy="349.2" r="4.4"/><circle cx="1107.3" cy="345.0" r="4.4"/><circle cx="1109.6" cy="344.3" r="4.4"/><circle cx="1110.9" cy="339.0" r="4.4"/><circle cx="1113.0" cy="337.8" r="4.4"/><circle cx="1113.0" cy="334.0" r="4.4"/><circle cx="1114.1" cy="331.1" r="4.4"/><circle cx="1116.7" cy="328.3" r="4.4"/><circle cx="1118.5" cy="327.1" r="4.4"/><circle cx="1122.6" cy="324.5" r="4.4"/><circle cx="1121.8" cy="322.5" r="4.4"/><circle cx="1124.9" cy="318.8" r="4.4"/><circle cx="1124.3" cy="315.4" r="4.4"/><circle cx="1126.1" cy="313.4" r="4.4"/><circle cx="1127.8" cy="311.2" r="4.4"/><circle cx="1130.0" cy="306.5" r="4.4"/><circle cx="1129.3" cy="305.7" r="4.4"/><circle cx="1134.2" cy="302.7" r="4.4"/><circle cx="1129.9" cy="299.0" r="4.4"/><circle cx="1135.5" cy="295.4" r="4.4"/><circle cx="1133.5" cy="293.9" r="4.4"/><circle cx="1144.8" cy="292.2" r="4.4"/><circle cx="1138.3" cy="287.4" r="4.4"/><circle cx="1144.3" cy="287.5" r="4.4"/><circle cx="1138.1" cy="282.2" r="4.4"/><circle cx="1146.6" cy="280.3" r="4.4"/><circle cx="1145.0" cy="277.9" r="4.4"/><circle cx="1143.4" cy="273.9" r="4.4"/><circle cx="1148.9" cy="272.0" r="4.4"/><circle cx="1152.8" cy="271.6" r="4.4"/><circle cx="1151.7" cy="268.2" r="4.4"/><circle cx="1154.2" cy="265.8" r="4.4"/><circle cx="1154.6" cy="263.8" r="4.4"/><circle cx="1151.6" cy="259.6" r="4.4"/><circle cx="1158.8" cy="257.6" r="4.4"/><circle cx="1161.6" cy="256.6" r="4.4"/><circle cx="1158.7" cy="252.9" r="4.4"/><circle cx="1163.3" cy="252.7" r="4.4"/><circle cx="1166.4" cy="249.1" r="4.4"/><circle cx="1166.2" cy="248.0" r="4.4"/><circle cx="1163.4" cy="243.5" r="4.4"/><circle cx="1165.4" cy="242.0" r="4.4"/><circle cx="1160.7" cy="236.3" r="4.4"/><circle cx="1170.2" cy="236.1" r="4.4"/><circle cx="1166.6" cy="234.3" r="4.4"/><circle cx="1169.7" cy="230.8" r="4.4"/><circle cx="1173.5" cy="231.1" r="4.4"/><circle cx="1169.2" cy="226.8" r="4.4"/><circle cx="1172.5" cy="225.9" r="4.4"/><circle cx="1179.5" cy="226.0" r="4.4"/><circle cx="1173.2" cy="219.4" r="4.4"/><circle cx="1178.4" cy="218.2" r="4.4"/><circle cx="1176.1" cy="215.9" r="4.4"/><circle cx="1174.5" cy="210.5" r="4.4"/><circle cx="1182.1" cy="212.5" r="4.4"/><circle cx="1178.9" cy="208.2" r="4.4"/><circle cx="1184.8" cy="208.1" r="4.4"/><circle cx="1176.7" cy="203.0" r="4.4"/><circle cx="1177.8" cy="200.8" r="4.4"/><circle cx="1183.3" cy="199.7" r="4.4"/><circle cx="1187.6" cy="199.7" r="4.4"/><circle cx="1185.4" cy="196.6" r="4.4"/><circle cx="1191.5" cy="197.0" r="4.4"/><circle cx="1188.9" cy="193.0" r="4.4"/><circle cx="1197.3" cy="192.8" r="4.4"/><circle cx="1182.2" cy="182.6" r="4.4"/><circle cx="1187.4" cy="183.6" r="4.4"/><circle cx="1188.9" cy="181.8" r="4.4"/><circle cx="1193.0" cy="183.6" r="4.4"/><circle cx="1192.6" cy="181.3" r="4.4"/><circle cx="1193.5" cy="178.5" r="4.4"/><circle cx="1196.6" cy="179.3" r="4.4"/><circle cx="1197.5" cy="178.6" r="4.4"/><circle cx="1197.6" cy="177.1" r="4.4"/><circle cx="1200.4" cy="177.1" r="4.4"/><circle cx="1199.3" cy="173.3" r="4.4"/><circle cx="1193.9" cy="167.4" r="4.4"/><circle cx="1205.9" cy="174.4" r="4.4"/><circle cx="1202.3" cy="170.4" r="4.4"/><circle cx="1206.6" cy="170.9" r="4.4"/><circle cx="1205.2" cy="168.6" r="4.4"/><circle cx="1207.6" cy="168.5" r="4.4"/><circle cx="1205.2" cy="165.5" r="4.4"/><circle cx="1207.0" cy="163.7" r="4.4"/><circle cx="1210.4" cy="165.5" r="4.4"/><circle cx="1210.7" cy="163.6" r="4.4"/><circle cx="1207.0" cy="157.8" r="4.4"/><circle cx="1210.8" cy="159.5" r="4.4"/><circle cx="1211.0" cy="159.1" r="4.4"/><circle cx="1209.0" cy="154.8" r="4.4"/><circle cx="1217.4" cy="162.1" r="4.4"/><circle cx="1214.1" cy="157.8" r="4.4"/><circle cx="1215.4" cy="156.3" r="4.4"/><circle cx="1216.1" cy="156.0" r="4.4"/><circle cx="1216.7" cy="154.2" r="4.4"/><circle cx="1219.8" cy="156.6" r="4.4"/><circle cx="1217.6" cy="153.0" r="4.4"/><circle cx="1218.9" cy="152.4" r="4.4"/><circle cx="1219.3" cy="150.6" r="4.4"/><circle cx="1221.5" cy="152.8" r="4.4"/><circle cx="1217.6" cy="145.3" r="4.4"/><circle cx="1224.6" cy="151.8" r="4.4"/><circle cx="1227.0" cy="154.0" r="4.4"/><circle cx="1221.9" cy="145.0" r="4.4"/><circle cx="1223.8" cy="145.6" r="4.4"/><circle cx="1222.9" cy="143.1" r="4.4"/><circle cx="1226.6" cy="145.9" r="4.4"/><circle cx="1228.7" cy="146.5" r="4.4"/><circle cx="1231.0" cy="147.9" r="4.4"/><circle cx="1230.0" cy="145.3" r="4.4"/><circle cx="1230.2" cy="144.3" r="4.4"/><circle cx="1227.1" cy="137.5" r="4.4"/><circle cx="1229.6" cy="139.0" r="4.4"/><circle cx="1231.7" cy="142.6" r="4.4"/><circle cx="1230.1" cy="135.2" r="4.4"/><circle cx="1234.2" cy="144.5" r="4.4"/><circle cx="1235.8" cy="145.4" r="4.4"/><circle cx="1233.9" cy="139.0" r="4.4"/><circle cx="1234.1" cy="138.0" r="4.4"/><circle cx="1236.9" cy="140.9" r="4.4"/><circle cx="1238.8" cy="143.4" r="4.4"/><circle cx="1237.9" cy="139.7" r="4.4"/><circle cx="1238.9" cy="139.6" r="4.4"/><circle cx="1238.9" cy="138.2" r="4.4"/><circle cx="1239.7" cy="138.0" r="4.4"/><circle cx="1242.5" cy="140.8" r="4.4"/><circle cx="1242.7" cy="140.7" r="4.4"/><circle cx="1242.1" cy="137.1" r="4.4"/><circle cx="1244.4" cy="138.8" r="4.4"/><circle cx="1244.3" cy="138.3" r="4.4"/><circle cx="1244.1" cy="135.7" r="4.4"/><circle cx="1246.1" cy="138.2" r="4.4"/><circle cx="1246.8" cy="138.2" r="4.4"/><circle cx="1247.5" cy="137.2" r="4.4"/><circle cx="1250.2" cy="140.9" r="4.4"/><circle cx="1248.6" cy="134.4" r="4.4"/><circle cx="1251.0" cy="138.8" r="4.4"/><circle cx="1248.7" cy="131.3" r="4.4"/><circle cx="1250.3" cy="134.1" r="4.4"/><circle cx="1251.3" cy="134.1" r="4.4"/><circle cx="1252.9" cy="138.9" r="4.4"/><circle cx="1253.6" cy="140.9" r="4.4"/><circle cx="1253.8" cy="136.5" r="4.4"/><circle cx="1255.0" cy="138.9" r="4.4"/><circle cx="1255.6" cy="138.4" r="4.4"/><circle cx="1256.0" cy="134.7" r="4.4"/><circle cx="1256.3" cy="135.0" r="4.4"/><circle cx="1257.5" cy="134.4" r="4.4"/><circle cx="1258.5" cy="135.6" r="4.4"/><circle cx="1259.5" cy="141.5" r="4.4"/><circle cx="1259.9" cy="138.4" r="4.4"/><circle cx="1260.4" cy="137.7" r="4.4"/><circle cx="1260.9" cy="132.5" r="4.4"/><circle cx="1261.8" cy="133.8" r="4.4"/><circle cx="1262.1" cy="133.8" r="4.4"/><circle cx="1263.2" cy="137.8" r="4.4"/><circle cx="1264.4" cy="136.3" r="4.4"/><circle cx="1264.8" cy="135.7" r="4.4"/><circle cx="1265.1" cy="131.7" r="4.4"/><circle cx="1265.6" cy="136.0" r="4.4"/><circle cx="1266.0" cy="132.5" r="4.4"/><circle cx="1266.7" cy="134.6" r="4.4"/><circle cx="1268.0" cy="137.9" r="4.4"/><circle cx="1268.6" cy="135.2" r="4.4"/><circle cx="1269.3" cy="139.0" r="4.4"/><circle cx="1269.8" cy="138.1" r="4.4"/><circle cx="1270.6" cy="140.2" r="4.4"/><circle cx="1271.2" cy="132.9" r="4.4"/><circle cx="1272.0" cy="130.8" r="4.4"/><circle cx="1272.8" cy="135.0" r="4.4"/><circle cx="1273.3" cy="134.4" r="4.4"/><circle cx="1274.1" cy="135.3" r="4.4"/><circle cx="1274.5" cy="132.4" r="4.4"/><circle cx="1275.3" cy="136.0" r="4.4"/><circle cx="1275.9" cy="137.0" r="4.4"/><circle cx="1276.6" cy="131.1" r="4.4"/><circle cx="1277.5" cy="131.1" r="4.4"/><circle cx="1278.2" cy="136.2" r="4.4"/><circle cx="1278.8" cy="134.5" r="4.4"/><circle cx="1279.3" cy="128.1" r="4.4"/><circle cx="1280.0" cy="135.7" r="4.4"/><circle cx="1280.6" cy="137.0" r="4.4"/><circle cx="1281.3" cy="135.5" r="4.4"/><circle cx="1281.9" cy="134.2" r="4.4"/><circle cx="1282.8" cy="128.7" r="4.4"/><circle cx="1283.1" cy="136.3" r="4.4"/><circle cx="1284.1" cy="131.0" r="4.4"/><circle cx="1284.4" cy="136.5" r="4.4"/><circle cx="1285.3" cy="136.4" r="4.4"/><circle cx="1286.0" cy="129.8" r="4.4"/><circle cx="1286.6" cy="139.5" r="4.4"/><circle cx="1287.3" cy="135.9" r="4.4"/><circle cx="1288.1" cy="132.2" r="4.4"/><circle cx="1288.8" cy="132.6" r="4.4"/><circle cx="1289.0" cy="136.0" r="4.4"/><circle cx="1290.2" cy="134.4" r="4.4"/><circle cx="1290.5" cy="127.6" r="4.4"/><circle cx="1291.2" cy="137.1" r="4.4"/><circle cx="1291.8" cy="140.0" r="4.4"/><circle cx="1292.5" cy="136.8" r="4.4"/><circle cx="1292.9" cy="137.2" r="4.4"/><circle cx="1294.0" cy="136.9" r="4.4"/><circle cx="1294.6" cy="133.9" r="4.4"/><circle cx="1295.2" cy="134.9" r="4.4"/><circle cx="1295.4" cy="134.3" r="4.4"/><circle cx="1296.5" cy="131.0" r="4.4"/><circle cx="1296.7" cy="136.1" r="4.4"/><circle cx="1297.2" cy="129.8" r="4.4"/><circle cx="1298.2" cy="133.3" r="4.4"/><circle cx="1299.1" cy="139.4" r="4.4"/><circle cx="1299.5" cy="130.3" r="4.4"/><circle cx="1299.9" cy="134.9" r="4.4"/><circle cx="1300.6" cy="138.5" r="4.4"/><circle cx="1301.0" cy="138.1" r="4.4"/><circle cx="1301.9" cy="136.5" r="4.4"/><circle cx="1302.3" cy="138.4" r="4.4"/><circle cx="1302.9" cy="131.1" r="4.4"/><circle cx="1304.0" cy="131.1" r="4.4"/><circle cx="1304.5" cy="136.5" r="4.4"/><circle cx="1305.1" cy="134.7" r="4.4"/><circle cx="1305.7" cy="135.5" r="4.4"/><circle cx="1306.1" cy="136.3" r="4.4"/><circle cx="1306.9" cy="135.9" r="4.4"/><circle cx="1307.5" cy="129.8" r="4.4"/><circle cx="1307.8" cy="134.0" r="4.4"/><circle cx="1308.5" cy="130.9" r="4.4"/><circle cx="1309.4" cy="134.8" r="4.4"/><circle cx="1309.9" cy="137.4" r="4.4"/><circle cx="1310.7" cy="137.4" r="4.4"/><circle cx="1311.0" cy="136.9" r="4.4"/><circle cx="1311.8" cy="135.7" r="4.4"/><circle cx="1312.5" cy="132.4" r="4.4"/><circle cx="1312.9" cy="135.2" r="4.4"/><circle cx="1313.5" cy="137.2" r="4.4"/><circle cx="1314.3" cy="134.6" r="4.4"/><circle cx="1314.9" cy="134.6" r="4.4"/><circle cx="1315.4" cy="132.6" r="4.4"/><circle cx="1315.9" cy="135.8" r="4.4"/><circle cx="1316.6" cy="134.5" r="4.4"/><circle cx="1317.3" cy="136.4" r="4.4"/><circle cx="1317.7" cy="140.8" r="4.4"/><circle cx="1318.1" cy="137.6" r="4.4"/><circle cx="1318.8" cy="131.2" r="4.4"/><circle cx="1319.7" cy="131.5" r="4.4"/><circle cx="1319.9" cy="128.7" r="4.4"/><circle cx="1320.6" cy="131.9" r="4.4"/><circle cx="1321.4" cy="129.7" r="4.4"/><circle cx="1322.1" cy="135.8" r="4.4"/><circle cx="1322.3" cy="134.5" r="4.4"/><circle cx="1323.2" cy="131.8" r="4.4"/><circle cx="1323.7" cy="138.8" r="4.4"/><circle cx="1324.2" cy="129.6" r="4.4"/><circle cx="1325.0" cy="137.0" r="4.4"/><circle cx="1325.1" cy="138.2" r="4.4"/><circle cx="1325.9" cy="133.7" r="4.4"/><circle cx="1326.6" cy="132.3" r="4.4"/><circle cx="1327.0" cy="135.4" r="4.4"/><circle cx="1327.7" cy="136.7" r="4.4"/><circle cx="1328.1" cy="137.3" r="4.4"/><circle cx="1329.0" cy="135.5" r="4.4"/><circle cx="1329.3" cy="133.3" r="4.4"/><circle cx="1329.7" cy="131.6" r="4.4"/><circle cx="1330.5" cy="135.1" r="4.4"/><circle cx="1331.1" cy="136.3" r="4.4"/><circle cx="1331.7" cy="142.4" r="4.4"/><circle cx="1331.9" cy="135.2" r="4.4"/><circle cx="1332.6" cy="132.0" r="4.4"/><circle cx="1333.5" cy="139.7" r="4.4"/><circle cx="1334.0" cy="128.3" r="4.4"/><circle cx="1334.2" cy="137.7" r="4.4"/><circle cx="1335.3" cy="136.5" r="4.4"/><circle cx="1335.7" cy="135.3" r="4.4"/><circle cx="1336.3" cy="133.6" r="4.4"/><circle cx="1336.9" cy="132.6" r="4.4"/><circle cx="1337.3" cy="135.1" r="4.4"/><circle cx="1338.1" cy="136.1" r="4.4"/><circle cx="1338.1" cy="135.3" r="4.4"/><circle cx="1339.2" cy="137.6" r="4.4"/><circle cx="1339.7" cy="137.2" r="4.4"/><circle cx="1339.8" cy="130.9" r="4.4"/><circle cx="1340.7" cy="137.5" r="4.4"/><circle cx="1341.4" cy="141.9" r="4.4"/><circle cx="1341.5" cy="134.4" r="4.4"/><circle cx="1342.0" cy="132.3" r="4.4"/><circle cx="1343.0" cy="132.2" r="4.4"/><circle cx="1343.4" cy="135.6" r="4.4"/><circle cx="1343.7" cy="130.6" r="4.4"/><circle cx="1344.7" cy="136.8" r="4.4"/><circle cx="1344.8" cy="135.9" r="4.4"/><circle cx="1345.4" cy="133.8" r="4.4"/><circle cx="1346.0" cy="135.4" r="4.4"/><circle cx="1346.7" cy="135.9" r="4.4"/><circle cx="1347.1" cy="136.1" r="4.4"/><circle cx="1347.5" cy="138.3" r="4.4"/></g>
<path d="M986.0,91.2 C991.5,91.8 1008.2,93.1 1019.3,94.6 C1030.4,96.1 1041.5,97.7 1052.6,100.0 C1063.7,102.3 1074.8,105.6 1085.9,108.6 C1097.0,111.6 1109.4,115.4 1119.2,117.9 C1129.0,120.4 1137.2,122.1 1145.0,123.5 C1152.8,124.9 1158.3,125.5 1166.0,126.5 C1173.7,127.5 1181.7,128.7 1191.0,129.3 C1200.3,130.0 1210.5,130.2 1222.0,130.4 C1233.5,130.6 1238.7,130.5 1260.0,130.5 C1281.3,130.5 1335.0,130.5 1350.0,130.5" stroke="#0072BD" stroke-width="3.2" fill="none" stroke-linejoin="round" />
<path d="M986.0,423.5 C990.3,422.4 1003.3,419.3 1012.0,417.0 C1020.7,414.7 1031.7,411.5 1038.0,409.5 C1044.3,407.5 1045.7,406.9 1050.0,405.1 C1054.3,403.3 1057.9,402.0 1064.0,398.5 C1070.1,395.0 1080.5,388.7 1086.5,384.3 C1092.5,379.9 1095.0,377.1 1100.0,372.0 C1105.0,366.9 1111.2,358.8 1116.2,353.5 C1121.2,348.2 1125.0,346.1 1130.0,340.0 C1135.0,333.9 1139.1,328.7 1146.0,317.0 C1152.9,305.3 1165.4,281.2 1171.5,270.0 C1177.6,258.8 1178.1,259.2 1182.7,250.0 C1187.3,240.8 1193.3,226.5 1199.3,215.0 C1205.3,203.5 1212.3,190.4 1218.8,180.8 C1225.3,171.2 1233.2,163.0 1238.4,157.3 C1243.6,151.6 1245.5,149.7 1250.0,146.6 C1254.5,143.5 1261.3,140.5 1265.6,138.5 C1269.9,136.5 1271.9,135.8 1276.0,134.8 C1280.1,133.8 1284.3,133.0 1290.0,132.4 C1295.7,131.8 1300.0,131.4 1310.0,131.2 C1320.0,131.0 1343.3,131.0 1350.0,131.0" stroke="#EDB120" stroke-width="3.2" fill="none" stroke-linejoin="round" />
<path d="M986.0,453.0 C990.3,451.3 1003.3,447.2 1012.0,443.0 C1020.7,438.8 1031.7,431.6 1038.0,427.5 C1044.3,423.4 1045.7,421.6 1050.0,418.1 C1054.3,414.6 1057.9,412.1 1064.0,406.5 C1070.1,400.9 1080.0,391.7 1086.5,384.3 C1093.0,376.9 1098.2,369.8 1103.2,362.1 C1108.2,354.4 1111.7,346.5 1116.2,338.0 C1120.8,329.5 1125.0,322.3 1130.5,311.0 C1136.0,299.7 1142.9,283.5 1149.2,270.0 C1155.5,256.5 1161.6,244.2 1168.3,230.0 C1175.0,215.8 1182.7,196.6 1189.5,184.7 C1196.3,172.8 1202.5,165.5 1209.0,158.3 C1215.5,151.1 1221.8,145.9 1228.6,141.7 C1235.4,137.5 1243.9,134.7 1250.0,132.9 C1256.1,131.1 1258.3,131.3 1265.0,130.9 C1271.7,130.5 1275.8,130.7 1290.0,130.7 C1304.2,130.7 1340.0,130.7 1350.0,130.7" stroke="#7E2F8E" stroke-width="3.2" fill="none" stroke-linejoin="round" />
</g>
<rect x="986.9" y="1.9" width="360.69999999999993" height="501.0" fill="none" stroke="#000" stroke-width="4"/>
<line x1="1104.00" y1="390.80" x2="1163.50" y2="390.80" stroke="#0072BD" stroke-width="3.4" />
<text x="1174.0" y="400.2" font-size="33" fill="#000" textLength="164" lengthAdjust="spacingAndGlyphs" font-family='"Liberation Sans", sans-serif' >Ordered I.C.</text>
<line x1="1104.00" y1="432.90" x2="1163.50" y2="432.90" stroke="#EDB120" stroke-width="3.4" />
<text x="1174.0" y="441.4" font-size="33" fill="#000" textLength="128" lengthAdjust="spacingAndGlyphs" font-family='"Liberation Sans", sans-serif' >CCW I.C.</text>
<line x1="1104.00" y1="474.10" x2="1163.50" y2="474.10" stroke="#7E2F8E" stroke-width="3.4" />
<text x="1174.0" y="482.5" font-size="33" fill="#000" textLength="108" lengthAdjust="spacingAndGlyphs" font-family='"Liberation Sans", sans-serif' >CW I.C.</text>
<text x="37.0" y="694.2" font-size="50" fill="#000" font-weight="bold" textLength="31.5" lengthAdjust="spacingAndGlyphs" font-family='"Liberation Sans", sans-serif' >c</text>
<line x1="114.00" y1="717.35" x2="126.00" y2="717.35" stroke="#9a9a9a" stroke-width="1" />
<line x1="431.00" y1="717.35" x2="443.00" y2="717.35" stroke="#9a9a9a" stroke-width="1" />
<line x1="114.00" y1="809.10" x2="126.00" y2="809.10" stroke="#9a9a9a" stroke-width="1" />
<line x1="431.00" y1="809.10" x2="443.00" y2="809.10" stroke="#9a9a9a" stroke-width="1" />
<line x1="114.00" y1="900.85" x2="126.00" y2="900.85" stroke="#9a9a9a" stroke-width="1" />
<line x1="431.00" y1="900.85" x2="443.00" y2="900.85" stroke="#9a9a9a" stroke-width="1" />
<line x1="114.00" y1="992.60" x2="126.00" y2="992.60" stroke="#9a9a9a" stroke-width="1" />
<line x1="431.00" y1="992.60" x2="443.00" y2="992.60" stroke="#9a9a9a" stroke-width="1" />
<line x1="114.00" y1="1084.35" x2="126.00" y2="1084.35" stroke="#9a9a9a" stroke-width="1" />
<line x1="431.00" y1="1084.35" x2="443.00" y2="1084.35" stroke="#9a9a9a" stroke-width="1" />
<line x1="181.40" y1="665.00" x2="181.40" y2="677.00" stroke="#9a9a9a" stroke-width="1" />
<line x1="181.40" y1="1124.70" x2="181.40" y2="1136.70" stroke="#9a9a9a" stroke-width="1" />
<line x1="250.80" y1="665.00" x2="250.80" y2="677.00" stroke="#9a9a9a" stroke-width="1" />
<line x1="250.80" y1="1124.70" x2="250.80" y2="1136.70" stroke="#9a9a9a" stroke-width="1" />
<line x1="320.20" y1="665.00" x2="320.20" y2="677.00" stroke="#9a9a9a" stroke-width="1" />
<line x1="320.20" y1="1124.70" x2="320.20" y2="1136.70" stroke="#9a9a9a" stroke-width="1" />
<line x1="389.60" y1="665.00" x2="389.60" y2="677.00" stroke="#9a9a9a" stroke-width="1" />
<line x1="389.60" y1="1124.70" x2="389.60" y2="1136.70" stroke="#9a9a9a" stroke-width="1" />
<text x="98.7" y="820.6" font-size="34" fill="#000" text-anchor="end" textLength="41" lengthAdjust="spacingAndGlyphs" font-family='"Liberation Sans", sans-serif' >0.5</text>
<text x="98.7" y="1004.1" font-size="34" fill="#000" text-anchor="end" textLength="41" lengthAdjust="spacingAndGlyphs" font-family='"Liberation Sans", sans-serif' >0.4</text>
<text x="112.0" y="1172.0" font-size="34" fill="#000" text-anchor="middle" font-family='"Liberation Sans", sans-serif' >2</text>
<text x="250.8" y="1172.0" font-size="34" fill="#000" text-anchor="middle" font-family='"Liberation Sans", sans-serif' >3</text>
<text x="389.6" y="1172.0" font-size="34" fill="#000" text-anchor="middle" font-family='"Liberation Sans", sans-serif' >4</text>
<text x="178.6" y="1220" font-size="33" fill="#111" font-style="italic" font-family='"Liberation Sans", sans-serif' textLength="19" lengthAdjust="spacingAndGlyphs">J</text>
<line x1="196.90" y1="1228.00" x2="210.40" y2="1195.50" stroke="#111" stroke-width="2.3" />
<text x="215.1" y="1220" font-size="33" fill="#111" font-style="italic" font-family='"Liberation Sans", sans-serif' textLength="22" lengthAdjust="spacingAndGlyphs">T</text>
<text x="252.1" y="1220" font-size="33" fill="#111" font-family='"Liberation Sans", sans-serif' textLength="126" lengthAdjust="spacingAndGlyphs">(unitless)</text>
<text transform="translate(27.5,1046.1) rotate(-90)" x="0" y="0" font-size="33" fill="#111" font-family='"Liberation Sans", sans-serif' textLength="228.5" lengthAdjust="spacingAndGlyphs">Order parameter</text>
<text transform="translate(26.5,792.1) rotate(-90)" x="0" y="0" font-size="32" fill="#111" font-style="italic" font-family='"Liberation Sans", sans-serif' textLength="26" lengthAdjust="spacingAndGlyphs">m</text>
<path d="M1.0,764.2 L17.6,757.4 L34.2,764.2" stroke="#111" stroke-width="1.7" fill="none" />
<path d="M1.0,795.8 L17.6,802.4 L34.2,795.8" stroke="#111" stroke-width="1.7" fill="none" />
<clipPath id="clipC"><rect x="114" y="666" width="329" height="469"/></clipPath>
<g clip-path="url(#clipC)">
<line x1="147.10" y1="1003.70" x2="147.10" y2="1015.70" stroke="#CCCCCC" stroke-width="2.5" />
<line x1="140.10" y1="1003.70" x2="154.10" y2="1003.70" stroke="#CCCCCC" stroke-width="2.5" />
<line x1="140.10" y1="1015.70" x2="154.10" y2="1015.70" stroke="#CCCCCC" stroke-width="2.5" />
<line x1="160.80" y1="978.10" x2="160.80" y2="990.10" stroke="#CCCCCC" stroke-width="2.5" />
<line x1="153.80" y1="978.10" x2="167.80" y2="978.10" stroke="#CCCCCC" stroke-width="2.5" />
<line x1="153.80" y1="990.10" x2="167.80" y2="990.10" stroke="#CCCCCC" stroke-width="2.5" />
<line x1="175.30" y1="947.30" x2="175.30" y2="959.30" stroke="#CCCCCC" stroke-width="2.5" />
<line x1="168.30" y1="947.30" x2="182.30" y2="947.30" stroke="#CCCCCC" stroke-width="2.5" />
<line x1="168.30" y1="959.30" x2="182.30" y2="959.30" stroke="#CCCCCC" stroke-width="2.5" />
<line x1="192.40" y1="923.40" x2="192.40" y2="935.40" stroke="#CCCCCC" stroke-width="2.5" />
<line x1="185.40" y1="923.40" x2="199.40" y2="923.40" stroke="#CCCCCC" stroke-width="2.5" />
<line x1="185.40" y1="935.40" x2="199.40" y2="935.40" stroke="#CCCCCC" stroke-width="2.5" />
<line x1="209.50" y1="902.90" x2="209.50" y2="914.90" stroke="#CCCCCC" stroke-width="2.5" />
<line x1="202.50" y1="902.90" x2="216.50" y2="902.90" stroke="#CCCCCC" stroke-width="2.5" />
<line x1="202.50" y1="914.90" x2="216.50" y2="914.90" stroke="#CCCCCC" stroke-width="2.5" />
<line x1="230.90" y1="878.10" x2="230.90" y2="890.10" stroke="#CCCCCC" stroke-width="2.5" />
<line x1="223.90" y1="878.10" x2="237.90" y2="878.10" stroke="#CCCCCC" stroke-width="2.5" />
<line x1="223.90" y1="890.10" x2="237.90" y2="890.10" stroke="#CCCCCC" stroke-width="2.5" />
<line x1="250.50" y1="854.20" x2="250.50" y2="866.20" stroke="#CCCCCC" stroke-width="2.5" />
<line x1="243.50" y1="854.20" x2="257.50" y2="854.20" stroke="#CCCCCC" stroke-width="2.5" />
<line x1="243.50" y1="866.20" x2="257.50" y2="866.20" stroke="#CCCCCC" stroke-width="2.5" />
<line x1="274.40" y1="837.10" x2="274.40" y2="849.10" stroke="#CCCCCC" stroke-width="2.5" />
<line x1="267.40" y1="837.10" x2="281.40" y2="837.10" stroke="#CCCCCC" stroke-width="2.5" />
<line x1="267.40" y1="849.10" x2="281.40" y2="849.10" stroke="#CCCCCC" stroke-width="2.5" />
<line x1="300.00" y1="821.60" x2="300.00" y2="833.60" stroke="#CCCCCC" stroke-width="2.5" />
<line x1="293.00" y1="821.60" x2="307.00" y2="821.60" stroke="#CCCCCC" stroke-width="2.5" />
<line x1="293.00" y1="833.60" x2="307.00" y2="833.60" stroke="#CCCCCC" stroke-width="2.5" />
<line x1="317.00" y1="803.40" x2="317.00" y2="815.40" stroke="#CCCCCC" stroke-width="2.5" />
<line x1="310.00" y1="803.40" x2="324.00" y2="803.40" stroke="#CCCCCC" stroke-width="2.5" />
<line x1="310.00" y1="815.40" x2="324.00" y2="815.40" stroke="#CCCCCC" stroke-width="2.5" />
<line x1="348.30" y1="782.50" x2="348.30" y2="794.50" stroke="#CCCCCC" stroke-width="2.5" />
<line x1="341.30" y1="782.50" x2="355.30" y2="782.50" stroke="#CCCCCC" stroke-width="2.5" />
<line x1="341.30" y1="794.50" x2="355.30" y2="794.50" stroke="#CCCCCC" stroke-width="2.5" />
<line x1="379.50" y1="769.50" x2="379.50" y2="781.50" stroke="#CCCCCC" stroke-width="2.5" />
<line x1="372.50" y1="769.50" x2="386.50" y2="769.50" stroke="#CCCCCC" stroke-width="2.5" />
<line x1="372.50" y1="781.50" x2="386.50" y2="781.50" stroke="#CCCCCC" stroke-width="2.5" />
<line x1="404.30" y1="761.70" x2="404.30" y2="773.70" stroke="#CCCCCC" stroke-width="2.5" />
<line x1="397.30" y1="761.70" x2="411.30" y2="761.70" stroke="#CCCCCC" stroke-width="2.5" />
<line x1="397.30" y1="773.70" x2="411.30" y2="773.70" stroke="#CCCCCC" stroke-width="2.5" />
<path d="M147.1,1009.7 L160.8,984.1 L175.3,953.3 L192.4,929.4 L209.5,908.9 L230.9,884.1 L250.5,860.2 L274.4,843.1 L300.0,827.6 L317.0,809.4 L348.3,788.5 L379.5,775.5 L404.3,767.7" stroke="#CCCCCC" stroke-width="6" fill="none" stroke-dasharray="10,10"/>
<line x1="146.50" y1="942.80" x2="146.50" y2="972.80" stroke="#DE5034" stroke-width="3.3" />
<line x1="139.50" y1="942.80" x2="153.50" y2="942.80" stroke="#DE5034" stroke-width="3.3" />
<line x1="139.50" y1="972.80" x2="153.50" y2="972.80" stroke="#DE5034" stroke-width="3.3" />
<rect x="140.3" y="951.6" width="12.4" height="12.4" fill="none" stroke="#DE5034" stroke-width="3.3"/>
<line x1="159.50" y1="924.60" x2="159.50" y2="954.60" stroke="#DE5034" stroke-width="3.3" />
<line x1="152.50" y1="924.60" x2="166.50" y2="924.60" stroke="#DE5034" stroke-width="3.3" />
<line x1="152.50" y1="954.60" x2="166.50" y2="954.60" stroke="#DE5034" stroke-width="3.3" />
<rect x="153.3" y="933.4" width="12.4" height="12.4" fill="none" stroke="#DE5034" stroke-width="3.3"/>
<line x1="175.10" y1="907.70" x2="175.10" y2="937.70" stroke="#DE5034" stroke-width="3.3" />
<line x1="168.10" y1="907.70" x2="182.10" y2="907.70" stroke="#DE5034" stroke-width="3.3" />
<line x1="168.10" y1="937.70" x2="182.10" y2="937.70" stroke="#DE5034" stroke-width="3.3" />
<rect x="168.9" y="916.5" width="12.4" height="12.4" fill="none" stroke="#DE5034" stroke-width="3.3"/>
<line x1="192.00" y1="877.70" x2="192.00" y2="907.70" stroke="#DE5034" stroke-width="3.3" />
<line x1="185.00" y1="877.70" x2="199.00" y2="877.70" stroke="#DE5034" stroke-width="3.3" />
<line x1="185.00" y1="907.70" x2="199.00" y2="907.70" stroke="#DE5034" stroke-width="3.3" />
<rect x="185.8" y="886.5" width="12.4" height="12.4" fill="none" stroke="#DE5034" stroke-width="3.3"/>
<line x1="209.00" y1="854.30" x2="209.00" y2="884.30" stroke="#DE5034" stroke-width="3.3" />
<line x1="202.00" y1="854.30" x2="216.00" y2="854.30" stroke="#DE5034" stroke-width="3.3" />
<line x1="202.00" y1="884.30" x2="216.00" y2="884.30" stroke="#DE5034" stroke-width="3.3" />
<rect x="202.8" y="863.1" width="12.4" height="12.4" fill="none" stroke="#DE5034" stroke-width="3.3"/>
<line x1="229.80" y1="817.80" x2="229.80" y2="847.80" stroke="#DE5034" stroke-width="3.3" />
<line x1="222.80" y1="817.80" x2="236.80" y2="817.80" stroke="#DE5034" stroke-width="3.3" />
<line x1="222.80" y1="847.80" x2="236.80" y2="847.80" stroke="#DE5034" stroke-width="3.3" />
<rect x="223.6" y="826.6" width="12.4" height="12.4" fill="none" stroke="#DE5034" stroke-width="3.3"/>
<line x1="250.60" y1="789.20" x2="250.60" y2="819.20" stroke="#DE5034" stroke-width="3.3" />
<line x1="243.60" y1="789.20" x2="257.60" y2="789.20" stroke="#DE5034" stroke-width="3.3" />
<line x1="243.60" y1="819.20" x2="257.60" y2="819.20" stroke="#DE5034" stroke-width="3.3" />
<rect x="244.4" y="798.0" width="12.4" height="12.4" fill="none" stroke="#DE5034" stroke-width="3.3"/>
<line x1="271.50" y1="771.00" x2="271.50" y2="801.00" stroke="#DE5034" stroke-width="3.3" />
<line x1="264.50" y1="771.00" x2="278.50" y2="771.00" stroke="#DE5034" stroke-width="3.3" />
<line x1="264.50" y1="801.00" x2="278.50" y2="801.00" stroke="#DE5034" stroke-width="3.3" />
<rect x="265.3" y="779.8" width="12.4" height="12.4" fill="none" stroke="#DE5034" stroke-width="3.3"/>
<line x1="301.40" y1="747.50" x2="301.40" y2="777.50" stroke="#DE5034" stroke-width="3.3" />
<line x1="294.40" y1="747.50" x2="308.40" y2="747.50" stroke="#DE5034" stroke-width="3.3" />
<line x1="294.40" y1="777.50" x2="308.40" y2="777.50" stroke="#DE5034" stroke-width="3.3" />
<rect x="295.2" y="756.3" width="12.4" height="12.4" fill="none" stroke="#DE5034" stroke-width="3.3"/>
<line x1="317.00" y1="744.90" x2="317.00" y2="774.90" stroke="#DE5034" stroke-width="3.3" />
<line x1="310.00" y1="744.90" x2="324.00" y2="744.90" stroke="#DE5034" stroke-width="3.3" />
<line x1="310.00" y1="774.90" x2="324.00" y2="774.90" stroke="#DE5034" stroke-width="3.3" />
<rect x="310.8" y="753.7" width="12.4" height="12.4" fill="none" stroke="#DE5034" stroke-width="3.3"/>
<line x1="348.30" y1="729.30" x2="348.30" y2="759.30" stroke="#DE5034" stroke-width="3.3" />
<line x1="341.30" y1="729.30" x2="355.30" y2="729.30" stroke="#DE5034" stroke-width="3.3" />
<line x1="341.30" y1="759.30" x2="355.30" y2="759.30" stroke="#DE5034" stroke-width="3.3" />
<rect x="342.1" y="738.1" width="12.4" height="12.4" fill="none" stroke="#DE5034" stroke-width="3.3"/>
<line x1="379.50" y1="735.80" x2="379.50" y2="765.80" stroke="#DE5034" stroke-width="3.3" />
<line x1="372.50" y1="735.80" x2="386.50" y2="735.80" stroke="#DE5034" stroke-width="3.3" />
<line x1="372.50" y1="765.80" x2="386.50" y2="765.80" stroke="#DE5034" stroke-width="3.3" />
<rect x="373.3" y="744.6" width="12.4" height="12.4" fill="none" stroke="#DE5034" stroke-width="3.3"/>
<line x1="404.30" y1="733.20" x2="404.30" y2="763.20" stroke="#DE5034" stroke-width="3.3" />
<line x1="397.30" y1="733.20" x2="411.30" y2="733.20" stroke="#DE5034" stroke-width="3.3" />
<line x1="397.30" y1="763.20" x2="411.30" y2="763.20" stroke="#DE5034" stroke-width="3.3" />
<rect x="398.1" y="742.0" width="12.4" height="12.4" fill="none" stroke="#DE5034" stroke-width="3.3"/>
<line x1="146.50" y1="926.90" x2="146.50" y2="954.90" stroke="#F9A11B" stroke-width="3.3" />
<line x1="139.50" y1="926.90" x2="153.50" y2="926.90" stroke="#F9A11B" stroke-width="3.3" />
<line x1="139.50" y1="954.90" x2="153.50" y2="954.90" stroke="#F9A11B" stroke-width="3.3" />
<circle cx="146.5" cy="940.9" r="6" fill="none" stroke="#F9A11B" stroke-width="3.5"/>
<line x1="159.50" y1="902.10" x2="159.50" y2="930.10" stroke="#F9A11B" stroke-width="3.3" />
<line x1="152.50" y1="902.10" x2="166.50" y2="902.10" stroke="#F9A11B" stroke-width="3.3" />
<line x1="152.50" y1="930.10" x2="166.50" y2="930.10" stroke="#F9A11B" stroke-width="3.3" />
<circle cx="159.5" cy="916.1" r="6" fill="none" stroke="#F9A11B" stroke-width="3.5"/>
<line x1="175.10" y1="865.70" x2="175.10" y2="893.70" stroke="#F9A11B" stroke-width="3.3" />
<line x1="168.10" y1="865.70" x2="182.10" y2="865.70" stroke="#F9A11B" stroke-width="3.3" />
<line x1="168.10" y1="893.70" x2="182.10" y2="893.70" stroke="#F9A11B" stroke-width="3.3" />
<circle cx="175.1" cy="879.7" r="6" fill="none" stroke="#F9A11B" stroke-width="3.5"/>
<line x1="192.00" y1="847.50" x2="192.00" y2="875.50" stroke="#F9A11B" stroke-width="3.3" />
<line x1="185.00" y1="847.50" x2="199.00" y2="847.50" stroke="#F9A11B" stroke-width="3.3" />
<line x1="185.00" y1="875.50" x2="199.00" y2="875.50" stroke="#F9A11B" stroke-width="3.3" />
<circle cx="192.0" cy="861.5" r="6" fill="none" stroke="#F9A11B" stroke-width="3.5"/>
<line x1="209.00" y1="821.40" x2="209.00" y2="849.40" stroke="#F9A11B" stroke-width="3.3" />
<line x1="202.00" y1="821.40" x2="216.00" y2="821.40" stroke="#F9A11B" stroke-width="3.3" />
<line x1="202.00" y1="849.40" x2="216.00" y2="849.40" stroke="#F9A11B" stroke-width="3.3" />
<circle cx="209.0" cy="835.4" r="6" fill="none" stroke="#F9A11B" stroke-width="3.5"/>
<line x1="229.80" y1="804.50" x2="229.80" y2="832.50" stroke="#F9A11B" stroke-width="3.3" />
<line x1="222.80" y1="804.50" x2="236.80" y2="804.50" stroke="#F9A11B" stroke-width="3.3" />
<line x1="222.80" y1="832.50" x2="236.80" y2="832.50" stroke="#F9A11B" stroke-width="3.3" />
<circle cx="229.8" cy="818.5" r="6" fill="none" stroke="#F9A11B" stroke-width="3.5"/>
<line x1="250.60" y1="794.00" x2="250.60" y2="822.00" stroke="#F9A11B" stroke-width="3.3" />
<line x1="243.60" y1="794.00" x2="257.60" y2="794.00" stroke="#F9A11B" stroke-width="3.3" />
<line x1="243.60" y1="822.00" x2="257.60" y2="822.00" stroke="#F9A11B" stroke-width="3.3" />
<circle cx="250.6" cy="808.0" r="6" fill="none" stroke="#F9A11B" stroke-width="3.5"/>
<line x1="271.50" y1="753.70" x2="271.50" y2="781.70" stroke="#F9A11B" stroke-width="3.3" />
<line x1="264.50" y1="753.70" x2="278.50" y2="753.70" stroke="#F9A11B" stroke-width="3.3" />
<line x1="264.50" y1="781.70" x2="278.50" y2="781.70" stroke="#F9A11B" stroke-width="3.3" />
<circle cx="271.5" cy="767.7" r="6" fill="none" stroke="#F9A11B" stroke-width="3.5"/>
<line x1="301.40" y1="742.00" x2="301.40" y2="770.00" stroke="#F9A11B" stroke-width="3.3" />
<line x1="294.40" y1="742.00" x2="308.40" y2="742.00" stroke="#F9A11B" stroke-width="3.3" />
<line x1="294.40" y1="770.00" x2="308.40" y2="770.00" stroke="#F9A11B" stroke-width="3.3" />
<circle cx="301.4" cy="756.0" r="6" fill="none" stroke="#F9A11B" stroke-width="3.5"/>
<line x1="317.00" y1="747.00" x2="317.00" y2="775.00" stroke="#F9A11B" stroke-width="3.3" />
<line x1="310.00" y1="747.00" x2="324.00" y2="747.00" stroke="#F9A11B" stroke-width="3.3" />
<line x1="310.00" y1="775.00" x2="324.00" y2="775.00" stroke="#F9A11B" stroke-width="3.3" />
<circle cx="317.0" cy="761.0" r="6" fill="none" stroke="#F9A11B" stroke-width="3.5"/>
<line x1="348.30" y1="725.00" x2="348.30" y2="753.00" stroke="#F9A11B" stroke-width="3.3" />
<line x1="341.30" y1="725.00" x2="355.30" y2="725.00" stroke="#F9A11B" stroke-width="3.3" />
<line x1="341.30" y1="753.00" x2="355.30" y2="753.00" stroke="#F9A11B" stroke-width="3.3" />
<circle cx="348.3" cy="739.0" r="6" fill="none" stroke="#F9A11B" stroke-width="3.5"/>
<line x1="379.50" y1="719.90" x2="379.50" y2="747.90" stroke="#F9A11B" stroke-width="3.3" />
<line x1="372.50" y1="719.90" x2="386.50" y2="719.90" stroke="#F9A11B" stroke-width="3.3" />
<line x1="372.50" y1="747.90" x2="386.50" y2="747.90" stroke="#F9A11B" stroke-width="3.3" />
<circle cx="379.5" cy="733.9" r="6" fill="none" stroke="#F9A11B" stroke-width="3.5"/>
<line x1="404.30" y1="736.80" x2="404.30" y2="764.80" stroke="#F9A11B" stroke-width="3.3" />
<line x1="397.30" y1="736.80" x2="411.30" y2="736.80" stroke="#F9A11B" stroke-width="3.3" />
<line x1="397.30" y1="764.80" x2="411.30" y2="764.80" stroke="#F9A11B" stroke-width="3.3" />
<circle cx="404.3" cy="750.8" r="6" fill="none" stroke="#F9A11B" stroke-width="3.5"/>
<line x1="146.50" y1="920.70" x2="146.50" y2="950.70" stroke="#8C2170" stroke-width="3.3" />
<line x1="139.50" y1="920.70" x2="153.50" y2="920.70" stroke="#8C2170" stroke-width="3.3" />
<line x1="139.50" y1="950.70" x2="153.50" y2="950.70" stroke="#8C2170" stroke-width="3.3" />
<path d="M146.5,929.9 L151.8,939.8 L141.2,939.8 Z" fill="none" stroke="#8C2170" stroke-width="3.3"/>
<line x1="159.50" y1="910.30" x2="159.50" y2="940.30" stroke="#8C2170" stroke-width="3.3" />
<line x1="152.50" y1="910.30" x2="166.50" y2="910.30" stroke="#8C2170" stroke-width="3.3" />
<line x1="152.50" y1="940.30" x2="166.50" y2="940.30" stroke="#8C2170" stroke-width="3.3" />
<path d="M159.5,919.5 L164.8,929.4 L154.2,929.4 Z" fill="none" stroke="#8C2170" stroke-width="3.3"/>
<line x1="175.10" y1="879.00" x2="175.10" y2="909.00" stroke="#8C2170" stroke-width="3.3" />
<line x1="168.10" y1="879.00" x2="182.10" y2="879.00" stroke="#8C2170" stroke-width="3.3" />
<line x1="168.10" y1="909.00" x2="182.10" y2="909.00" stroke="#8C2170" stroke-width="3.3" />
<path d="M175.1,888.2 L180.4,898.1 L169.8,898.1 Z" fill="none" stroke="#8C2170" stroke-width="3.3"/>
<line x1="192.00" y1="843.90" x2="192.00" y2="873.90" stroke="#8C2170" stroke-width="3.3" />
<line x1="185.00" y1="843.90" x2="199.00" y2="843.90" stroke="#8C2170" stroke-width="3.3" />
<line x1="185.00" y1="873.90" x2="199.00" y2="873.90" stroke="#8C2170" stroke-width="3.3" />
<path d="M192.0,853.1 L197.3,863.0 L186.7,863.0 Z" fill="none" stroke="#8C2170" stroke-width="3.3"/>
<line x1="209.00" y1="851.70" x2="209.00" y2="881.70" stroke="#8C2170" stroke-width="3.3" />
<line x1="202.00" y1="851.70" x2="216.00" y2="851.70" stroke="#8C2170" stroke-width="3.3" />
<line x1="202.00" y1="881.70" x2="216.00" y2="881.70" stroke="#8C2170" stroke-width="3.3" />
<path d="M209.0,860.9 L214.3,870.8 L203.7,870.8 Z" fill="none" stroke="#8C2170" stroke-width="3.3"/>
<line x1="229.80" y1="825.60" x2="229.80" y2="855.60" stroke="#8C2170" stroke-width="3.3" />
<line x1="222.80" y1="825.60" x2="236.80" y2="825.60" stroke="#8C2170" stroke-width="3.3" />
<line x1="222.80" y1="855.60" x2="236.80" y2="855.60" stroke="#8C2170" stroke-width="3.3" />
<path d="M229.8,834.8 L235.1,844.7 L224.5,844.7 Z" fill="none" stroke="#8C2170" stroke-width="3.3"/>
<line x1="250.60" y1="773.50" x2="250.60" y2="803.50" stroke="#8C2170" stroke-width="3.3" />
<line x1="243.60" y1="773.50" x2="257.60" y2="773.50" stroke="#8C2170" stroke-width="3.3" />
<line x1="243.60" y1="803.50" x2="257.60" y2="803.50" stroke="#8C2170" stroke-width="3.3" />
<path d="M250.6,782.7 L255.9,792.6 L245.3,792.6 Z" fill="none" stroke="#8C2170" stroke-width="3.3"/>
<line x1="271.50" y1="777.40" x2="271.50" y2="807.40" stroke="#8C2170" stroke-width="3.3" />
<line x1="264.50" y1="777.40" x2="278.50" y2="777.40" stroke="#8C2170" stroke-width="3.3" />
<line x1="264.50" y1="807.40" x2="278.50" y2="807.40" stroke="#8C2170" stroke-width="3.3" />
<path d="M271.5,786.6 L276.8,796.5 L266.2,796.5 Z" fill="none" stroke="#8C2170" stroke-width="3.3"/>
<line x1="301.40" y1="760.50" x2="301.40" y2="790.50" stroke="#8C2170" stroke-width="3.3" />
<line x1="294.40" y1="760.50" x2="308.40" y2="760.50" stroke="#8C2170" stroke-width="3.3" />
<line x1="294.40" y1="790.50" x2="308.40" y2="790.50" stroke="#8C2170" stroke-width="3.3" />
<path d="M301.4,769.7 L306.7,779.6 L296.1,779.6 Z" fill="none" stroke="#8C2170" stroke-width="3.3"/>
<line x1="317.00" y1="763.10" x2="317.00" y2="793.10" stroke="#8C2170" stroke-width="3.3" />
<line x1="310.00" y1="763.10" x2="324.00" y2="763.10" stroke="#8C2170" stroke-width="3.3" />
<line x1="310.00" y1="793.10" x2="324.00" y2="793.10" stroke="#8C2170" stroke-width="3.3" />
<path d="M317.0,772.3 L322.3,782.2 L311.7,782.2 Z" fill="none" stroke="#8C2170" stroke-width="3.3"/>
<line x1="348.30" y1="754.00" x2="348.30" y2="784.00" stroke="#8C2170" stroke-width="3.3" />
<line x1="341.30" y1="754.00" x2="355.30" y2="754.00" stroke="#8C2170" stroke-width="3.3" />
<line x1="341.30" y1="784.00" x2="355.30" y2="784.00" stroke="#8C2170" stroke-width="3.3" />
<path d="M348.3,763.2 L353.6,773.1 L343.0,773.1 Z" fill="none" stroke="#8C2170" stroke-width="3.3"/>
<line x1="379.50" y1="773.50" x2="379.50" y2="803.50" stroke="#8C2170" stroke-width="3.3" />
<line x1="372.50" y1="773.50" x2="386.50" y2="773.50" stroke="#8C2170" stroke-width="3.3" />
<line x1="372.50" y1="803.50" x2="386.50" y2="803.50" stroke="#8C2170" stroke-width="3.3" />
<path d="M379.5,782.7 L384.8,792.6 L374.2,792.6 Z" fill="none" stroke="#8C2170" stroke-width="3.3"/>
<line x1="404.30" y1="741.00" x2="404.30" y2="771.00" stroke="#8C2170" stroke-width="3.3" />
<line x1="397.30" y1="741.00" x2="411.30" y2="741.00" stroke="#8C2170" stroke-width="3.3" />
<line x1="397.30" y1="771.00" x2="411.30" y2="771.00" stroke="#8C2170" stroke-width="3.3" />
<path d="M404.3,750.2 L409.6,760.1 L399.0,760.1 Z" fill="none" stroke="#8C2170" stroke-width="3.3"/>
<line x1="147.10" y1="962.40" x2="147.10" y2="978.40" stroke="#4D4D4D" stroke-width="3" />
<line x1="140.10" y1="962.40" x2="154.10" y2="962.40" stroke="#4D4D4D" stroke-width="3" />
<line x1="140.10" y1="978.40" x2="154.10" y2="978.40" stroke="#4D4D4D" stroke-width="3" />
<line x1="159.90" y1="936.00" x2="159.90" y2="952.00" stroke="#4D4D4D" stroke-width="3" />
<line x1="152.90" y1="936.00" x2="166.90" y2="936.00" stroke="#4D4D4D" stroke-width="3" />
<line x1="152.90" y1="952.00" x2="166.90" y2="952.00" stroke="#4D4D4D" stroke-width="3" />
<line x1="172.70" y1="907.70" x2="172.70" y2="923.70" stroke="#4D4D4D" stroke-width="3" />
<line x1="165.70" y1="907.70" x2="179.70" y2="907.70" stroke="#4D4D4D" stroke-width="3" />
<line x1="165.70" y1="923.70" x2="179.70" y2="923.70" stroke="#4D4D4D" stroke-width="3" />
<line x1="189.80" y1="885.50" x2="189.80" y2="901.50" stroke="#4D4D4D" stroke-width="3" />
<line x1="182.80" y1="885.50" x2="196.80" y2="885.50" stroke="#4D4D4D" stroke-width="3" />
<line x1="182.80" y1="901.50" x2="196.80" y2="901.50" stroke="#4D4D4D" stroke-width="3" />
<line x1="210.30" y1="861.60" x2="210.30" y2="877.60" stroke="#4D4D4D" stroke-width="3" />
<line x1="203.30" y1="861.60" x2="217.30" y2="861.60" stroke="#4D4D4D" stroke-width="3" />
<line x1="203.30" y1="877.60" x2="217.30" y2="877.60" stroke="#4D4D4D" stroke-width="3" />
<line x1="229.10" y1="835.90" x2="229.10" y2="851.90" stroke="#4D4D4D" stroke-width="3" />
<line x1="222.10" y1="835.90" x2="236.10" y2="835.90" stroke="#4D4D4D" stroke-width="3" />
<line x1="222.10" y1="851.90" x2="236.10" y2="851.90" stroke="#4D4D4D" stroke-width="3" />
<line x1="249.70" y1="812.00" x2="249.70" y2="828.00" stroke="#4D4D4D" stroke-width="3" />
<line x1="242.70" y1="812.00" x2="256.70" y2="812.00" stroke="#4D4D4D" stroke-width="3" />
<line x1="242.70" y1="828.00" x2="256.70" y2="828.00" stroke="#4D4D4D" stroke-width="3" />
<line x1="271.50" y1="794.90" x2="271.50" y2="810.90" stroke="#4D4D4D" stroke-width="3" />
<line x1="264.50" y1="794.90" x2="278.50" y2="794.90" stroke="#4D4D4D" stroke-width="3" />
<line x1="264.50" y1="810.90" x2="278.50" y2="810.90" stroke="#4D4D4D" stroke-width="3" />
<line x1="301.40" y1="778.00" x2="301.40" y2="794.00" stroke="#4D4D4D" stroke-width="3" />
<line x1="294.40" y1="778.00" x2="308.40" y2="778.00" stroke="#4D4D4D" stroke-width="3" />
<line x1="294.40" y1="794.00" x2="308.40" y2="794.00" stroke="#4D4D4D" stroke-width="3" />
<line x1="317.00" y1="762.30" x2="317.00" y2="778.30" stroke="#4D4D4D" stroke-width="3" />
<line x1="310.00" y1="762.30" x2="324.00" y2="762.30" stroke="#4D4D4D" stroke-width="3" />
<line x1="310.00" y1="778.30" x2="324.00" y2="778.30" stroke="#4D4D4D" stroke-width="3" />
<line x1="348.30" y1="740.20" x2="348.30" y2="756.20" stroke="#4D4D4D" stroke-width="3" />
<line x1="341.30" y1="740.20" x2="355.30" y2="740.20" stroke="#4D4D4D" stroke-width="3" />
<line x1="341.30" y1="756.20" x2="355.30" y2="756.20" stroke="#4D4D4D" stroke-width="3" />
<line x1="379.50" y1="727.20" x2="379.50" y2="743.20" stroke="#4D4D4D" stroke-width="3" />
<line x1="372.50" y1="727.20" x2="386.50" y2="727.20" stroke="#4D4D4D" stroke-width="3" />
<line x1="372.50" y1="743.20" x2="386.50" y2="743.20" stroke="#4D4D4D" stroke-width="3" />
<line x1="404.30" y1="719.30" x2="404.30" y2="735.30" stroke="#4D4D4D" stroke-width="3" />
<line x1="397.30" y1="719.30" x2="411.30" y2="719.30" stroke="#4D4D4D" stroke-width="3" />
<line x1="397.30" y1="735.30" x2="411.30" y2="735.30" stroke="#4D4D4D" stroke-width="3" />
<path d="M147.1,970.4 C149.2,966.0 155.6,953.1 159.9,944.0 C164.2,934.9 167.7,924.1 172.7,915.7 C177.7,907.3 183.5,901.2 189.8,893.5 C196.1,885.8 203.8,877.9 210.3,869.6 C216.9,861.3 222.5,852.2 229.1,843.9 C235.7,835.6 242.6,826.8 249.7,820.0 C256.8,813.2 262.9,808.6 271.5,802.9 C280.1,797.2 293.8,791.4 301.4,786.0 C309.0,780.6 309.2,776.6 317.0,770.3 C324.8,764.0 337.9,754.1 348.3,748.2 C358.7,742.4 370.2,738.7 379.5,735.2 C388.8,731.7 400.2,728.6 404.3,727.3" stroke="#4D4D4D" stroke-width="7" fill="none" stroke-linejoin="round" />
</g>
<rect x="112" y="663" width="333" height="475.70000000000005" fill="none" stroke="#000" stroke-width="4"/>
<line x1="175.80" y1="972.60" x2="233.30" y2="972.60" stroke="#F9A11B" stroke-width="2.6" />
<circle cx="204.3" cy="972.6" r="6.5" fill="none" stroke="#F9A11B" stroke-width="2.6"/>
<line x1="175.80" y1="1008.00" x2="233.30" y2="1008.00" stroke="#DE5034" stroke-width="2.6" />
<rect x="197.8" y="1001.5" width="13" height="13" fill="none" stroke="#DE5034" stroke-width="2.6"/>
<line x1="175.80" y1="1043.20" x2="233.30" y2="1043.20" stroke="#8C2170" stroke-width="2.6" />
<path d="M204.6,1035.7 L211.3,1047.7 L198,1047.7 Z" fill="none" stroke="#8C2170" stroke-width="2.6"/>
<line x1="175.80" y1="1079.20" x2="233.30" y2="1079.20" stroke="#CCCCCC" stroke-width="6.2" stroke-dasharray="10,10"/>
<line x1="175.80" y1="1111.50" x2="233.30" y2="1111.50" stroke="#4D4D4D" stroke-width="6.2" />
<text x="243.3" y="981.2" font-size="29" fill="#000" textLength="39" lengthAdjust="spacingAndGlyphs" font-family='"Liberation Sans", sans-serif' >QA</text>
<text x="293.9" y="981.2" font-size="25.9" fill="#000" font-style="italic" font-family='"Liberation Sans", sans-serif' textLength="8.2" lengthAdjust="spacingAndGlyphs">t</text>
<text x="302.5" y="986.5" font-size="18.1" fill="#000" font-style="italic" font-family='"Liberation Sans", sans-serif' textLength="10.2" lengthAdjust="spacingAndGlyphs">p</text>
<line x1="323.78" y1="971.15" x2="342.07" y2="971.15" stroke="#000" stroke-width="1.6485" />
<line x1="323.78" y1="976.88" x2="342.07" y2="976.88" stroke="#000" stroke-width="1.6485" />
<text x="352.2" y="981.2" font-size="26.7" fill="#000" font-family='"Liberation Sans", sans-serif' textLength="11.0" lengthAdjust="spacingAndGlyphs">1</text>
<text x="369.9" y="981.2" font-size="25.9" fill="#000" font-family='"Liberation Serif", serif' textLength="12.2" lengthAdjust="spacingAndGlyphs">μ</text>
<text x="382.8" y="981.2" font-size="25.9" fill="#000" font-family='"Liberation Sans", sans-serif' textLength="12.2" lengthAdjust="spacingAndGlyphs">s</text>
<text x="243.3" y="1016.0" font-size="29" fill="#000" textLength="39" lengthAdjust="spacingAndGlyphs" font-family='"Liberation Sans", sans-serif' >QA</text>
<text x="293.9" y="1016.0" font-size="25.9" fill="#000" font-style="italic" font-family='"Liberation Sans", sans-serif' textLength="8.2" lengthAdjust="spacingAndGlyphs">t</text>
<text x="302.5" y="1021.3" font-size="18.1" fill="#000" font-style="italic" font-family='"Liberation Sans", sans-serif' textLength="10.2" lengthAdjust="spacingAndGlyphs">p</text>
<line x1="323.78" y1="1005.95" x2="342.07" y2="1005.95" stroke="#000" stroke-width="1.6485" />
<line x1="323.78" y1="1011.68" x2="342.07" y2="1011.68" stroke="#000" stroke-width="1.6485" />
<text x="352.2" y="1016.0" font-size="26.7" fill="#000" font-family='"Liberation Sans", sans-serif' textLength="11.0" lengthAdjust="spacingAndGlyphs">2</text>
<text x="369.9" y="1016.0" font-size="25.9" fill="#000" font-family='"Liberation Serif", serif' textLength="12.2" lengthAdjust="spacingAndGlyphs">μ</text>
<text x="382.8" y="1016.0" font-size="25.9" fill="#000" font-family='"Liberation Sans", sans-serif' textLength="12.2" lengthAdjust="spacingAndGlyphs">s</text>
<text x="243.3" y="1051.4" font-size="29" fill="#000" textLength="39" lengthAdjust="spacingAndGlyphs" font-family='"Liberation Sans", sans-serif' >QA</text>
<text x="293.9" y="1051.4" font-size="25.9" fill="#000" font-style="italic" font-family='"Liberation Sans", sans-serif' textLength="8.2" lengthAdjust="spacingAndGlyphs">t</text>
<text x="302.5" y="1056.7" font-size="18.1" fill="#000" font-style="italic" font-family='"Liberation Sans", sans-serif' textLength="10.2" lengthAdjust="spacingAndGlyphs">p</text>
<line x1="323.78" y1="1041.35" x2="342.07" y2="1041.35" stroke="#000" stroke-width="1.6485" />
<line x1="323.78" y1="1047.08" x2="342.07" y2="1047.08" stroke="#000" stroke-width="1.6485" />
<text x="352.2" y="1051.4" font-size="26.7" fill="#000" font-family='"Liberation Sans", sans-serif' textLength="11.0" lengthAdjust="spacingAndGlyphs">4</text>
<text x="369.9" y="1051.4" font-size="25.9" fill="#000" font-family='"Liberation Serif", serif' textLength="12.2" lengthAdjust="spacingAndGlyphs">μ</text>
<text x="382.8" y="1051.4" font-size="25.9" fill="#000" font-family='"Liberation Sans", sans-serif' textLength="12.2" lengthAdjust="spacingAndGlyphs">s</text>
<text x="243.3" y="1086.8" font-size="29" fill="#000" textLength="119" lengthAdjust="spacingAndGlyphs" font-family='"Liberation Sans", sans-serif' >PIMC raw</text>
<text x="243.3" y="1122.3" font-size="29" fill="#000" textLength="187" lengthAdjust="spacingAndGlyphs" font-family='"Liberation Sans", sans-serif' >PIMC quenched</text>
<text x="479.0" y="694.4" font-size="53" fill="#000" font-weight="bold" font-family='"Liberation Sans", sans-serif' >d</text>
<text x="526.3" y="1172.0" font-size="34" fill="#000" text-anchor="middle" font-family='"Liberation Sans", sans-serif' >0</text>
<text x="907.4" y="1172.0" font-size="34" fill="#000" text-anchor="middle" font-family='"Liberation Sans", sans-serif' >1</text>
<text x="584.2" y="1220.5" font-size="33" fill="#111" font-family='"Liberation Sans", sans-serif' textLength="267" lengthAdjust="spacingAndGlyphs">Order parameter <tspan font-style="italic">m</tspan></text>
<text transform="translate(506.5,1014.4) rotate(-90)" x="0" y="0" font-size="33" fill="#111" font-family='"Liberation Sans", sans-serif' textLength="233" lengthAdjust="spacingAndGlyphs">Frequency (a.u.)</text>
<clipPath id="clipD"><rect x="529" y="665" width="376" height="472"/></clipPath>
<g clip-path="url(#clipD)">
<path d="M527.0,1138 L527.0,1136.8 L534.6,1136.8 L534.6,1133.6 L542.2,1133.6 L542.2,1130.9 L549.8,1130.9 L549.8,1127.1 L557.4,1127.1 L557.4,1123.9 L565.0,1123.9 L565.0,1120.8 L572.6,1120.8 L572.6,1117.8 L580.2,1117.8 L580.2,1114.1 L587.8,1114.1 L587.8,1110.6 L595.4,1110.6 L595.4,1109.7 L603.0,1109.7 L603.0,1107.7 L610.6,1107.7 L610.6,1103.6 L618.2,1103.6 L618.2,1098.4 L625.8,1098.4 L625.8,1093.9 L633.4,1093.9 L633.4,1088.5 L641.0,1088.5 L641.0,1080.5 L648.6,1080.5 L648.6,1069.7 L656.2,1069.7 L656.2,1053.4 L663.8,1053.4 L663.8,1042.8 L671.4,1042.8 L671.4,1036.1 L679.0,1036.1 L679.0,1020.9 L686.6,1020.9 L686.6,999.8 L694.2,999.8 L694.2,975.4 L701.8,975.4 L701.8,960.8 L709.4,960.8 L709.4,935.0 L717.0,935.0 L717.0,919.4 L724.6,919.4 L724.6,905.2 L732.2,905.2 L732.2,892.9 L739.8,892.9 L739.8,886.9 L747.4,886.9 L747.4,888.1 L755.0,888.1 L755.0,888.1 L762.6,888.1 L762.6,890.8 L770.2,890.8 L770.2,910.9 L777.8,910.9 L777.8,934.2 L785.4,934.2 L785.4,967.7 L793.0,967.7 L793.0,1000.1 L800.6,1000.1 L800.6,1036.8 L808.2,1036.8 L808.2,1066.2 L815.8,1066.2 L815.8,1093.0 L823.4,1093.0 L823.4,1116.7 L831.0,1116.7 L831.0,1131.1 L838.6,1131.1 L838.6,1137.1 L846.2,1137.1 L846.2,1138 Z" fill="#C5D2F0" stroke="none"/>
<path d="M527.0,1138 L527.0,1132.6 L534.6,1132.6 L534.6,1123.5 L542.2,1123.5 L542.2,1114.8 L549.8,1114.8 L549.8,1104.6 L557.4,1104.6 L557.4,1090.5 L565.0,1090.5 L565.0,1079.8 L572.6,1079.8 L572.6,1069.0 L580.2,1069.0 L580.2,1060.1 L587.8,1060.1 L587.8,1051.9 L595.4,1051.9 L595.4,1043.2 L603.0,1043.2 L603.0,1036.3 L610.6,1036.3 L610.6,1029.7 L618.2,1029.7 L618.2,1021.0 L625.8,1021.0 L625.8,1011.1 L633.4,1011.1 L633.4,1003.0 L641.0,1003.0 L641.0,994.2 L648.6,994.2 L648.6,986.1 L656.2,986.1 L656.2,977.9 L663.8,977.9 L663.8,971.4 L671.4,971.4 L671.4,963.3 L679.0,963.3 L679.0,954.9 L686.6,954.9 L686.6,949.4 L694.2,949.4 L694.2,944.3 L701.8,944.3 L701.8,944.2 L709.4,944.2 L709.4,937.7 L717.0,937.7 L717.0,941.3 L724.6,941.3 L724.6,950.5 L732.2,950.5 L732.2,963.5 L739.8,963.5 L739.8,976.0 L747.4,976.0 L747.4,994.0 L755.0,994.0 L755.0,1007.7 L762.6,1007.7 L762.6,1020.0 L770.2,1020.0 L770.2,1036.1 L777.8,1036.1 L777.8,1051.5 L785.4,1051.5 L785.4,1063.6 L793.0,1063.6 L793.0,1085.2 L800.6,1085.2 L800.6,1103.8 L808.2,1103.8 L808.2,1117.4 L815.8,1117.4 L815.8,1128.1 L823.4,1128.1 L823.4,1136.2 L831.0,1136.2 L831.0,1138 Z" fill="#F7CCB4" stroke="none"/>
<path d="M527.0,1138 L527.0,1136.8 L534.6,1136.8 L534.6,1133.6 L542.2,1133.6 L542.2,1130.9 L549.8,1130.9 L549.8,1127.1 L557.4,1127.1 L557.4,1123.9 L565.0,1123.9 L565.0,1120.8 L572.6,1120.8 L572.6,1117.8 L580.2,1117.8 L580.2,1114.1 L587.8,1114.1 L587.8,1110.6 L595.4,1110.6 L595.4,1109.7 L603.0,1109.7 L603.0,1107.7 L610.6,1107.7 L610.6,1103.6 L618.2,1103.6 L618.2,1098.4 L625.8,1098.4 L625.8,1093.9 L633.4,1093.9 L633.4,1088.5 L641.0,1088.5 L641.0,1080.5 L648.6,1080.5 L648.6,1069.7 L656.2,1069.7 L656.2,1053.4 L663.8,1053.4 L663.8,1042.8 L671.4,1042.8 L671.4,1036.1 L679.0,1036.1 L679.0,1020.9 L686.6,1020.9 L686.6,999.8 L694.2,999.8 L694.2,975.4 L701.8,975.4 L701.8,960.8 L709.4,960.8 L709.4,937.7 L717.0,937.7 L717.0,941.3 L724.6,941.3 L724.6,950.5 L732.2,950.5 L732.2,963.5 L739.8,963.5 L739.8,976.0 L747.4,976.0 L747.4,994.0 L755.0,994.0 L755.0,1007.7 L762.6,1007.7 L762.6,1020.0 L770.2,1020.0 L770.2,1036.1 L777.8,1036.1 L777.8,1051.5 L785.4,1051.5 L785.4,1063.6 L793.0,1063.6 L793.0,1085.2 L800.6,1085.2 L800.6,1103.8 L808.2,1103.8 L808.2,1117.4 L815.8,1117.4 L815.8,1128.1 L823.4,1128.1 L823.4,1136.2 L831.0,1136.2 L831.0,1138 Z" fill="#CFA9A6" stroke="none"/>
<path d="M528.1,1138.1 L531.5,1131.3 L538.3,1124.5 L545.1,1107.5 L553.6,1102.4 L562.1,1081.3 L568.9,1085.4 L577.4,1066.7 L585.9,1062.3 L592.7,1039.5 L599.5,1039.5 L608.0,1033.7 L616.5,1023.5 L623.3,1015.6 L631.8,996.9 L638.6,994.2 L647.1,988.4 L655.6,973.8 L662.4,974.8 L671.0,957.8 L677.8,963.6 L686.3,939.1 L693.8,950.0 L701.6,939.8 L710.1,950.0 L716.9,939.1 L724.7,939.1 L732.2,957.8 L740.7,969.7 L748.5,991.8 L756.0,986.7 L763.8,1020.7 L771.3,1036.1 L779.8,1058.2 L787.3,1071.8 L795.1,1092.2 L803.7,1109.2 L813.9,1122.8 L827.5,1134.7 L837.7,1137.1 L851.3,1138.1 L907.4,1138.1" stroke="#D95319" stroke-width="3.2" fill="none" stroke-linejoin="round"/>
<path d="M528.1,1138.1 L538.3,1133.7 L546.8,1130.3 L555.3,1127.9 L562.1,1121.1 L569.6,1123.5 L577.4,1117.7 L585.9,1117.7 L596.1,1112.6 L606.3,1107.5 L616.5,1103.1 L626.7,1097.3 L636.9,1090.5 L647.1,1084.7 L655.6,1076.9 L664.2,1063.3 L671.0,1050.7 L677.8,1042.9 L686.3,1016.7 L694.8,1012.2 L701.6,979.2 L710.1,979.2 L720.3,942.5 L732.2,900.0 L740.7,887.4 L748.5,888.7 L756.0,855.7 L763.8,871.0 L771.3,858.4 L779.2,908.5 L786.6,898.3 L795.1,956.1 L803.7,990.1 L812.2,1031.0 L820.7,1065.0 L827.5,1092.2 L834.3,1117.7 L841.1,1127.9 L849.6,1134.7 L868.3,1138.1 L907.4,1138.1" stroke="#0072BD" stroke-width="3.2" fill="none" stroke-linejoin="round"/>
</g>
<rect x="526.85" y="663" width="380.75" height="475.70000000000005" fill="none" stroke="#000" stroke-width="4" stroke-linejoin="round"/>
<rect x="551" y="697.5" width="57" height="18" fill="#C6D4F1" stroke="#333" stroke-width="1.2"/>
<rect x="551" y="740.8" width="57" height="18" fill="#F9CDB5" stroke="#333" stroke-width="1.2"/>
<line x1="551.00" y1="793.10" x2="608.00" y2="793.10" stroke="#0072BD" stroke-width="3.8" />
<line x1="551.00" y1="836.70" x2="608.00" y2="836.70" stroke="#D95319" stroke-width="3.8" />
<text x="618.5" y="716.8" font-size="33" fill="#000" font-family='"Liberation Sans", sans-serif' textLength="45" lengthAdjust="spacingAndGlyphs">QA</text>
<text x="678.0" y="716.8" font-size="33" fill="#000" font-style="italic" font-family='"Liberation Sans", sans-serif' textLength="21" lengthAdjust="spacingAndGlyphs">T</text>
<line x1="702.40" y1="726.30" x2="715.70" y2="694.20" stroke="#000" stroke-width="2.2" />
<text x="719.2" y="716.8" font-size="33" fill="#000" font-style="italic" font-family='"Liberation Sans", sans-serif' textLength="18" lengthAdjust="spacingAndGlyphs">J</text>
<line x1="747.70" y1="704.00" x2="771.60" y2="704.00" stroke="#000" stroke-width="2.1" />
<line x1="747.70" y1="711.30" x2="771.60" y2="711.30" stroke="#000" stroke-width="2.1" />
<text x="781.5" y="716.8" font-size="34" fill="#000" font-family='"Liberation Sans", sans-serif' textLength="60" lengthAdjust="spacingAndGlyphs">0.24</text>
<text x="618.5" y="760.7" font-size="33" fill="#000" font-family='"Liberation Sans", sans-serif' textLength="45" lengthAdjust="spacingAndGlyphs">QA</text>
<text x="678.0" y="760.7" font-size="33" fill="#000" font-style="italic" font-family='"Liberation Sans", sans-serif' textLength="21" lengthAdjust="spacingAndGlyphs">T</text>
<line x1="702.40" y1="770.20" x2="715.70" y2="738.10" stroke="#000" stroke-width="2.2" />
<text x="719.2" y="760.7" font-size="33" fill="#000" font-style="italic" font-family='"Liberation Sans", sans-serif' textLength="18" lengthAdjust="spacingAndGlyphs">J</text>
<line x1="747.70" y1="747.90" x2="771.60" y2="747.90" stroke="#000" stroke-width="2.1" />
<line x1="747.70" y1="755.20" x2="771.60" y2="755.20" stroke="#000" stroke-width="2.1" />
<text x="781.5" y="760.7" font-size="34" fill="#000" font-family='"Liberation Sans", sans-serif' textLength="60" lengthAdjust="spacingAndGlyphs">0.44</text>
<text x="618.5" y="804.7" font-size="33" fill="#000" font-family='"Liberation Sans", sans-serif' textLength="80" lengthAdjust="spacingAndGlyphs">PIMC</text>
<text x="711.4" y="804.7" font-size="33" fill="#000" font-style="italic" font-family='"Liberation Sans", sans-serif' textLength="21" lengthAdjust="spacingAndGlyphs">T</text>
<line x1="735.80" y1="814.20" x2="749.10" y2="782.10" stroke="#000" stroke-width="2.2" />
<text x="752.6" y="804.7" font-size="33" fill="#000" font-style="italic" font-family='"Liberation Sans", sans-serif' textLength="18" lengthAdjust="spacingAndGlyphs">J</text>
<line x1="781.10" y1="791.90" x2="805.00" y2="791.90" stroke="#000" stroke-width="2.1" />
<line x1="781.10" y1="799.20" x2="805.00" y2="799.20" stroke="#000" stroke-width="2.1" />
<text x="814.9" y="804.7" font-size="34" fill="#000" font-family='"Liberation Sans", sans-serif' textLength="60" lengthAdjust="spacingAndGlyphs">0.24</text>
<text x="618.5" y="848.6" font-size="33" fill="#000" font-family='"Liberation Sans", sans-serif' textLength="80" lengthAdjust="spacingAndGlyphs">PIMC</text>
<text x="711.4" y="848.6" font-size="33" fill="#000" font-style="italic" font-family='"Liberation Sans", sans-serif' textLength="21" lengthAdjust="spacingAndGlyphs">T</text>
<line x1="735.80" y1="858.10" x2="749.10" y2="826.00" stroke="#000" stroke-width="2.2" />
<text x="752.6" y="848.6" font-size="33" fill="#000" font-style="italic" font-family='"Liberation Sans", sans-serif' textLength="18" lengthAdjust="spacingAndGlyphs">J</text>
<line x1="781.10" y1="835.80" x2="805.00" y2="835.80" stroke="#000" stroke-width="2.1" />
<line x1="781.10" y1="843.10" x2="805.00" y2="843.10" stroke="#000" stroke-width="2.1" />
<text x="814.9" y="848.6" font-size="34" fill="#000" font-family='"Liberation Sans", sans-serif' textLength="60" lengthAdjust="spacingAndGlyphs">0.44</text>
<text x="1000.0" y="694.3" font-size="50" fill="#000" font-weight="bold" textLength="31.5" lengthAdjust="spacingAndGlyphs" font-family='"Liberation Sans", sans-serif' >e</text>
<line x1="1066.30" y1="747.00" x2="1078.30" y2="747.00" stroke="#9a9a9a" stroke-width="1" />
<line x1="1336.00" y1="747.00" x2="1348.00" y2="747.00" stroke="#9a9a9a" stroke-width="1" />
<line x1="1066.30" y1="886.60" x2="1078.30" y2="886.60" stroke="#9a9a9a" stroke-width="1" />
<line x1="1336.00" y1="886.60" x2="1348.00" y2="886.60" stroke="#9a9a9a" stroke-width="1" />
<line x1="1066.30" y1="1026.20" x2="1078.30" y2="1026.20" stroke="#9a9a9a" stroke-width="1" />
<line x1="1336.00" y1="1026.20" x2="1348.00" y2="1026.20" stroke="#9a9a9a" stroke-width="1" />
<line x1="1145.30" y1="665.00" x2="1145.30" y2="677.00" stroke="#9a9a9a" stroke-width="1" />
<line x1="1145.30" y1="1124.80" x2="1145.30" y2="1136.80" stroke="#9a9a9a" stroke-width="1" />
<line x1="1211.40" y1="665.00" x2="1211.40" y2="677.00" stroke="#9a9a9a" stroke-width="1" />
<line x1="1211.40" y1="1124.80" x2="1211.40" y2="1136.80" stroke="#9a9a9a" stroke-width="1" />
<line x1="1267.29" y1="665.00" x2="1267.29" y2="677.00" stroke="#9a9a9a" stroke-width="1" />
<line x1="1267.29" y1="1124.80" x2="1267.29" y2="1136.80" stroke="#9a9a9a" stroke-width="1" />
<line x1="1315.70" y1="665.00" x2="1315.70" y2="677.00" stroke="#9a9a9a" stroke-width="1" />
<line x1="1315.70" y1="1124.80" x2="1315.70" y2="1136.80" stroke="#9a9a9a" stroke-width="1" />
<text x="1051.2" y="758.5" font-size="34" fill="#000" text-anchor="end" textLength="41" lengthAdjust="spacingAndGlyphs" font-family='"Liberation Sans", sans-serif' >0.4</text>
<text x="1051.2" y="898.1" font-size="34" fill="#000" text-anchor="end" textLength="57" lengthAdjust="spacingAndGlyphs" font-family='"Liberation Sans", sans-serif' >0.35</text>
<text x="1051.2" y="1037.7" font-size="34" fill="#000" text-anchor="end" textLength="41" lengthAdjust="spacingAndGlyphs" font-family='"Liberation Sans", sans-serif' >0.3</text>
<text x="1064.4" y="1172.0" font-size="34" fill="#000" text-anchor="middle" font-family='"Liberation Sans", sans-serif' >2</text>
<text x="1211.4" y="1172.0" font-size="34" fill="#000" text-anchor="middle" font-family='"Liberation Sans", sans-serif' >3</text>
<text x="1315.7" y="1172.0" font-size="34" fill="#000" text-anchor="middle" font-family='"Liberation Sans", sans-serif' >4</text>
<text x="1107.0" y="1220" font-size="33" fill="#111" font-style="italic" font-family='"Liberation Sans", sans-serif' textLength="19" lengthAdjust="spacingAndGlyphs">J</text>
<line x1="1125.30" y1="1228.00" x2="1138.80" y2="1195.50" stroke="#111" stroke-width="2.3" />
<text x="1143.5" y="1220" font-size="33" fill="#111" font-style="italic" font-family='"Liberation Sans", sans-serif' textLength="22" lengthAdjust="spacingAndGlyphs">T</text>
<text x="1180.5" y="1220" font-size="33" fill="#111" font-family='"Liberation Sans", sans-serif' textLength="126" lengthAdjust="spacingAndGlyphs">(unitless)</text>
<text transform="translate(963.9,1039.6) rotate(-90)" x="0" y="0" font-size="33" fill="#111" font-family='"Liberation Sans", sans-serif' textLength="277" lengthAdjust="spacingAndGlyphs">Topological winding</text>
<clipPath id="clipE"><rect x="1067" y="665" width="281" height="471"/></clipPath>
<g clip-path="url(#clipE)">
<line x1="1107.86" y1="699.11" x2="1107.86" y2="742.24" stroke="#E08A2C" stroke-width="1.5" />
<line x1="1101.36" y1="699.11" x2="1114.36" y2="699.11" stroke="#E08A2C" stroke-width="1.5" />
<line x1="1101.36" y1="742.24" x2="1114.36" y2="742.24" stroke="#E08A2C" stroke-width="1.5" />
<path d="M1107.9,714.2 L1112.8,721.5 L1107.9,728.7 L1102.9,721.5 Z" fill="none" stroke="#E08A2C" stroke-width="1.6"/>
<line x1="1122.88" y1="708.05" x2="1122.88" y2="751.18" stroke="#E08A2C" stroke-width="1.5" />
<line x1="1116.38" y1="708.05" x2="1129.38" y2="708.05" stroke="#E08A2C" stroke-width="1.5" />
<line x1="1116.38" y1="751.18" x2="1129.38" y2="751.18" stroke="#E08A2C" stroke-width="1.5" />
<path d="M1122.9,723.2 L1127.8,730.4 L1122.9,737.7 L1117.9,730.4 Z" fill="none" stroke="#E08A2C" stroke-width="1.6"/>
<line x1="1138.85" y1="707.73" x2="1138.85" y2="766.20" stroke="#E08A2C" stroke-width="1.5" />
<line x1="1132.35" y1="707.73" x2="1145.35" y2="707.73" stroke="#E08A2C" stroke-width="1.5" />
<line x1="1132.35" y1="766.20" x2="1145.35" y2="766.20" stroke="#E08A2C" stroke-width="1.5" />
<path d="M1138.8,729.2 L1143.8,736.5 L1138.8,743.7 L1133.9,736.5 Z" fill="none" stroke="#E08A2C" stroke-width="1.6"/>
<line x1="1156.42" y1="718.91" x2="1156.42" y2="770.99" stroke="#E08A2C" stroke-width="1.5" />
<line x1="1149.92" y1="718.91" x2="1162.92" y2="718.91" stroke="#E08A2C" stroke-width="1.5" />
<line x1="1149.92" y1="770.99" x2="1162.92" y2="770.99" stroke="#E08A2C" stroke-width="1.5" />
<path d="M1156.4,739.8 L1161.4,747.0 L1156.4,754.3 L1151.5,747.0 Z" fill="none" stroke="#E08A2C" stroke-width="1.6"/>
<line x1="1173.99" y1="714.12" x2="1173.99" y2="778.98" stroke="#E08A2C" stroke-width="1.5" />
<line x1="1167.49" y1="714.12" x2="1180.49" y2="714.12" stroke="#E08A2C" stroke-width="1.5" />
<line x1="1167.49" y1="778.98" x2="1180.49" y2="778.98" stroke="#E08A2C" stroke-width="1.5" />
<path d="M1174.0,737.5 L1178.9,744.8 L1174.0,752.0 L1169.1,744.8 Z" fill="none" stroke="#E08A2C" stroke-width="1.6"/>
<line x1="1192.20" y1="741.60" x2="1192.20" y2="783.77" stroke="#E08A2C" stroke-width="1.5" />
<line x1="1185.70" y1="741.60" x2="1198.70" y2="741.60" stroke="#E08A2C" stroke-width="1.5" />
<line x1="1185.70" y1="783.77" x2="1198.70" y2="783.77" stroke="#E08A2C" stroke-width="1.5" />
<path d="M1192.2,754.8 L1197.1,762.0 L1192.2,769.3 L1187.3,762.0 Z" fill="none" stroke="#E08A2C" stroke-width="1.6"/>
<line x1="1210.73" y1="763.00" x2="1210.73" y2="785.37" stroke="#E08A2C" stroke-width="1.5" />
<line x1="1204.23" y1="763.00" x2="1217.23" y2="763.00" stroke="#E08A2C" stroke-width="1.5" />
<line x1="1204.23" y1="785.37" x2="1217.23" y2="785.37" stroke="#E08A2C" stroke-width="1.5" />
<path d="M1210.7,764.7 L1215.7,771.9 L1210.7,779.2 L1205.8,771.9 Z" fill="none" stroke="#E08A2C" stroke-width="1.6"/>
<line x1="1229.27" y1="758.21" x2="1229.27" y2="796.55" stroke="#E08A2C" stroke-width="1.5" />
<line x1="1222.77" y1="758.21" x2="1235.77" y2="758.21" stroke="#E08A2C" stroke-width="1.5" />
<line x1="1222.77" y1="796.55" x2="1235.77" y2="796.55" stroke="#E08A2C" stroke-width="1.5" />
<path d="M1229.3,770.8 L1234.2,778.0 L1229.3,785.3 L1224.3,778.0 Z" fill="none" stroke="#E08A2C" stroke-width="1.6"/>
<line x1="1252.27" y1="767.80" x2="1252.27" y2="796.55" stroke="#E08A2C" stroke-width="1.5" />
<line x1="1245.77" y1="767.80" x2="1258.77" y2="767.80" stroke="#E08A2C" stroke-width="1.5" />
<line x1="1245.77" y1="796.55" x2="1258.77" y2="796.55" stroke="#E08A2C" stroke-width="1.5" />
<path d="M1252.3,772.7 L1257.2,779.9 L1252.3,787.2 L1247.3,779.9 Z" fill="none" stroke="#E08A2C" stroke-width="1.6"/>
<line x1="1265.05" y1="785.37" x2="1265.05" y2="802.94" stroke="#E08A2C" stroke-width="1.5" />
<line x1="1258.55" y1="785.37" x2="1271.55" y2="785.37" stroke="#E08A2C" stroke-width="1.5" />
<line x1="1258.55" y1="802.94" x2="1271.55" y2="802.94" stroke="#E08A2C" stroke-width="1.5" />
<path d="M1265.0,788.3 L1270.0,795.6 L1265.0,802.8 L1260.1,795.6 Z" fill="none" stroke="#E08A2C" stroke-width="1.6"/>
<line x1="1289.01" y1="770.99" x2="1289.01" y2="796.55" stroke="#E08A2C" stroke-width="1.5" />
<line x1="1282.51" y1="770.99" x2="1295.51" y2="770.99" stroke="#E08A2C" stroke-width="1.5" />
<line x1="1282.51" y1="796.55" x2="1295.51" y2="796.55" stroke="#E08A2C" stroke-width="1.5" />
<path d="M1289.0,778.1 L1293.9,785.4 L1289.0,792.6 L1284.1,785.4 Z" fill="none" stroke="#E08A2C" stroke-width="1.6"/>
<line x1="1309.14" y1="748.63" x2="1309.14" y2="801.34" stroke="#E08A2C" stroke-width="1.5" />
<line x1="1302.64" y1="748.63" x2="1315.64" y2="748.63" stroke="#E08A2C" stroke-width="1.5" />
<line x1="1302.64" y1="801.34" x2="1315.64" y2="801.34" stroke="#E08A2C" stroke-width="1.5" />
<path d="M1309.1,772.4 L1314.1,779.6 L1309.1,786.9 L1304.2,779.6 Z" fill="none" stroke="#E08A2C" stroke-width="1.6"/>
<line x1="1325.11" y1="786.96" x2="1325.11" y2="801.98" stroke="#E08A2C" stroke-width="1.5" />
<line x1="1318.61" y1="786.96" x2="1331.61" y2="786.96" stroke="#E08A2C" stroke-width="1.5" />
<line x1="1318.61" y1="801.98" x2="1331.61" y2="801.98" stroke="#E08A2C" stroke-width="1.5" />
<path d="M1325.1,789.3 L1330.0,796.5 L1325.1,803.8 L1320.2,796.5 Z" fill="none" stroke="#E08A2C" stroke-width="1.6"/>
<line x1="1107.86" y1="737.44" x2="1107.86" y2="770.99" stroke="#7A68B3" stroke-width="1.5" />
<line x1="1101.36" y1="737.44" x2="1114.36" y2="737.44" stroke="#7A68B3" stroke-width="1.5" />
<line x1="1101.36" y1="770.99" x2="1114.36" y2="770.99" stroke="#7A68B3" stroke-width="1.5" />
<path d="M1107.9,746.2 L1112.8,753.4 L1107.9,760.7 L1102.9,753.4 Z" fill="none" stroke="#7A68B3" stroke-width="1.6"/>
<line x1="1122.88" y1="739.04" x2="1122.88" y2="774.82" stroke="#7A68B3" stroke-width="1.5" />
<line x1="1116.38" y1="739.04" x2="1129.38" y2="739.04" stroke="#7A68B3" stroke-width="1.5" />
<line x1="1116.38" y1="774.82" x2="1129.38" y2="774.82" stroke="#7A68B3" stroke-width="1.5" />
<path d="M1122.9,749.4 L1127.8,756.6 L1122.9,763.9 L1117.9,756.6 Z" fill="none" stroke="#7A68B3" stroke-width="1.6"/>
<line x1="1138.85" y1="742.88" x2="1138.85" y2="779.94" stroke="#7A68B3" stroke-width="1.5" />
<line x1="1132.35" y1="742.88" x2="1145.35" y2="742.88" stroke="#7A68B3" stroke-width="1.5" />
<line x1="1132.35" y1="779.94" x2="1145.35" y2="779.94" stroke="#7A68B3" stroke-width="1.5" />
<path d="M1138.8,753.5 L1143.8,760.8 L1138.8,768.0 L1133.9,760.8 Z" fill="none" stroke="#7A68B3" stroke-width="1.6"/>
<line x1="1156.42" y1="743.83" x2="1156.42" y2="782.17" stroke="#7A68B3" stroke-width="1.5" />
<line x1="1149.92" y1="743.83" x2="1162.92" y2="743.83" stroke="#7A68B3" stroke-width="1.5" />
<line x1="1149.92" y1="782.17" x2="1162.92" y2="782.17" stroke="#7A68B3" stroke-width="1.5" />
<path d="M1156.4,754.8 L1161.4,762.0 L1156.4,769.3 L1151.5,762.0 Z" fill="none" stroke="#7A68B3" stroke-width="1.6"/>
<line x1="1173.99" y1="752.46" x2="1173.99" y2="798.79" stroke="#7A68B3" stroke-width="1.5" />
<line x1="1167.49" y1="752.46" x2="1180.49" y2="752.46" stroke="#7A68B3" stroke-width="1.5" />
<line x1="1167.49" y1="798.79" x2="1180.49" y2="798.79" stroke="#7A68B3" stroke-width="1.5" />
<path d="M1174.0,767.9 L1178.9,775.1 L1174.0,782.4 L1169.1,775.1 Z" fill="none" stroke="#7A68B3" stroke-width="1.6"/>
<line x1="1192.20" y1="763.00" x2="1192.20" y2="783.77" stroke="#7A68B3" stroke-width="1.5" />
<line x1="1185.70" y1="763.00" x2="1198.70" y2="763.00" stroke="#7A68B3" stroke-width="1.5" />
<line x1="1185.70" y1="783.77" x2="1198.70" y2="783.77" stroke="#7A68B3" stroke-width="1.5" />
<path d="M1192.2,766.3 L1197.1,773.5 L1192.2,780.8 L1187.3,773.5 Z" fill="none" stroke="#7A68B3" stroke-width="1.6"/>
<line x1="1210.73" y1="763.00" x2="1210.73" y2="778.98" stroke="#7A68B3" stroke-width="1.5" />
<line x1="1204.23" y1="763.00" x2="1217.23" y2="763.00" stroke="#7A68B3" stroke-width="1.5" />
<line x1="1204.23" y1="778.98" x2="1217.23" y2="778.98" stroke="#7A68B3" stroke-width="1.5" />
<path d="M1210.7,764.7 L1215.7,771.9 L1210.7,779.2 L1205.8,771.9 Z" fill="none" stroke="#7A68B3" stroke-width="1.6"/>
<line x1="1229.27" y1="772.59" x2="1229.27" y2="797.19" stroke="#7A68B3" stroke-width="1.5" />
<line x1="1222.77" y1="772.59" x2="1235.77" y2="772.59" stroke="#7A68B3" stroke-width="1.5" />
<line x1="1222.77" y1="797.19" x2="1235.77" y2="797.19" stroke="#7A68B3" stroke-width="1.5" />
<path d="M1229.3,777.2 L1234.2,784.4 L1229.3,791.7 L1224.3,784.4 Z" fill="none" stroke="#7A68B3" stroke-width="1.6"/>
<line x1="1252.27" y1="767.80" x2="1252.27" y2="787.60" stroke="#7A68B3" stroke-width="1.5" />
<line x1="1245.77" y1="767.80" x2="1258.77" y2="767.80" stroke="#7A68B3" stroke-width="1.5" />
<line x1="1245.77" y1="787.60" x2="1258.77" y2="787.60" stroke="#7A68B3" stroke-width="1.5" />
<path d="M1252.3,770.8 L1257.2,778.0 L1252.3,785.3 L1247.3,778.0 Z" fill="none" stroke="#7A68B3" stroke-width="1.6"/>
<line x1="1265.05" y1="755.02" x2="1265.05" y2="771.63" stroke="#7A68B3" stroke-width="1.5" />
<line x1="1258.55" y1="755.02" x2="1271.55" y2="755.02" stroke="#7A68B3" stroke-width="1.5" />
<line x1="1258.55" y1="771.63" x2="1271.55" y2="771.63" stroke="#7A68B3" stroke-width="1.5" />
<path d="M1265.0,755.8 L1270.0,763.0 L1265.0,770.3 L1260.1,763.0 Z" fill="none" stroke="#7A68B3" stroke-width="1.6"/>
<line x1="1289.01" y1="770.35" x2="1289.01" y2="788.56" stroke="#7A68B3" stroke-width="1.5" />
<line x1="1282.51" y1="770.35" x2="1295.51" y2="770.35" stroke="#7A68B3" stroke-width="1.5" />
<line x1="1282.51" y1="788.56" x2="1295.51" y2="788.56" stroke="#7A68B3" stroke-width="1.5" />
<path d="M1289.0,770.1 L1293.9,777.4 L1289.0,784.6 L1284.1,777.4 Z" fill="none" stroke="#7A68B3" stroke-width="1.6"/>
<line x1="1309.14" y1="767.80" x2="1309.14" y2="792.72" stroke="#7A68B3" stroke-width="1.5" />
<line x1="1302.64" y1="767.80" x2="1315.64" y2="767.80" stroke="#7A68B3" stroke-width="1.5" />
<line x1="1302.64" y1="792.72" x2="1315.64" y2="792.72" stroke="#7A68B3" stroke-width="1.5" />
<path d="M1309.1,773.3 L1314.1,780.6 L1309.1,787.8 L1304.2,780.6 Z" fill="none" stroke="#7A68B3" stroke-width="1.6"/>
<line x1="1325.11" y1="761.41" x2="1325.11" y2="768.43" stroke="#7A68B3" stroke-width="1.5" />
<line x1="1318.61" y1="761.41" x2="1331.61" y2="761.41" stroke="#7A68B3" stroke-width="1.5" />
<line x1="1318.61" y1="768.43" x2="1331.61" y2="768.43" stroke="#7A68B3" stroke-width="1.5" />
<path d="M1325.1,757.4 L1330.0,764.6 L1325.1,771.9 L1320.2,764.6 Z" fill="none" stroke="#7A68B3" stroke-width="1.6"/>
<path d="M1107.9,716.7 C1110.4,718.0 1117.7,721.9 1122.9,724.7 C1128.0,727.4 1133.3,730.5 1138.8,733.3 C1144.4,736.1 1150.6,738.9 1156.4,741.6 C1162.3,744.3 1168.0,746.2 1174.0,749.3 C1180.0,752.3 1186.1,756.5 1192.2,759.8 C1198.3,763.2 1204.6,766.4 1210.7,769.4 C1216.9,772.4 1222.3,775.0 1229.3,778.0 C1236.2,781.1 1246.3,785.0 1252.3,787.6 C1258.2,790.2 1258.9,790.8 1265.0,793.4 C1271.2,795.9 1281.6,799.7 1289.0,802.9 C1296.5,806.1 1303.8,810.1 1309.8,812.5 C1315.8,814.9 1322.6,816.5 1325.1,817.3" stroke="#E08A2C" stroke-width="3" fill="none" stroke-linejoin="round" />
<path d="M1107.9,748.6 C1110.4,749.3 1117.7,751.7 1122.9,752.5 C1128.0,753.3 1133.3,752.2 1138.8,753.4 C1144.4,754.6 1150.6,757.8 1156.4,759.8 C1162.3,761.8 1168.0,763.9 1174.0,765.2 C1180.0,766.6 1186.1,766.8 1192.2,767.8 C1198.3,768.8 1204.6,769.4 1210.7,771.0 C1216.9,772.6 1222.3,775.5 1229.3,777.4 C1236.2,779.2 1246.3,780.8 1252.3,782.2 C1258.2,783.5 1258.9,784.0 1265.0,785.4 C1271.2,786.7 1281.6,788.6 1289.0,790.2 C1296.5,791.8 1303.8,794.0 1309.8,795.0 C1315.8,795.9 1322.6,795.5 1325.1,795.6" stroke="#7A68B3" stroke-width="3" fill="none" stroke-linejoin="round" />
<line x1="1107.90" y1="1023.40" x2="1107.90" y2="1037.40" stroke="#B4AADA" stroke-width="1.5" />
<line x1="1101.40" y1="1023.40" x2="1114.40" y2="1023.40" stroke="#B4AADA" stroke-width="1.5" />
<line x1="1101.40" y1="1037.40" x2="1114.40" y2="1037.40" stroke="#B4AADA" stroke-width="1.5" />
<rect x="1101.4" y="1023.9" width="13.0" height="13.0" fill="none" stroke="#B4AADA" stroke-width="1.6"/>
<line x1="1122.80" y1="1030.60" x2="1122.80" y2="1042.60" stroke="#B4AADA" stroke-width="1.5" />
<line x1="1116.30" y1="1030.60" x2="1129.30" y2="1030.60" stroke="#B4AADA" stroke-width="1.5" />
<line x1="1116.30" y1="1042.60" x2="1129.30" y2="1042.60" stroke="#B4AADA" stroke-width="1.5" />
<rect x="1116.3" y="1030.1" width="13.0" height="13.0" fill="none" stroke="#B4AADA" stroke-width="1.6"/>
<line x1="1138.30" y1="1032.70" x2="1138.30" y2="1048.70" stroke="#B4AADA" stroke-width="1.5" />
<line x1="1131.80" y1="1032.70" x2="1144.80" y2="1032.70" stroke="#B4AADA" stroke-width="1.5" />
<line x1="1131.80" y1="1048.70" x2="1144.80" y2="1048.70" stroke="#B4AADA" stroke-width="1.5" />
<rect x="1131.8" y="1034.2" width="13.0" height="13.0" fill="none" stroke="#B4AADA" stroke-width="1.6"/>
<line x1="1155.90" y1="1037.30" x2="1155.90" y2="1051.30" stroke="#B4AADA" stroke-width="1.5" />
<line x1="1149.40" y1="1037.30" x2="1162.40" y2="1037.30" stroke="#B4AADA" stroke-width="1.5" />
<line x1="1149.40" y1="1051.30" x2="1162.40" y2="1051.30" stroke="#B4AADA" stroke-width="1.5" />
<rect x="1149.4" y="1037.8" width="13.0" height="13.0" fill="none" stroke="#B4AADA" stroke-width="1.6"/>
<line x1="1173.50" y1="1044.10" x2="1173.50" y2="1060.10" stroke="#B4AADA" stroke-width="1.5" />
<line x1="1167.00" y1="1044.10" x2="1180.00" y2="1044.10" stroke="#B4AADA" stroke-width="1.5" />
<line x1="1167.00" y1="1060.10" x2="1180.00" y2="1060.10" stroke="#B4AADA" stroke-width="1.5" />
<rect x="1167.0" y="1045.6" width="13.0" height="13.0" fill="none" stroke="#B4AADA" stroke-width="1.6"/>
<line x1="1192.20" y1="1050.20" x2="1192.20" y2="1058.20" stroke="#B4AADA" stroke-width="1.5" />
<line x1="1185.70" y1="1050.20" x2="1198.70" y2="1050.20" stroke="#B4AADA" stroke-width="1.5" />
<line x1="1185.70" y1="1058.20" x2="1198.70" y2="1058.20" stroke="#B4AADA" stroke-width="1.5" />
<rect x="1185.7" y="1047.7" width="13.0" height="13.0" fill="none" stroke="#B4AADA" stroke-width="1.6"/>
<line x1="1210.80" y1="1049.60" x2="1210.80" y2="1059.60" stroke="#B4AADA" stroke-width="1.5" />
<line x1="1204.30" y1="1049.60" x2="1217.30" y2="1049.60" stroke="#B4AADA" stroke-width="1.5" />
<line x1="1204.30" y1="1059.60" x2="1217.30" y2="1059.60" stroke="#B4AADA" stroke-width="1.5" />
<rect x="1204.3" y="1048.1" width="13.0" height="13.0" fill="none" stroke="#B4AADA" stroke-width="1.6"/>
<line x1="1229.50" y1="1054.40" x2="1229.50" y2="1064.40" stroke="#B4AADA" stroke-width="1.5" />
<line x1="1223.00" y1="1054.40" x2="1236.00" y2="1054.40" stroke="#B4AADA" stroke-width="1.5" />
<line x1="1223.00" y1="1064.40" x2="1236.00" y2="1064.40" stroke="#B4AADA" stroke-width="1.5" />
<rect x="1223.0" y="1052.9" width="13.0" height="13.0" fill="none" stroke="#B4AADA" stroke-width="1.6"/>
<line x1="1252.20" y1="1055.40" x2="1252.20" y2="1067.40" stroke="#B4AADA" stroke-width="1.5" />
<line x1="1245.70" y1="1055.40" x2="1258.70" y2="1055.40" stroke="#B4AADA" stroke-width="1.5" />
<line x1="1245.70" y1="1067.40" x2="1258.70" y2="1067.40" stroke="#B4AADA" stroke-width="1.5" />
<rect x="1245.7" y="1054.9" width="13.0" height="13.0" fill="none" stroke="#B4AADA" stroke-width="1.6"/>
<line x1="1265.70" y1="1053.30" x2="1265.70" y2="1063.30" stroke="#B4AADA" stroke-width="1.5" />
<line x1="1259.20" y1="1053.30" x2="1272.20" y2="1053.30" stroke="#B4AADA" stroke-width="1.5" />
<line x1="1259.20" y1="1063.30" x2="1272.20" y2="1063.30" stroke="#B4AADA" stroke-width="1.5" />
<rect x="1259.2" y="1051.8" width="13.0" height="13.0" fill="none" stroke="#B4AADA" stroke-width="1.6"/>
<line x1="1288.50" y1="1060.60" x2="1288.50" y2="1070.60" stroke="#B4AADA" stroke-width="1.5" />
<line x1="1282.00" y1="1060.60" x2="1295.00" y2="1060.60" stroke="#B4AADA" stroke-width="1.5" />
<line x1="1282.00" y1="1070.60" x2="1295.00" y2="1070.60" stroke="#B4AADA" stroke-width="1.5" />
<rect x="1282.0" y="1059.1" width="13.0" height="13.0" fill="none" stroke="#B4AADA" stroke-width="1.6"/>
<line x1="1309.20" y1="1059.60" x2="1309.20" y2="1071.60" stroke="#B4AADA" stroke-width="1.5" />
<line x1="1302.70" y1="1059.60" x2="1315.70" y2="1059.60" stroke="#B4AADA" stroke-width="1.5" />
<line x1="1302.70" y1="1071.60" x2="1315.70" y2="1071.60" stroke="#B4AADA" stroke-width="1.5" />
<rect x="1302.7" y="1059.1" width="13.0" height="13.0" fill="none" stroke="#B4AADA" stroke-width="1.6"/>
<line x1="1324.70" y1="1052.30" x2="1324.70" y2="1064.30" stroke="#B4AADA" stroke-width="1.5" />
<line x1="1318.20" y1="1052.30" x2="1331.20" y2="1052.30" stroke="#B4AADA" stroke-width="1.5" />
<line x1="1318.20" y1="1064.30" x2="1331.20" y2="1064.30" stroke="#B4AADA" stroke-width="1.5" />
<rect x="1318.2" y="1051.8" width="13.0" height="13.0" fill="none" stroke="#B4AADA" stroke-width="1.6"/>
<line x1="1107.90" y1="1032.80" x2="1107.90" y2="1054.80" stroke="#F6B36F" stroke-width="1.5" />
<line x1="1101.40" y1="1032.80" x2="1114.40" y2="1032.80" stroke="#F6B36F" stroke-width="1.5" />
<line x1="1101.40" y1="1054.80" x2="1114.40" y2="1054.80" stroke="#F6B36F" stroke-width="1.5" />
<rect x="1101.4" y="1037.3" width="13.0" height="13.0" fill="none" stroke="#F6B36F" stroke-width="1.6"/>
<line x1="1122.80" y1="1044.20" x2="1122.80" y2="1064.20" stroke="#F6B36F" stroke-width="1.5" />
<line x1="1116.30" y1="1044.20" x2="1129.30" y2="1044.20" stroke="#F6B36F" stroke-width="1.5" />
<line x1="1116.30" y1="1064.20" x2="1129.30" y2="1064.20" stroke="#F6B36F" stroke-width="1.5" />
<rect x="1116.3" y="1047.7" width="13.0" height="13.0" fill="none" stroke="#F6B36F" stroke-width="1.6"/>
<line x1="1138.30" y1="1049.40" x2="1138.30" y2="1073.40" stroke="#F6B36F" stroke-width="1.5" />
<line x1="1131.80" y1="1049.40" x2="1144.80" y2="1049.40" stroke="#F6B36F" stroke-width="1.5" />
<line x1="1131.80" y1="1073.40" x2="1144.80" y2="1073.40" stroke="#F6B36F" stroke-width="1.5" />
<rect x="1131.8" y="1054.9" width="13.0" height="13.0" fill="none" stroke="#F6B36F" stroke-width="1.6"/>
<line x1="1155.90" y1="1057.70" x2="1155.90" y2="1081.70" stroke="#F6B36F" stroke-width="1.5" />
<line x1="1149.40" y1="1057.70" x2="1162.40" y2="1057.70" stroke="#F6B36F" stroke-width="1.5" />
<line x1="1149.40" y1="1081.70" x2="1162.40" y2="1081.70" stroke="#F6B36F" stroke-width="1.5" />
<rect x="1149.4" y="1063.2" width="13.0" height="13.0" fill="none" stroke="#F6B36F" stroke-width="1.6"/>
<line x1="1173.50" y1="1061.90" x2="1173.50" y2="1085.90" stroke="#F6B36F" stroke-width="1.5" />
<line x1="1167.00" y1="1061.90" x2="1180.00" y2="1061.90" stroke="#F6B36F" stroke-width="1.5" />
<line x1="1167.00" y1="1085.90" x2="1180.00" y2="1085.90" stroke="#F6B36F" stroke-width="1.5" />
<rect x="1167.0" y="1067.4" width="13.0" height="13.0" fill="none" stroke="#F6B36F" stroke-width="1.6"/>
<line x1="1192.20" y1="1072.10" x2="1192.20" y2="1090.10" stroke="#F6B36F" stroke-width="1.5" />
<line x1="1185.70" y1="1072.10" x2="1198.70" y2="1072.10" stroke="#F6B36F" stroke-width="1.5" />
<line x1="1185.70" y1="1090.10" x2="1198.70" y2="1090.10" stroke="#F6B36F" stroke-width="1.5" />
<rect x="1185.7" y="1074.6" width="13.0" height="13.0" fill="none" stroke="#F6B36F" stroke-width="1.6"/>
<line x1="1210.80" y1="1085.40" x2="1210.80" y2="1095.40" stroke="#F6B36F" stroke-width="1.5" />
<line x1="1204.30" y1="1085.40" x2="1217.30" y2="1085.40" stroke="#F6B36F" stroke-width="1.5" />
<line x1="1204.30" y1="1095.40" x2="1217.30" y2="1095.40" stroke="#F6B36F" stroke-width="1.5" />
<rect x="1204.3" y="1083.9" width="13.0" height="13.0" fill="none" stroke="#F6B36F" stroke-width="1.6"/>
<line x1="1229.50" y1="1085.50" x2="1229.50" y2="1097.50" stroke="#F6B36F" stroke-width="1.5" />
<line x1="1223.00" y1="1085.50" x2="1236.00" y2="1085.50" stroke="#F6B36F" stroke-width="1.5" />
<line x1="1223.00" y1="1097.50" x2="1236.00" y2="1097.50" stroke="#F6B36F" stroke-width="1.5" />
<rect x="1223.0" y="1085.0" width="13.0" height="13.0" fill="none" stroke="#F6B36F" stroke-width="1.6"/>
<line x1="1252.20" y1="1090.60" x2="1252.20" y2="1100.60" stroke="#F6B36F" stroke-width="1.5" />
<line x1="1245.70" y1="1090.60" x2="1258.70" y2="1090.60" stroke="#F6B36F" stroke-width="1.5" />
<line x1="1245.70" y1="1100.60" x2="1258.70" y2="1100.60" stroke="#F6B36F" stroke-width="1.5" />
<rect x="1245.7" y="1089.1" width="13.0" height="13.0" fill="none" stroke="#F6B36F" stroke-width="1.6"/>
<line x1="1265.70" y1="1096.90" x2="1265.70" y2="1108.90" stroke="#F6B36F" stroke-width="1.5" />
<line x1="1259.20" y1="1096.90" x2="1272.20" y2="1096.90" stroke="#F6B36F" stroke-width="1.5" />
<line x1="1259.20" y1="1108.90" x2="1272.20" y2="1108.90" stroke="#F6B36F" stroke-width="1.5" />
<rect x="1259.2" y="1096.4" width="13.0" height="13.0" fill="none" stroke="#F6B36F" stroke-width="1.6"/>
<line x1="1288.50" y1="1093.70" x2="1288.50" y2="1103.70" stroke="#F6B36F" stroke-width="1.5" />
<line x1="1282.00" y1="1093.70" x2="1295.00" y2="1093.70" stroke="#F6B36F" stroke-width="1.5" />
<line x1="1282.00" y1="1103.70" x2="1295.00" y2="1103.70" stroke="#F6B36F" stroke-width="1.5" />
<rect x="1282.0" y="1092.2" width="13.0" height="13.0" fill="none" stroke="#F6B36F" stroke-width="1.6"/>
<line x1="1309.20" y1="1093.70" x2="1309.20" y2="1103.70" stroke="#F6B36F" stroke-width="1.5" />
<line x1="1302.70" y1="1093.70" x2="1315.70" y2="1093.70" stroke="#F6B36F" stroke-width="1.5" />
<line x1="1302.70" y1="1103.70" x2="1315.70" y2="1103.70" stroke="#F6B36F" stroke-width="1.5" />
<rect x="1302.7" y="1092.2" width="13.0" height="13.0" fill="none" stroke="#F6B36F" stroke-width="1.6"/>
<line x1="1324.70" y1="1098.90" x2="1324.70" y2="1110.90" stroke="#F6B36F" stroke-width="1.5" />
<line x1="1318.20" y1="1098.90" x2="1331.20" y2="1098.90" stroke="#F6B36F" stroke-width="1.5" />
<line x1="1318.20" y1="1110.90" x2="1331.20" y2="1110.90" stroke="#F6B36F" stroke-width="1.5" />
<rect x="1318.2" y="1098.4" width="13.0" height="13.0" fill="none" stroke="#F6B36F" stroke-width="1.6"/>
<path d="M1108.3,1015.9 C1115.7,1018.3 1135.7,1025.9 1152.8,1030.4 C1169.9,1034.9 1191.8,1039.2 1210.8,1042.8 C1229.8,1046.4 1249.4,1049.7 1266.7,1052.1 C1284.0,1054.5 1304.7,1056.3 1314.4,1057.3 C1324.1,1058.3 1323.0,1058.1 1324.7,1058.3" stroke="#B4AADA" stroke-width="3.2" fill="none" stroke-linejoin="round" />
<path d="M1108.3,1031.4 C1110.9,1032.8 1116.4,1035.6 1123.8,1039.7 C1131.2,1043.8 1141.1,1051.3 1152.8,1056.3 C1164.5,1061.3 1181.1,1065.6 1194.2,1069.7 C1207.3,1073.8 1219.8,1077.1 1231.5,1081.1 C1243.2,1085.1 1253.7,1090.0 1264.7,1093.5 C1275.8,1097.0 1287.8,1099.5 1297.8,1101.8 C1307.8,1104.0 1320.2,1106.1 1324.7,1107.0" stroke="#F6B36F" stroke-width="3.2" fill="none" stroke-linejoin="round" />
</g>
<rect x="1064.3" y="663" width="285.70000000000005" height="475.79999999999995" fill="none" stroke="#000" stroke-width="4"/>
<line x1="1075.90" y1="848.80" x2="1132.50" y2="848.80" stroke="#E08A2C" stroke-width="1.8" />
<path d="M1104.3,842.0 L1109.2,848.8 L1104.3,855.6 L1099.4,848.8 Z" fill="none" stroke="#E08A2C" stroke-width="1.6"/>
<line x1="1075.90" y1="889.60" x2="1132.50" y2="889.60" stroke="#7A68B3" stroke-width="1.8" />
<path d="M1104.3,882.8 L1109.2,889.6 L1104.3,896.4 L1099.4,889.6 Z" fill="none" stroke="#7A68B3" stroke-width="1.6"/>
<line x1="1075.90" y1="930.50" x2="1132.50" y2="930.50" stroke="#B4AADA" stroke-width="1.8" />
<rect x="1097.6" y="923.8" width="13.4" height="13.4" fill="none" stroke="#B4AADA" stroke-width="1.6"/>
<line x1="1075.90" y1="971.30" x2="1132.50" y2="971.30" stroke="#F6B36F" stroke-width="1.8" />
<rect x="1097.6" y="964.6" width="13.4" height="13.4" fill="none" stroke="#F6B36F" stroke-width="1.6"/>
<text x="1142" y="858.0999999999999" font-size="33" fill="#000" font-family='"Liberation Sans", sans-serif' textLength="52" lengthAdjust="spacingAndGlyphs"><tspan font-style="italic">f</tspan>(1)</text>
<text x="1142" y="898.9" font-size="33" fill="#000" font-family='"Liberation Sans", sans-serif' textLength="76" lengthAdjust="spacingAndGlyphs"><tspan font-style="italic">f</tspan>(−1)</text>
<text x="1142" y="939.8" font-size="33" fill="#000" font-family='"Liberation Sans", sans-serif' textLength="76" lengthAdjust="spacingAndGlyphs"><tspan font-style="italic">f</tspan>(−2)</text>
<text x="1142" y="980.5999999999999" font-size="33" fill="#000" font-family='"Liberation Sans", sans-serif' textLength="52" lengthAdjust="spacingAndGlyphs"><tspan font-style="italic">f</tspan>(2)</text>
</svg></body></html>
